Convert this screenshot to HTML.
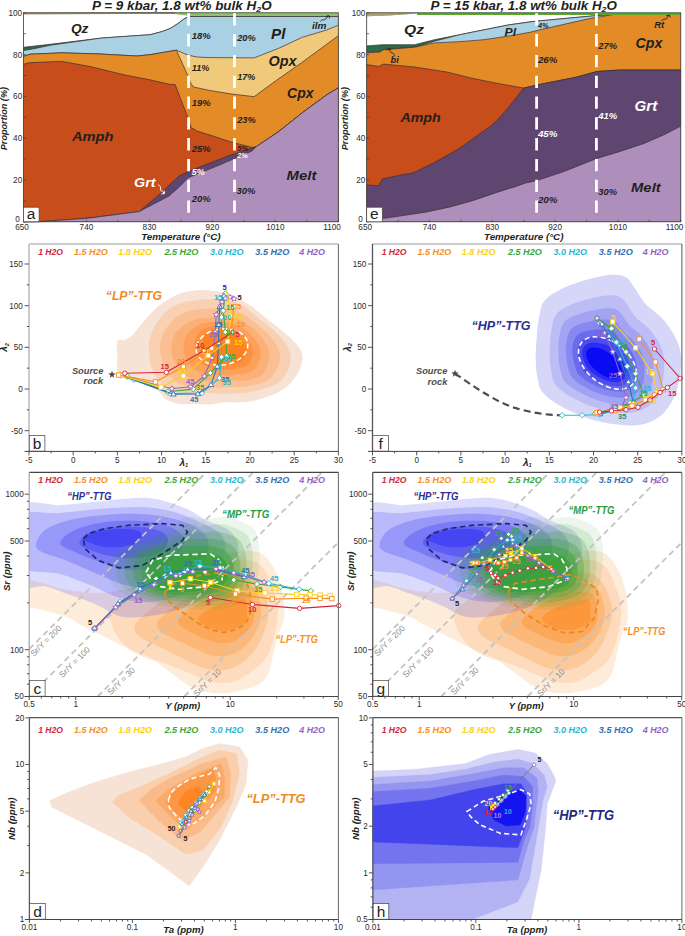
<!DOCTYPE html>
<html><head><meta charset="utf-8"><style>html,body{margin:0;padding:0;background:#fff;width:685px;height:936px;overflow:hidden}svg{display:block}</style></head><body>
<svg width="685" height="936" viewBox="0 0 685 936">
<rect x="23.5" y="12.8" width="314.8" height="209.0" fill="#8ec465"/>
<path d="M23.5,13.6 L170,13.4 L186,15.6 L192,16.5 L338.3,16.5 L338.3,221.8 L23.5,221.8Z" fill="#ffffff"/>
<path d="M23.5,47.3 L50,44.3 L101.8,38 L136.8,35.6 L150,34.7 L162,31.6 L170,28.6 L178,23.5 L184,19 L188.6,16.5 L338.3,16.5 L338.3,221.8 L23.5,221.8Z" fill="#2e6a47"/><path d="M23.5,47.3 L50,44.3 L101.8,38 L136.8,35.6 L150,34.7 L162,31.6 L170,28.6 L178,23.5 L184,19 L188.6,16.5 L338.3,16.5" fill="none" stroke="#3a2f2f" stroke-width="0.7"/>
<path d="M23.5,50.6 L35,48.5 L50,45.3 L101.8,38 L136.8,35.6 L150,34.7 L162,31.6 L170,28.6 L178,23.5 L184,19 L188.6,16.5 L338.3,16.5 L338.3,221.8 L23.5,221.8Z" fill="#a9d0e3"/><path d="M23.5,50.6 L35,48.5 L50,45.3 L101.8,38 L136.8,35.6 L150,34.7 L162,31.6 L170,28.6 L178,23.5 L184,19 L188.6,16.5 L338.3,16.5" fill="none" stroke="#3a2f2f" stroke-width="0.7"/>
<path d="M23.5,56.4 L30,54.2 L62,52.8 L100,54 L136.8,56 L150,54.7 L176.4,50.2 L188.2,55.2 L197,57 L210,57.6 L230,57.7 L254.1,57.9 L278.2,48.5 L302.3,37.3 L326.4,30.1 L338.3,25.3 L338.3,221.8 L23.5,221.8Z" fill="#f0c97b"/><path d="M23.5,56.4 L30,54.2 L62,52.8 L100,54 L136.8,56 L150,54.7 L176.4,50.2 L188.2,55.2 L197,57 L210,57.6 L230,57.7 L254.1,57.9 L278.2,48.5 L302.3,37.3 L326.4,30.1 L338.3,25.3" fill="none" stroke="#3a2f2f" stroke-width="0.7"/>
<path d="M23.5,56.4 L30,54.2 L62,52.8 L100,54 L136.8,56 L150,54.7 L176.4,50.2 L187.6,75.2 L190.5,82.8 L193.4,87 L210,90.5 L230,93.8 L254.1,96.7 L278.2,79.1 L302.3,62.2 L326.4,44.5 L338.3,35.7 L338.3,221.8 L23.5,221.8Z" fill="#e38b27"/><path d="M23.5,56.4 L30,54.2 L62,52.8 L100,54 L136.8,56 L150,54.7 L176.4,50.2 L187.6,75.2 L190.5,82.8 L193.4,87 L210,90.5 L230,93.8 L254.1,96.7 L278.2,79.1 L302.3,62.2 L326.4,44.5 L338.3,35.7" fill="none" stroke="#3a2f2f" stroke-width="0.7"/>
<path d="M23.5,64.3 L30,62.6 L62,61.4 L90,66.5 L125,75 L148.5,79.5 L169.5,84.3 L175.2,84.6 L187.6,116.9 L191.1,127.5 L197,131 L210,135.1 L230,141.7 L251.9,147.4 L256,146.8 L278.2,132 L302.3,112.8 L326.4,95.1 L338.3,87.9 L338.3,221.8 L23.5,221.8Z" fill="#c74d1b"/><path d="M23.5,64.3 L30,62.6 L62,61.4 L90,66.5 L125,75 L148.5,79.5 L169.5,84.3 L175.2,84.6 L187.6,116.9 L191.1,127.5 L197,131 L210,135.1 L230,141.7 L251.9,147.4 L256,146.8 L278.2,132 L302.3,112.8 L326.4,95.1 L338.3,87.9" fill="none" stroke="#3a2f2f" stroke-width="0.7"/>
<path d="M23.5,221.8 L39.9,221.6 L87.1,218.3 L139.2,211.6 L159.1,194.7 L170,184.5 L178.9,176.3 L188.6,171.3 L230,155.3 L251.9,148.2 L256,146.8 L278.2,132 L302.3,112.8 L326.4,95.1 L338.3,87.9 L338.3,221.8 L23.5,221.8Z" fill="#5f4670"/><path d="M23.5,221.8 L39.9,221.6 L87.1,218.3 L139.2,211.6 L159.1,194.7 L170,184.5 L178.9,176.3 L188.6,171.3 L230,155.3 L251.9,148.2 L256,146.8 L278.2,132 L302.3,112.8 L326.4,95.1 L338.3,87.9" fill="none" stroke="#3a2f2f" stroke-width="0.7"/>
<path d="M23.5,221.8 L39.9,221.6 L87.1,218.3 L139.2,211.6 L169,196 L178.9,187.3 L188.6,177.6 L220,164.8 L252,151 L256,146.8 L278.2,132 L302.3,112.8 L326.4,95.1 L338.3,87.9 L338.3,221.8 L23.5,221.8Z" fill="#ae8fbb"/><path d="M23.5,221.8 L39.9,221.6 L87.1,218.3 L139.2,211.6 L169,196 L178.9,187.3 L188.6,177.6 L220,164.8 L252,151 L256,146.8 L278.2,132 L302.3,112.8 L326.4,95.1 L338.3,87.9" fill="none" stroke="#3a2f2f" stroke-width="0.7"/>
<path d="M23.5,13.6 L120,13.3 L175,13.1" stroke="#a38c63" stroke-width="1.6" fill="none"/>
<rect x="23.5" y="12.8" width="314.8" height="209" fill="none" stroke="#3c3c3c" stroke-width="0.8"/>
<line x1="23.5" y1="221.8" x2="26" y2="221.8" stroke="#3c3c3c" stroke-width="0.7"/>
<text x="19.7" y="222.1" font-family="Liberation Sans" font-size="8.2" fill="#2b2b2b" font-weight="normal" font-style="normal" text-anchor="end" >0</text>
<line x1="23.5" y1="200.9" x2="26" y2="200.9" stroke="#3c3c3c" stroke-width="0.7"/>
<line x1="23.5" y1="180" x2="26" y2="180" stroke="#3c3c3c" stroke-width="0.7"/>
<text x="22.2" y="182.9" font-family="Liberation Sans" font-size="8.2" fill="#2b2b2b" font-weight="normal" font-style="normal" text-anchor="end" >20</text>
<line x1="23.5" y1="159.1" x2="26" y2="159.1" stroke="#3c3c3c" stroke-width="0.7"/>
<line x1="23.5" y1="138.2" x2="26" y2="138.2" stroke="#3c3c3c" stroke-width="0.7"/>
<text x="22.2" y="141.1" font-family="Liberation Sans" font-size="8.2" fill="#2b2b2b" font-weight="normal" font-style="normal" text-anchor="end" >40</text>
<line x1="23.5" y1="117.3" x2="26" y2="117.3" stroke="#3c3c3c" stroke-width="0.7"/>
<line x1="23.5" y1="96.4" x2="26" y2="96.4" stroke="#3c3c3c" stroke-width="0.7"/>
<text x="22.2" y="99.3" font-family="Liberation Sans" font-size="8.2" fill="#2b2b2b" font-weight="normal" font-style="normal" text-anchor="end" >60</text>
<line x1="23.5" y1="75.5" x2="26" y2="75.5" stroke="#3c3c3c" stroke-width="0.7"/>
<line x1="23.5" y1="54.6" x2="26" y2="54.6" stroke="#3c3c3c" stroke-width="0.7"/>
<text x="22.2" y="57.5" font-family="Liberation Sans" font-size="8.2" fill="#2b2b2b" font-weight="normal" font-style="normal" text-anchor="end" >80</text>
<line x1="23.5" y1="33.7" x2="26" y2="33.7" stroke="#3c3c3c" stroke-width="0.7"/>
<line x1="23.5" y1="12.8" x2="26" y2="12.8" stroke="#3c3c3c" stroke-width="0.7"/>
<text x="22.2" y="15.7" font-family="Liberation Sans" font-size="8.2" fill="#2b2b2b" font-weight="normal" font-style="normal" text-anchor="end" >100</text>
<line x1="23.5" y1="221.8" x2="23.5" y2="219.8" stroke="#3c3c3c" stroke-width="0.7"/>
<line x1="54.98" y1="221.8" x2="54.98" y2="219.8" stroke="#3c3c3c" stroke-width="0.7"/>
<line x1="86.46" y1="221.8" x2="86.46" y2="219.8" stroke="#3c3c3c" stroke-width="0.7"/>
<line x1="117.94" y1="221.8" x2="117.94" y2="219.8" stroke="#3c3c3c" stroke-width="0.7"/>
<line x1="149.42" y1="221.8" x2="149.42" y2="219.8" stroke="#3c3c3c" stroke-width="0.7"/>
<line x1="180.9" y1="221.8" x2="180.9" y2="219.8" stroke="#3c3c3c" stroke-width="0.7"/>
<line x1="212.38" y1="221.8" x2="212.38" y2="219.8" stroke="#3c3c3c" stroke-width="0.7"/>
<line x1="243.86" y1="221.8" x2="243.86" y2="219.8" stroke="#3c3c3c" stroke-width="0.7"/>
<line x1="275.34" y1="221.8" x2="275.34" y2="219.8" stroke="#3c3c3c" stroke-width="0.7"/>
<line x1="306.82" y1="221.8" x2="306.82" y2="219.8" stroke="#3c3c3c" stroke-width="0.7"/>
<line x1="338.3" y1="221.8" x2="338.3" y2="219.8" stroke="#3c3c3c" stroke-width="0.7"/>
<text x="22" y="229.7" font-family="Liberation Sans" font-size="8.2" fill="#2b2b2b" font-weight="normal" font-style="normal" text-anchor="middle" >650</text>
<text x="86.46" y="229.7" font-family="Liberation Sans" font-size="8.2" fill="#2b2b2b" font-weight="normal" font-style="normal" text-anchor="middle" >740</text>
<text x="149.42" y="229.7" font-family="Liberation Sans" font-size="8.2" fill="#2b2b2b" font-weight="normal" font-style="normal" text-anchor="middle" >830</text>
<text x="212.38" y="229.7" font-family="Liberation Sans" font-size="8.2" fill="#2b2b2b" font-weight="normal" font-style="normal" text-anchor="middle" >920</text>
<text x="275.34" y="229.7" font-family="Liberation Sans" font-size="8.2" fill="#2b2b2b" font-weight="normal" font-style="normal" text-anchor="middle" >1010</text>
<text x="340.8" y="229.7" font-family="Liberation Sans" font-size="8.2" fill="#2b2b2b" font-weight="normal" font-style="normal" text-anchor="end" >1100</text>
<text x="180.9" y="239.5" font-family="Liberation Sans" font-size="9.5" fill="#231f20" font-weight="bold" font-style="italic" text-anchor="middle" textLength="79.5" lengthAdjust="spacingAndGlyphs" >Temperature (°C)</text>
<g transform="translate(7.2,118.6) rotate(-90)"><text x="0" y="0" font-family="Liberation Sans" font-size="8.8" fill="#231f20" font-weight="bold" font-style="italic" text-anchor="middle" textLength="63.3" lengthAdjust="spacingAndGlyphs" >Proportion (%)</text></g>
<text x="92" y="9.8" font-family="Liberation Sans" font-size="12" font-weight="bold" font-style="italic" fill="#231f20" textLength="179.7" lengthAdjust="spacingAndGlyphs">P = 9 kbar, 1.8 wt% bulk H<tspan font-size="8" dy="2">2</tspan><tspan dy="-2">O</tspan></text>
<line x1="188.6" y1="13.3" x2="188.6" y2="221" stroke="#ffffff" stroke-width="2.8" stroke-dasharray="12.3 8.5" stroke-dashoffset="0"/>
<line x1="234.5" y1="13.3" x2="234.5" y2="221" stroke="#ffffff" stroke-width="2.8" stroke-dasharray="12.3 8.5" stroke-dashoffset="0"/>
<rect x="23.5" y="207.2" width="15.6" height="14.6" fill="#fff" stroke="#4a3f3f" stroke-width="0.7"/>
<text x="31.1" y="218.9" font-family="Liberation Sans" font-size="15.5" fill="#231f20" font-weight="normal" font-style="normal" text-anchor="middle" >a</text>
<text x="70.9" y="33.4" font-family="Liberation Sans" font-size="13.5" fill="#231f20" font-weight="bold" font-style="italic" text-anchor="start" textLength="17.5" lengthAdjust="spacingAndGlyphs" >Qz</text>
<text x="271" y="38.6" font-family="Liberation Sans" font-size="14" fill="#231f20" font-weight="bold" font-style="italic" text-anchor="start" textLength="14.4" lengthAdjust="spacingAndGlyphs" >Pl</text>
<text x="268.5" y="66.2" font-family="Liberation Sans" font-size="14" fill="#231f20" font-weight="bold" font-style="italic" text-anchor="start" textLength="28.1" lengthAdjust="spacingAndGlyphs" >Opx</text>
<text x="287" y="97.5" font-family="Liberation Sans" font-size="14" fill="#231f20" font-weight="bold" font-style="italic" text-anchor="start" textLength="26.5" lengthAdjust="spacingAndGlyphs" >Cpx</text>
<text x="71.9" y="140.8" font-family="Liberation Sans" font-size="13.5" fill="#231f20" font-weight="bold" font-style="italic" text-anchor="start" textLength="41.6" lengthAdjust="spacingAndGlyphs" >Amph</text>
<text x="286.6" y="179.5" font-family="Liberation Sans" font-size="13.5" fill="#231f20" font-weight="bold" font-style="italic" text-anchor="start" textLength="29.8" lengthAdjust="spacingAndGlyphs" >Melt</text>
<text x="134" y="187" font-family="Liberation Sans" font-size="12.5" fill="#ffffff" font-weight="bold" font-style="italic" text-anchor="start" textLength="21.5" lengthAdjust="spacingAndGlyphs" >Grt</text>
<text x="311.9" y="28.5" font-family="Liberation Sans" font-size="9" fill="#231f20" font-weight="bold" font-style="italic" text-anchor="start" textLength="14.5" lengthAdjust="spacingAndGlyphs" >ilm</text>
<path d="M320.3,21.6 C321.5,20 322.5,19.6 323.5,19.8 C325,20 325.6,19.2 326.5,18.1 L328.4,15.8" fill="none" stroke="#231f20" stroke-width="0.9"/>
<path d="M325.6,16.7 L328.6,15.4 L329.6,18.4" fill="none" stroke="#231f20" stroke-width="0.9"/>
<path d="M158.2,184.8 C160,185.8 161.2,187.2 160.4,189 C160,190.3 162,191.2 164.2,193.1" fill="none" stroke="#ffffff" stroke-width="1"/>
<path d="M161.4,193.9 L164.6,193.5 L164,190.5" fill="none" stroke="#ffffff" stroke-width="1"/>
<text x="191.8" y="39.3" font-family="Liberation Sans" font-size="9" fill="#231f20" font-weight="bold" font-style="italic" text-anchor="start" textLength="19" lengthAdjust="spacingAndGlyphs" >18%</text>
<text x="191.8" y="70.8" font-family="Liberation Sans" font-size="9" fill="#231f20" font-weight="bold" font-style="italic" text-anchor="start" textLength="17.5" lengthAdjust="spacingAndGlyphs" >11%</text>
<text x="191.8" y="105.5" font-family="Liberation Sans" font-size="9" fill="#231f20" font-weight="bold" font-style="italic" text-anchor="start" textLength="19" lengthAdjust="spacingAndGlyphs" >19%</text>
<text x="191.8" y="152.2" font-family="Liberation Sans" font-size="9" fill="#231f20" font-weight="bold" font-style="italic" text-anchor="start" textLength="19" lengthAdjust="spacingAndGlyphs" >25%</text>
<text x="191.8" y="175" font-family="Liberation Sans" font-size="9" fill="#ffffff" font-weight="bold" font-style="italic" text-anchor="start" textLength="13" lengthAdjust="spacingAndGlyphs" >5%</text>
<text x="191.8" y="201.8" font-family="Liberation Sans" font-size="9" fill="#231f20" font-weight="bold" font-style="italic" text-anchor="start" textLength="19" lengthAdjust="spacingAndGlyphs" >20%</text>
<text x="237.2" y="41.3" font-family="Liberation Sans" font-size="9" fill="#231f20" font-weight="bold" font-style="italic" text-anchor="start" textLength="18.5" lengthAdjust="spacingAndGlyphs" >20%</text>
<text x="237.2" y="79.9" font-family="Liberation Sans" font-size="9" fill="#231f20" font-weight="bold" font-style="italic" text-anchor="start" textLength="18" lengthAdjust="spacingAndGlyphs" >17%</text>
<text x="237.2" y="123.2" font-family="Liberation Sans" font-size="9" fill="#231f20" font-weight="bold" font-style="italic" text-anchor="start" textLength="18.5" lengthAdjust="spacingAndGlyphs" >23%</text>
<text x="237.2" y="150.5" font-family="Liberation Sans" font-size="8" fill="#231f20" font-weight="bold" font-style="italic" text-anchor="start" textLength="11" lengthAdjust="spacingAndGlyphs" >5%</text>
<text x="237.2" y="157.7" font-family="Liberation Sans" font-size="8" fill="#ffffff" font-weight="bold" font-style="italic" text-anchor="start" textLength="10.5" lengthAdjust="spacingAndGlyphs" >2%</text>
<text x="236.5" y="193.9" font-family="Liberation Sans" font-size="9" fill="#231f20" font-weight="bold" font-style="italic" text-anchor="start" textLength="19" lengthAdjust="spacingAndGlyphs" >30%</text>
<rect x="366.7" y="12.8" width="314.09999999999997" height="209.0" fill="#6fae3e"/>
<path d="M366.7,16.2 L390,15.2 L417,13.6 L680.8,13.6 L680.8,221.8 L366.7,221.8Z" fill="#ffffff"/>
<path d="M366.7,45.9 L382.3,44.7 L414.6,44.7 L434.4,39.7 L459.3,34.8 L484,29.8 L508.9,24.9 L530,21.9 L537.3,21.1 L589.4,16.2 L614.3,14.4 L680.8,13.8 L680.8,221.8 L366.7,221.8Z" fill="#2e6a47"/><path d="M366.7,45.9 L382.3,44.7 L414.6,44.7 L434.4,39.7 L459.3,34.8 L484,29.8 L508.9,24.9 L530,21.9 L537.3,21.1 L589.4,16.2 L614.3,14.4 L680.8,13.8" fill="none" stroke="#3a2f2f" stroke-width="0.7"/>
<path d="M366.7,52.6 L379.9,52.1 L383.6,49.7 L414.6,47.2 L428,43.2 L434.4,41.2 L459.3,34.8 L484,29.8 L508.9,24.9 L530,21.9 L537.3,21.1 L589.4,16.2 L614.3,14.4 L680.8,13.8 L680.8,221.8 L366.7,221.8Z" fill="#a9d0e3"/><path d="M366.7,52.6 L379.9,52.1 L383.6,49.7 L414.6,47.2 L428,43.2 L434.4,41.2 L459.3,34.8 L484,29.8 L508.9,24.9 L530,21.9 L537.3,21.1 L589.4,16.2 L614.3,14.4 L680.8,13.8" fill="none" stroke="#3a2f2f" stroke-width="0.7"/>
<path d="M366.7,52.6 L379.9,52.1 L383.6,49.7 L414.6,47.2 L434.4,42.9 L459.3,41.7 L484,39.7 L508.9,36 L530,32.3 L539.8,29.8 L589.4,18.6 L614.3,14.4 L680.8,13.8 L680.8,221.8 L366.7,221.8Z" fill="#e38b27"/><path d="M366.7,52.6 L379.9,52.1 L383.6,49.7 L414.6,47.2 L434.4,42.9 L459.3,41.7 L484,39.7 L508.9,36 L530,32.3 L539.8,29.8 L589.4,18.6 L614.3,14.4 L680.8,13.8" fill="none" stroke="#3a2f2f" stroke-width="0.7"/>
<path d="M366.7,64.6 L378.6,66.5 L383.6,64.1 L414.6,67 L446.8,72 L471.7,78.2 L496.5,83.2 L523.8,88.1 L539.8,84.4 L577,77 L596.9,71.5 L619.2,70 L680.8,70 L680.8,221.8 L366.7,221.8Z" fill="#c74d1b"/><path d="M366.7,64.6 L378.6,66.5 L383.6,64.1 L414.6,67 L446.8,72 L471.7,78.2 L496.5,83.2 L523.8,88.1 L539.8,84.4 L577,77 L596.9,71.5 L619.2,70 L680.8,70" fill="none" stroke="#3a2f2f" stroke-width="0.7"/>
<path d="M366.7,184.9 L378.6,185.7 L382.3,179 L397.2,175.8 L413.3,172.8 L434.4,162.6 L459.3,148.5 L479.1,134.2 L491.4,125.5 L500,117.5 L512.4,102.5 L523.8,88.1 L539.8,84.4 L577,77 L596.9,71.5 L619.2,70 L680.8,70 L680.8,221.8 L366.7,221.8Z" fill="#5f4670"/><path d="M366.7,184.9 L378.6,185.7 L382.3,179 L397.2,175.8 L413.3,172.8 L434.4,162.6 L459.3,148.5 L479.1,134.2 L491.4,125.5 L500,117.5 L512.4,102.5 L523.8,88.1 L539.8,84.4 L577,77 L596.9,71.5 L619.2,70 L680.8,70" fill="none" stroke="#3a2f2f" stroke-width="0.7"/>
<path d="M366.7,221.6 L382.3,218.6 L403.4,215.5 L426.7,212 L450.1,206.9 L473.4,200.4 L496.8,192.4 L516,186.4 L524.9,183.2 L537.3,180.4 L564.6,171.3 L596.9,158.4 L619.2,151.7 L644,143.5 L663.9,134.8 L680.8,126.1 L680.8,221.8 L366.7,221.8Z" fill="#ae8fbb"/><path d="M366.7,221.6 L382.3,218.6 L403.4,215.5 L426.7,212 L450.1,206.9 L473.4,200.4 L496.8,192.4 L516,186.4 L524.9,183.2 L537.3,180.4 L564.6,171.3 L596.9,158.4 L619.2,151.7 L644,143.5 L663.9,134.8 L680.8,126.1" fill="none" stroke="#3a2f2f" stroke-width="0.7"/>
<path d="M366.7,12.8 L366.7,16.2 L390,15.4 L417,13.4 L366.7,12.8 Z" fill="#b09d78"/>
<path d="M417,13.9 L680.8,13.9" stroke="#55b025" stroke-width="2" fill="none"/>
<rect x="366.7" y="12.8" width="314.1" height="209" fill="none" stroke="#3c3c3c" stroke-width="0.8"/>
<line x1="366.7" y1="221.8" x2="369.2" y2="221.8" stroke="#3c3c3c" stroke-width="0.7"/>
<text x="362.9" y="222.1" font-family="Liberation Sans" font-size="8.2" fill="#2b2b2b" font-weight="normal" font-style="normal" text-anchor="end" >0</text>
<line x1="366.7" y1="200.9" x2="369.2" y2="200.9" stroke="#3c3c3c" stroke-width="0.7"/>
<line x1="366.7" y1="180" x2="369.2" y2="180" stroke="#3c3c3c" stroke-width="0.7"/>
<text x="365.4" y="182.9" font-family="Liberation Sans" font-size="8.2" fill="#2b2b2b" font-weight="normal" font-style="normal" text-anchor="end" >20</text>
<line x1="366.7" y1="159.1" x2="369.2" y2="159.1" stroke="#3c3c3c" stroke-width="0.7"/>
<line x1="366.7" y1="138.2" x2="369.2" y2="138.2" stroke="#3c3c3c" stroke-width="0.7"/>
<text x="365.4" y="141.1" font-family="Liberation Sans" font-size="8.2" fill="#2b2b2b" font-weight="normal" font-style="normal" text-anchor="end" >40</text>
<line x1="366.7" y1="117.3" x2="369.2" y2="117.3" stroke="#3c3c3c" stroke-width="0.7"/>
<line x1="366.7" y1="96.4" x2="369.2" y2="96.4" stroke="#3c3c3c" stroke-width="0.7"/>
<text x="365.4" y="99.3" font-family="Liberation Sans" font-size="8.2" fill="#2b2b2b" font-weight="normal" font-style="normal" text-anchor="end" >60</text>
<line x1="366.7" y1="75.5" x2="369.2" y2="75.5" stroke="#3c3c3c" stroke-width="0.7"/>
<line x1="366.7" y1="54.6" x2="369.2" y2="54.6" stroke="#3c3c3c" stroke-width="0.7"/>
<text x="365.4" y="57.5" font-family="Liberation Sans" font-size="8.2" fill="#2b2b2b" font-weight="normal" font-style="normal" text-anchor="end" >80</text>
<line x1="366.7" y1="33.7" x2="369.2" y2="33.7" stroke="#3c3c3c" stroke-width="0.7"/>
<line x1="366.7" y1="12.8" x2="369.2" y2="12.8" stroke="#3c3c3c" stroke-width="0.7"/>
<text x="365.4" y="15.7" font-family="Liberation Sans" font-size="8.2" fill="#2b2b2b" font-weight="normal" font-style="normal" text-anchor="end" >100</text>
<line x1="366.7" y1="221.8" x2="366.7" y2="219.8" stroke="#3c3c3c" stroke-width="0.7"/>
<line x1="398.11" y1="221.8" x2="398.11" y2="219.8" stroke="#3c3c3c" stroke-width="0.7"/>
<line x1="429.52" y1="221.8" x2="429.52" y2="219.8" stroke="#3c3c3c" stroke-width="0.7"/>
<line x1="460.93" y1="221.8" x2="460.93" y2="219.8" stroke="#3c3c3c" stroke-width="0.7"/>
<line x1="492.34" y1="221.8" x2="492.34" y2="219.8" stroke="#3c3c3c" stroke-width="0.7"/>
<line x1="523.75" y1="221.8" x2="523.75" y2="219.8" stroke="#3c3c3c" stroke-width="0.7"/>
<line x1="555.16" y1="221.8" x2="555.16" y2="219.8" stroke="#3c3c3c" stroke-width="0.7"/>
<line x1="586.57" y1="221.8" x2="586.57" y2="219.8" stroke="#3c3c3c" stroke-width="0.7"/>
<line x1="617.98" y1="221.8" x2="617.98" y2="219.8" stroke="#3c3c3c" stroke-width="0.7"/>
<line x1="649.39" y1="221.8" x2="649.39" y2="219.8" stroke="#3c3c3c" stroke-width="0.7"/>
<line x1="680.8" y1="221.8" x2="680.8" y2="219.8" stroke="#3c3c3c" stroke-width="0.7"/>
<text x="365.2" y="229.7" font-family="Liberation Sans" font-size="8.2" fill="#2b2b2b" font-weight="normal" font-style="normal" text-anchor="middle" >650</text>
<text x="429.52" y="229.7" font-family="Liberation Sans" font-size="8.2" fill="#2b2b2b" font-weight="normal" font-style="normal" text-anchor="middle" >740</text>
<text x="492.34" y="229.7" font-family="Liberation Sans" font-size="8.2" fill="#2b2b2b" font-weight="normal" font-style="normal" text-anchor="middle" >830</text>
<text x="555.16" y="229.7" font-family="Liberation Sans" font-size="8.2" fill="#2b2b2b" font-weight="normal" font-style="normal" text-anchor="middle" >920</text>
<text x="617.98" y="229.7" font-family="Liberation Sans" font-size="8.2" fill="#2b2b2b" font-weight="normal" font-style="normal" text-anchor="middle" >1010</text>
<text x="683.3" y="229.7" font-family="Liberation Sans" font-size="8.2" fill="#2b2b2b" font-weight="normal" font-style="normal" text-anchor="end" >1100</text>
<text x="523.75" y="239.5" font-family="Liberation Sans" font-size="9.5" fill="#231f20" font-weight="bold" font-style="italic" text-anchor="middle" textLength="79.5" lengthAdjust="spacingAndGlyphs" >Temperature (°C)</text>
<g transform="translate(348.2,118.6) rotate(-90)"><text x="0" y="0" font-family="Liberation Sans" font-size="8.8" fill="#231f20" font-weight="bold" font-style="italic" text-anchor="middle" textLength="63.3" lengthAdjust="spacingAndGlyphs" >Proportion (%)</text></g>
<text x="430.6" y="9.8" font-family="Liberation Sans" font-size="12" font-weight="bold" font-style="italic" fill="#231f20" textLength="186.4" lengthAdjust="spacingAndGlyphs">P = 15 kbar, 1.8 wt% bulk H<tspan font-size="8" dy="2">2</tspan><tspan dy="-2">O</tspan></text>
<line x1="536.6" y1="13.3" x2="536.6" y2="221" stroke="#ffffff" stroke-width="2.8" stroke-dasharray="12.3 8.5" stroke-dashoffset="0"/>
<line x1="596.4" y1="13.3" x2="596.4" y2="221" stroke="#ffffff" stroke-width="2.8" stroke-dasharray="12.3 8.5" stroke-dashoffset="0"/>
<rect x="366.7" y="207.2" width="15.6" height="14.6" fill="#fff" stroke="#4a3f3f" stroke-width="0.7"/>
<text x="374.3" y="218.9" font-family="Liberation Sans" font-size="15.5" fill="#231f20" font-weight="normal" font-style="normal" text-anchor="middle" >e</text>
<text x="404" y="34.2" font-family="Liberation Sans" font-size="13.5" fill="#231f20" font-weight="bold" font-style="italic" text-anchor="start" textLength="20" lengthAdjust="spacingAndGlyphs" >Qz</text>
<text x="504.6" y="36.3" font-family="Liberation Sans" font-size="10" fill="#231f20" font-weight="bold" font-style="italic" text-anchor="start" textLength="11.6" lengthAdjust="spacingAndGlyphs" >Pl</text>
<text x="538" y="28.2" font-family="Liberation Sans" font-size="7" fill="#231f20" font-weight="bold" font-style="italic" text-anchor="start" textLength="10.5" lengthAdjust="spacingAndGlyphs" >4%</text>
<text x="390.6" y="63.2" font-family="Liberation Sans" font-size="9" fill="#231f20" font-weight="bold" font-style="italic" text-anchor="start" textLength="8.2" lengthAdjust="spacingAndGlyphs" >bi</text>
<text x="654.2" y="27.6" font-family="Liberation Sans" font-size="8.8" fill="#231f20" font-weight="bold" font-style="italic" text-anchor="start" textLength="10" lengthAdjust="spacingAndGlyphs" >Rt</text>
<path d="M394.4,56.4 C394.6,54.6 393.8,53.4 392.4,53 C390.6,52.6 389.6,51.4 388.6,48.4" fill="none" stroke="#231f20" stroke-width="0.9"/>
<path d="M387.2,50.4 L388.5,48 L391.2,50" fill="none" stroke="#231f20" stroke-width="0.9"/>
<path d="M661.4,21 C662.6,19.6 663.8,19 665.2,19.2 C666.6,19.2 667.6,17.4 669,15.2" fill="none" stroke="#231f20" stroke-width="0.9"/>
<path d="M666.2,16 L669.2,15 L670.4,17.4" fill="none" stroke="#231f20" stroke-width="0.9"/>
<text x="635.6" y="47.8" font-family="Liberation Sans" font-size="14" fill="#231f20" font-weight="bold" font-style="italic" text-anchor="start" textLength="26.7" lengthAdjust="spacingAndGlyphs" >Cpx</text>
<text x="400.4" y="121.9" font-family="Liberation Sans" font-size="13.5" fill="#231f20" font-weight="bold" font-style="italic" text-anchor="start" textLength="40.3" lengthAdjust="spacingAndGlyphs" >Amph</text>
<text x="634.6" y="110.8" font-family="Liberation Sans" font-size="14" fill="#ffffff" font-weight="bold" font-style="italic" text-anchor="start" textLength="22.6" lengthAdjust="spacingAndGlyphs" >Grt</text>
<text x="631" y="192.3" font-family="Liberation Sans" font-size="13.5" fill="#231f20" font-weight="bold" font-style="italic" text-anchor="start" textLength="29.7" lengthAdjust="spacingAndGlyphs" >Melt</text>
<text x="598.3" y="48.8" font-family="Liberation Sans" font-size="9" fill="#231f20" font-weight="bold" font-style="italic" text-anchor="start" textLength="18.7" lengthAdjust="spacingAndGlyphs" >27%</text>
<text x="537.9" y="62.9" font-family="Liberation Sans" font-size="9" fill="#231f20" font-weight="bold" font-style="italic" text-anchor="start" textLength="19.6" lengthAdjust="spacingAndGlyphs" >26%</text>
<text x="598.3" y="118.8" font-family="Liberation Sans" font-size="9" fill="#ffffff" font-weight="bold" font-style="italic" text-anchor="start" textLength="19" lengthAdjust="spacingAndGlyphs" >41%</text>
<text x="537.9" y="137" font-family="Liberation Sans" font-size="9" fill="#ffffff" font-weight="bold" font-style="italic" text-anchor="start" textLength="19.6" lengthAdjust="spacingAndGlyphs" >45%</text>
<text x="598.3" y="195.4" font-family="Liberation Sans" font-size="9" fill="#231f20" font-weight="bold" font-style="italic" text-anchor="start" textLength="18.7" lengthAdjust="spacingAndGlyphs" >30%</text>
<text x="537.9" y="203.4" font-family="Liberation Sans" font-size="9" fill="#231f20" font-weight="bold" font-style="italic" text-anchor="start" textLength="19.6" lengthAdjust="spacingAndGlyphs" >20%</text>
<path d="M117.3,341.3 C118.52,338.62 122.17,340.87 124.6,339.9 C127.03,338.93 129.47,337.7 131.9,335.5 C134.33,333.3 136.52,329.87 139.2,326.7 C141.88,323.53 144.83,319.9 148,316.5 C151.17,313.1 154.32,309.47 158.2,306.3 C162.08,303.13 167.17,299.82 171.3,297.5 C175.43,295.18 178.62,293.62 183,292.4 C187.38,291.18 193.1,290.5 197.6,290.2 C202.1,289.9 206.22,290.28 210,290.6 C213.78,290.92 216.02,291.05 220.3,292.1 C224.58,293.15 230.58,294.57 235.7,296.9 C240.82,299.23 245.9,302.53 251,306.1 C256.1,309.67 261.2,314.22 266.3,318.3 C271.4,322.38 277,326.77 281.6,330.6 C286.2,334.43 290.57,337.73 293.9,341.3 C297.23,344.87 300.2,348.68 301.6,352 C303,355.32 302.82,357.87 302.3,361.2 C301.78,364.53 300.42,368.42 298.5,372 C296.58,375.58 293.88,379.47 290.8,382.7 C287.72,385.93 283.87,389.1 280,391.4 C276.13,393.7 272.1,394.92 267.6,396.5 C263.1,398.08 257.87,399.93 253,400.9 C248.13,401.87 243.27,402.03 238.4,402.3 C233.53,402.57 228.67,402.13 223.8,402.5 C218.93,402.87 214.07,404.25 209.2,404.5 C204.33,404.75 199.57,404.08 194.6,404 C189.63,403.92 184.12,404.73 179.4,404 C174.68,403.27 170.02,401.87 166.3,399.6 C162.58,397.33 161.48,393.17 157.1,390.4 C152.72,387.63 145.85,385.23 140,383 C134.15,380.77 125.78,378.83 122,377 C118.22,375.17 118.08,375.5 117.3,372 C116.52,368.5 117.3,361.12 117.3,356 C117.3,350.88 116.08,343.98 117.3,341.3Z" fill="#f7e3d5" />
<path d="M148.7,348.6 C148.42,344.13 148.65,343.4 149.5,340 C150.35,336.6 151.13,332.85 153.8,328.2 C156.47,323.55 161.12,316.23 165.5,312.1 C169.88,307.97 175.23,305.35 180.1,303.4 C184.97,301.45 189.72,301.1 194.7,300.4 C199.68,299.7 204.45,299.28 210,299.2 C215.55,299.12 222.45,298.75 228,299.9 C233.55,301.05 238.2,303.03 243.3,306.1 C248.4,309.17 253.48,314.22 258.6,318.3 C263.72,322.38 269.4,326.25 274,330.6 C278.6,334.95 283.4,340.07 286.2,344.4 C289,348.73 290.42,352.52 290.8,356.6 C291.18,360.68 290.03,365.07 288.5,368.9 C286.97,372.73 283.87,376.95 281.6,379.6 C279.33,382.25 278.45,383.08 274.9,384.8 C271.35,386.52 265.17,388.57 260.3,389.9 C255.43,391.23 251.78,392.12 245.7,392.8 C239.62,393.48 231.1,394.05 223.8,394 C216.5,393.95 208.37,392.67 201.9,392.5 C195.43,392.33 190.28,393.52 185,393 C179.72,392.48 173.98,390.87 170.2,389.4 C166.42,387.93 164.7,386.43 162.3,384.2 C159.9,381.97 157.65,378.9 155.8,376 C153.95,373.1 152.38,371.37 151.2,366.8 C150.02,362.23 148.98,353.07 148.7,348.6Z" fill="#f9d0b2" />
<path d="M278.12,348 C278.96,349.94 279.62,352.04 279.91,354.09 C280.2,356.14 280.16,358.27 279.88,360.3 C279.59,362.33 278.95,364.35 278.2,366.26 C277.44,368.17 276.4,369.99 275.35,371.75 C274.31,373.52 273.34,375.35 271.94,376.83 C270.55,378.32 268.8,379.63 266.97,380.67 C265.14,381.72 262.95,382.41 260.97,383.09 C258.99,383.77 257,384.29 255.11,384.77 C253.21,385.25 251.4,385.67 249.6,385.99 C247.8,386.3 246.03,386.5 244.32,386.66 C242.61,386.81 240.93,386.85 239.33,386.92 C237.72,386.99 236.19,387.02 234.7,387.08 C233.2,387.14 231.77,387.2 230.35,387.26 C228.92,387.32 227.53,387.38 226.14,387.42 C224.75,387.45 223.38,387.49 222,387.49 C220.62,387.5 219.25,387.47 217.86,387.43 C216.46,387.39 215.08,387.33 213.66,387.26 C212.24,387.18 210.82,387.08 209.33,386.99 C207.85,386.91 206.36,386.8 204.75,386.75 C203.14,386.7 201.48,386.69 199.67,386.68 C197.87,386.66 195.88,386.78 193.92,386.65 C191.95,386.52 189.89,386.31 187.88,385.89 C185.87,385.48 183.82,384.9 181.85,384.15 C179.88,383.4 177.82,382.52 176.06,381.38 C174.3,380.23 172.73,378.79 171.29,377.28 C169.85,375.76 168.63,374.04 167.42,372.3 C166.2,370.56 164.93,368.77 163.99,366.85 C163.04,364.93 162.35,362.87 161.77,360.8 C161.19,358.74 160.8,356.6 160.49,354.46 C160.18,352.33 159.89,350.15 159.91,348 C159.93,345.85 160.19,343.66 160.6,341.55 C161.02,339.44 161.64,337.33 162.42,335.33 C163.19,333.34 164.13,331.37 165.25,329.56 C166.37,327.75 167.79,326.07 169.16,324.48 C170.54,322.88 171.98,321.37 173.49,319.99 C175,318.61 176.58,317.32 178.24,316.2 C179.89,315.08 181.66,314.11 183.43,313.27 C185.2,312.44 187.03,311.74 188.86,311.2 C190.69,310.65 192.59,310.32 194.39,310 C196.19,309.68 197.97,309.52 199.66,309.31 C201.35,309.1 202.94,308.89 204.52,308.74 C206.1,308.6 207.64,308.5 209.14,308.43 C210.65,308.36 212.12,308.35 213.57,308.33 C215.01,308.3 216.42,308.28 217.83,308.28 C219.23,308.28 220.61,308.29 222,308.32 C223.39,308.36 224.77,308.38 226.15,308.51 C227.53,308.63 228.91,308.8 230.28,309.06 C231.64,309.31 233.01,309.63 234.33,310.05 C235.66,310.46 236.97,310.96 238.24,311.52 C239.51,312.09 240.75,312.74 241.96,313.43 C243.17,314.12 244.33,314.89 245.49,315.67 C246.65,316.44 247.78,317.26 248.93,318.1 C250.07,318.93 251.2,319.78 252.36,320.66 C253.53,321.54 254.71,322.42 255.93,323.35 C257.15,324.28 258.41,325.22 259.67,326.25 C260.93,327.28 262.22,328.35 263.5,329.52 C264.78,330.69 266.06,331.93 267.34,333.27 C268.61,334.61 269.89,336.02 271.15,337.55 C272.41,339.08 273.76,340.7 274.92,342.44 C276.08,344.18 277.29,346.06 278.12,348Z" fill="#fac093" />
<path d="M171.3,345.7 C171.63,342.53 172.78,338.68 174,336 C175.22,333.32 175.63,332.12 178.6,329.6 C181.57,327.08 187.17,322.83 191.8,320.9 C196.43,318.97 201.7,318.57 206.4,318 C211.1,317.43 215.12,317.45 220,317.5 C224.88,317.55 230.03,316.38 235.7,318.3 C241.37,320.22 248.9,324.65 254,329 C259.1,333.35 263.73,339.8 266.3,344.4 C268.87,349 269.4,352.77 269.4,356.6 C269.4,360.43 267.82,364.17 266.3,367.4 C264.78,370.63 263.73,373.83 260.3,376 C256.87,378.17 250.57,379.63 245.7,380.4 C240.83,381.17 236.6,380.47 231.1,380.6 C225.6,380.73 218.72,381.38 212.7,381.2 C206.68,381.02 199.78,380.7 195,379.5 C190.22,378.3 187.17,376.58 184,374 C180.83,371.42 178,367.17 176,364 C174,360.83 172.78,358.05 172,355 C171.22,351.95 170.97,348.87 171.3,345.7Z" fill="#fbb076" />
<path d="M259.71,348 C260.13,349.31 260.43,350.69 260.57,352.05 C260.71,353.42 260.73,354.84 260.56,356.2 C260.4,357.56 260.02,358.91 259.59,360.21 C259.15,361.51 258.55,362.77 257.94,364 C257.34,365.24 256.79,366.53 255.96,367.61 C255.13,368.69 254.13,369.72 252.96,370.5 C251.8,371.28 250.32,371.8 248.97,372.28 C247.63,372.77 246.22,373.11 244.9,373.43 C243.57,373.75 242.3,374.01 241.04,374.21 C239.78,374.4 238.55,374.51 237.35,374.59 C236.16,374.67 234.99,374.66 233.88,374.68 C232.77,374.71 231.72,374.72 230.69,374.76 C229.67,374.8 228.7,374.86 227.72,374.91 C226.75,374.97 225.8,375.04 224.85,375.09 C223.89,375.14 222.95,375.2 222,375.24 C221.05,375.27 220.1,375.31 219.13,375.31 C218.16,375.32 217.19,375.31 216.2,375.26 C215.22,375.22 214.23,375.13 213.22,375.03 C212.21,374.92 211.19,374.8 210.14,374.64 C209.09,374.49 208.02,374.32 206.92,374.11 C205.83,373.9 204.69,373.68 203.56,373.38 C202.43,373.08 201.25,372.74 200.12,372.3 C198.99,371.85 197.84,371.34 196.78,370.71 C195.71,370.08 194.68,369.35 193.73,368.54 C192.78,367.73 191.88,366.82 191.06,365.86 C190.24,364.9 189.52,363.85 188.81,362.78 C188.09,361.71 187.4,360.6 186.78,359.44 C186.16,358.29 185.55,357.09 185.08,355.85 C184.62,354.61 184.23,353.31 183.97,352 C183.71,350.69 183.55,349.34 183.52,348 C183.48,346.66 183.59,345.31 183.77,343.98 C183.96,342.66 184.25,341.34 184.62,340.05 C184.99,338.77 185.34,337.46 185.97,336.29 C186.6,335.12 187.52,334.05 188.39,333.04 C189.27,332.03 190.25,331.1 191.2,330.22 C192.15,329.33 193.11,328.49 194.11,327.74 C195.12,326.98 196.14,326.27 197.22,325.69 C198.31,325.11 199.47,324.64 200.62,324.25 C201.76,323.86 202.94,323.58 204.07,323.32 C205.2,323.07 206.32,322.88 207.4,322.71 C208.48,322.54 209.52,322.38 210.55,322.28 C211.58,322.17 212.59,322.11 213.58,322.08 C214.57,322.05 215.54,322.07 216.49,322.09 C217.44,322.11 218.37,322.17 219.29,322.21 C220.21,322.26 221.1,322.32 222,322.35 C222.9,322.39 223.79,322.39 224.69,322.42 C225.59,322.46 226.5,322.48 227.41,322.56 C228.32,322.64 229.24,322.73 230.15,322.9 C231.06,323.08 231.98,323.3 232.87,323.58 C233.77,323.86 234.64,324.21 235.52,324.58 C236.41,324.94 237.28,325.34 238.16,325.76 C239.04,326.18 239.92,326.63 240.8,327.12 C241.69,327.6 242.58,328.11 243.47,328.67 C244.37,329.22 245.27,329.8 246.16,330.45 C247.05,331.09 247.96,331.77 248.82,332.52 C249.68,333.27 250.51,334.08 251.33,334.94 C252.14,335.81 252.92,336.73 253.69,337.7 C254.46,338.68 255.21,339.7 255.93,340.79 C256.65,341.87 257.38,343.01 258.01,344.22 C258.64,345.42 259.28,346.69 259.71,348Z" fill="#fca05a" />
<path d="M252.31,348 C252.6,349.05 252.79,350.15 252.86,351.24 C252.93,352.33 252.88,353.45 252.73,354.53 C252.57,355.61 252.27,356.69 251.92,357.72 C251.56,358.75 251.09,359.76 250.58,360.72 C250.06,361.68 249.53,362.66 248.81,363.48 C248.1,364.3 247.23,365.05 246.28,365.64 C245.34,366.24 244.2,366.66 243.16,367.05 C242.11,367.44 241.02,367.72 239.99,367.98 C238.97,368.25 237.97,368.46 237,368.64 C236.03,368.83 235.08,368.96 234.17,369.07 C233.25,369.19 232.36,369.25 231.5,369.33 C230.64,369.41 229.81,369.47 229,369.54 C228.19,369.62 227.41,369.69 226.63,369.76 C225.84,369.83 225.08,369.89 224.31,369.94 C223.54,369.99 222.77,370.04 222,370.06 C221.23,370.08 220.46,370.09 219.68,370.07 C218.9,370.05 218.12,370.01 217.34,369.93 C216.56,369.84 215.78,369.71 215,369.55 C214.22,369.39 213.44,369.19 212.67,368.97 C211.89,368.74 211.11,368.49 210.33,368.21 C209.55,367.93 208.77,367.63 207.99,367.28 C207.22,366.93 206.44,366.55 205.69,366.12 C204.94,365.68 204.19,365.2 203.49,364.67 C202.79,364.13 202.11,363.54 201.48,362.91 C200.86,362.27 200.26,361.59 199.72,360.87 C199.17,360.15 198.69,359.37 198.22,358.59 C197.76,357.8 197.31,356.99 196.91,356.15 C196.51,355.32 196.12,354.45 195.81,353.57 C195.49,352.68 195.22,351.76 195.02,350.84 C194.81,349.91 194.66,348.95 194.57,348 C194.48,347.05 194.46,346.07 194.49,345.11 C194.52,344.14 194.6,343.17 194.73,342.2 C194.87,341.24 195.01,340.25 195.3,339.33 C195.6,338.4 196.05,337.51 196.51,336.65 C196.98,335.8 197.51,334.97 198.08,334.19 C198.64,333.4 199.24,332.64 199.89,331.94 C200.55,331.24 201.25,330.57 202.01,330 C202.77,329.43 203.61,328.94 204.46,328.52 C205.31,328.1 206.21,327.77 207.08,327.47 C207.96,327.18 208.86,326.95 209.73,326.76 C210.61,326.56 211.48,326.41 212.34,326.3 C213.2,326.2 214.06,326.15 214.9,326.14 C215.73,326.12 216.56,326.17 217.37,326.22 C218.18,326.27 218.96,326.36 219.73,326.44 C220.51,326.53 221.25,326.63 222,326.73 C222.75,326.82 223.47,326.91 224.21,327.01 C224.94,327.12 225.66,327.22 226.39,327.35 C227.11,327.48 227.84,327.63 228.56,327.81 C229.28,327.99 230,328.2 230.71,328.43 C231.43,328.67 232.13,328.93 232.85,329.21 C233.56,329.49 234.27,329.79 234.99,330.12 C235.72,330.44 236.44,330.78 237.18,331.14 C237.91,331.51 238.66,331.9 239.4,332.33 C240.15,332.76 240.91,333.22 241.65,333.72 C242.39,334.23 243.15,334.78 243.86,335.38 C244.57,335.99 245.25,336.65 245.9,337.36 C246.56,338.06 247.19,338.82 247.8,339.62 C248.4,340.42 248.99,341.26 249.54,342.15 C250.09,343.03 250.64,343.97 251.1,344.94 C251.56,345.92 252.01,346.95 252.31,348Z" fill="#fd913d" />
<path d="M203,343 C202.83,339.08 204,335.75 206,333.5 C208,331.25 211.33,329.73 215,329.5 C218.67,329.27 223.78,330.65 228,332.1 C232.22,333.55 237.23,335.38 240.3,338.2 C243.37,341.02 245.9,345.42 246.4,349 C246.9,352.58 245.6,357.15 243.3,359.7 C241,362.25 236.93,363.37 232.6,364.3 C228.27,365.23 221.57,366.52 217.3,365.3 C213.03,364.08 209.38,360.72 207,357 C204.62,353.28 203.17,346.92 203,343Z" fill="#fe8320" />
<ellipse cx="222" cy="347" rx="26" ry="18" transform="rotate(-8 222 347)" fill="none" stroke="#fff" stroke-width="1.6" stroke-dasharray="5 3.2"/>
<text x="105.8" y="300.1" font-family="Liberation Sans" font-size="13.5" fill="#f08a1c" font-weight="bold" font-style="italic" text-anchor="start" textLength="56.2" lengthAdjust="spacingAndGlyphs" >“LP”-TTG</text>
<text x="103.3" y="374" font-family="Liberation Sans" font-size="8.8" fill="#4d4d4d" font-weight="bold" font-style="italic" text-anchor="end" textLength="31.4" lengthAdjust="spacingAndGlyphs" >Source</text>
<text x="103.3" y="383.8" font-family="Liberation Sans" font-size="8.8" fill="#4d4d4d" font-weight="bold" font-style="italic" text-anchor="end" textLength="19.8" lengthAdjust="spacingAndGlyphs" >rock</text>
<path d="M112,370.8 L113.01,373.22 L115.61,373.43 L113.63,375.13 L114.23,377.67 L112,376.31 L109.77,377.67 L110.37,375.13 L108.39,373.43 L110.99,373.22Z" fill="#4d4d4d"/>
<path d="M544.1,301.3 C547.75,296.52 553.68,292.92 560.9,289.3 C568.12,285.68 578.97,282.02 587.4,279.6 C595.83,277.18 605.07,275.2 611.5,274.8 C617.93,274.4 621.98,274.78 626,277.2 C630.02,279.62 632.4,284.88 635.6,289.3 C638.8,293.72 640.78,298.88 645.2,303.7 C649.62,308.52 657.28,312.98 662.1,318.2 C666.92,323.42 671.03,329.37 674.1,335 C677.17,340.63 679.43,345.83 680.5,352 C681.57,358.17 681.17,365.45 680.5,372 C679.83,378.55 678.37,385.67 676.5,391.3 C674.63,396.93 672.1,401.58 669.3,405.8 C666.5,410.02 663.72,413.6 659.7,416.6 C655.68,419.6 650.42,422.32 645.2,423.8 C639.98,425.28 635.22,425.7 628.4,425.5 C621.58,425.3 612.33,424.28 604.3,422.6 C596.27,420.92 588.23,418.6 580.2,415.4 C572.17,412.2 562.52,407.42 556.1,403.4 C549.68,399.38 544.9,396.12 541.7,391.3 C538.5,386.48 537.9,380.38 536.9,374.5 C535.9,368.62 535.7,362.58 535.7,356 C535.7,349.42 536.35,341.33 536.9,335 C537.45,328.67 537.8,323.62 539,318 C540.2,312.38 540.45,306.08 544.1,301.3Z" fill="#d6d6f8" />
<path d="M664.14,362 C664.22,364.1 664.17,366.2 664.09,368.32 C664,370.43 663.87,372.55 663.63,374.67 C663.39,376.8 663.08,378.94 662.65,381.06 C662.22,383.18 661.73,385.32 661.04,387.39 C660.34,389.46 659.49,391.51 658.51,393.47 C657.52,395.43 656.4,397.36 655.13,399.15 C653.85,400.93 652.48,402.71 650.87,404.2 C649.27,405.69 647.39,406.98 645.5,408.08 C643.6,409.19 641.55,410.11 639.48,410.83 C637.41,411.55 635.23,412.06 633.09,412.39 C630.95,412.71 628.73,412.78 626.62,412.8 C624.5,412.82 622.41,412.66 620.41,412.51 C618.41,412.35 616.48,412.12 614.6,411.87 C612.72,411.62 610.92,411.33 609.15,411.01 C607.38,410.69 605.68,410.33 604,409.95 C602.32,409.57 600.7,409.14 599.09,408.7 C597.49,408.26 595.92,407.79 594.37,407.3 C592.82,406.8 591.3,406.28 589.79,405.72 C588.28,405.17 586.8,404.58 585.32,403.97 C583.83,403.35 582.37,402.7 580.9,402.02 C579.42,401.34 577.96,400.63 576.48,399.88 C575,399.13 573.52,398.35 572.02,397.52 C570.52,396.69 569,395.82 567.48,394.88 C565.96,393.94 564.4,392.96 562.89,391.87 C561.38,390.77 559.77,389.64 558.42,388.31 C557.08,386.98 555.78,385.5 554.84,383.89 C553.9,382.28 553.32,380.44 552.77,378.65 C552.23,376.85 551.93,374.98 551.57,373.14 C551.21,371.31 550.85,369.47 550.59,367.61 C550.33,365.76 550.17,363.89 550.03,362 C549.88,360.11 549.78,358.22 549.73,356.3 C549.68,354.37 549.68,352.44 549.71,350.46 C549.74,348.48 549.82,346.49 549.93,344.43 C550.04,342.38 550.17,340.28 550.36,338.12 C550.56,335.96 550.73,333.71 551.09,331.45 C551.44,329.19 551.92,326.91 552.49,324.57 C553.05,322.23 553.43,319.55 554.47,317.4 C555.51,315.26 557.05,313.33 558.73,311.73 C560.42,310.12 562.57,308.94 564.6,307.77 C566.63,306.6 568.79,305.62 570.92,304.71 C573.06,303.79 575.24,303.01 577.41,302.27 C579.57,301.52 581.75,300.88 583.94,300.25 C586.12,299.62 588.3,299.03 590.5,298.49 C592.71,297.95 594.92,297.43 597.17,296.98 C599.42,296.54 601.69,296.1 604,295.81 C606.31,295.51 608.68,295.19 611.02,295.23 C613.36,295.26 615.86,295.16 618.03,296.01 C620.2,296.86 622.28,298.54 624.03,300.35 C625.79,302.15 627.17,304.76 628.55,306.85 C629.94,308.94 631.09,311.07 632.36,312.89 C633.63,314.7 634.81,316.29 636.17,317.72 C637.54,319.14 639.04,320.22 640.52,321.44 C642.01,322.65 643.61,323.74 645.08,325.01 C646.55,326.28 648.01,327.61 649.35,329.05 C650.69,330.49 651.93,332.04 653.13,333.64 C654.32,335.23 655.47,336.89 656.54,338.61 C657.61,340.33 658.65,342.1 659.56,343.95 C660.48,345.79 661.38,347.7 662.05,349.66 C662.72,351.63 663.25,353.68 663.6,355.74 C663.95,357.79 664.06,359.9 664.14,362Z" fill="#bdbdf6" />
<path d="M653.43,362 C653.58,363.72 653.62,365.46 653.63,367.22 C653.65,368.97 653.63,370.74 653.52,372.53 C653.41,374.31 653.25,376.12 652.98,377.91 C652.7,379.71 652.38,381.55 651.88,383.32 C651.38,385.09 650.74,386.86 649.97,388.54 C649.2,390.23 648.3,391.89 647.26,393.43 C646.21,394.96 645.05,396.48 643.7,397.74 C642.34,399.01 640.75,400.1 639.13,401.02 C637.52,401.94 635.76,402.7 633.99,403.28 C632.23,403.86 630.37,404.26 628.54,404.51 C626.72,404.75 624.83,404.78 623.04,404.77 C621.25,404.76 619.48,404.6 617.79,404.44 C616.1,404.28 614.47,404.05 612.89,403.81 C611.31,403.57 609.79,403.3 608.31,403 C606.83,402.7 605.4,402.38 604,402.03 C602.6,401.67 601.25,401.3 599.91,400.9 C598.58,400.51 597.28,400.09 596,399.65 C594.71,399.22 593.46,398.76 592.21,398.28 C590.97,397.8 589.74,397.29 588.52,396.76 C587.3,396.23 586.1,395.68 584.89,395.1 C583.68,394.51 582.49,393.91 581.27,393.28 C580.06,392.64 578.85,391.99 577.63,391.29 C576.4,390.59 575.17,389.86 573.93,389.07 C572.69,388.28 571.43,387.47 570.2,386.56 C568.96,385.65 567.65,384.72 566.55,383.62 C565.45,382.53 564.38,381.31 563.58,380 C562.79,378.68 562.27,377.18 561.77,375.72 C561.28,374.26 560.98,372.73 560.63,371.22 C560.28,369.71 559.93,368.2 559.66,366.66 C559.38,365.12 559.18,363.57 559,362 C558.82,360.43 558.67,358.84 558.56,357.22 C558.45,355.61 558.39,353.97 558.36,352.3 C558.34,350.63 558.35,348.93 558.4,347.19 C558.46,345.44 558.54,343.66 558.69,341.83 C558.85,340 559.01,338.1 559.33,336.21 C559.66,334.32 560.11,332.42 560.64,330.5 C561.18,328.57 561.6,326.4 562.54,324.67 C563.49,322.94 564.83,321.4 566.29,320.12 C567.75,318.84 569.58,317.92 571.31,317.01 C573.04,316.1 574.87,315.37 576.68,314.68 C578.48,313.99 580.32,313.42 582.13,312.88 C583.95,312.34 585.76,311.89 587.57,311.45 C589.38,311 591.18,310.6 593,310.23 C594.81,309.86 596.62,309.51 598.45,309.21 C600.29,308.91 602.13,308.62 604,308.44 C605.87,308.27 607.78,308.07 609.66,308.14 C611.54,308.22 613.55,308.18 615.29,308.88 C617.04,309.59 618.71,310.92 620.13,312.35 C621.55,313.79 622.68,315.83 623.82,317.48 C624.96,319.13 625.9,320.82 626.95,322.25 C627.99,323.69 628.97,324.96 630.08,326.11 C631.19,327.25 632.41,328.13 633.61,329.11 C634.82,330.1 636.11,330.99 637.3,332.01 C638.5,333.04 639.68,334.12 640.78,335.28 C641.87,336.44 642.89,337.69 643.87,338.98 C644.86,340.26 645.8,341.6 646.7,342.99 C647.59,344.38 648.45,345.81 649.23,347.3 C650.01,348.79 650.77,350.34 651.36,351.93 C651.95,353.53 652.43,355.2 652.78,356.87 C653.12,358.55 653.29,360.28 653.43,362Z" fill="#a3a3f3" />
<path d="M643.99,362 C644.18,363.4 644.31,364.81 644.41,366.25 C644.51,367.69 644.6,369.15 644.6,370.63 C644.6,372.11 644.57,373.62 644.44,375.14 C644.31,376.65 644.13,378.21 643.8,379.72 C643.47,381.23 643.02,382.75 642.44,384.19 C641.86,385.64 641.15,387.07 640.31,388.38 C639.46,389.69 638.5,390.98 637.37,392.04 C636.24,393.11 634.89,394.02 633.52,394.79 C632.15,395.55 630.65,396.16 629.15,396.62 C627.65,397.08 626.07,397.38 624.53,397.55 C622.98,397.73 621.4,397.73 619.89,397.69 C618.38,397.65 616.9,397.49 615.48,397.32 C614.06,397.16 612.7,396.94 611.38,396.7 C610.06,396.47 608.8,396.21 607.57,395.93 C606.34,395.65 605.16,395.35 604,395.03 C602.84,394.71 601.73,394.37 600.63,394.02 C599.54,393.66 598.48,393.3 597.43,392.91 C596.38,392.53 595.36,392.13 594.35,391.71 C593.33,391.29 592.34,390.86 591.35,390.41 C590.36,389.95 589.39,389.48 588.42,388.99 C587.44,388.5 586.48,387.99 585.5,387.46 C584.53,386.92 583.56,386.38 582.58,385.79 C581.6,385.21 580.61,384.6 579.62,383.95 C578.63,383.3 577.62,382.62 576.64,381.88 C575.65,381.13 574.61,380.37 573.72,379.48 C572.83,378.6 571.96,377.62 571.3,376.56 C570.63,375.5 570.16,374.31 569.72,373.14 C569.27,371.97 568.97,370.74 568.62,369.52 C568.28,368.3 567.94,367.07 567.65,365.82 C567.37,364.57 567.13,363.3 566.92,362 C566.7,360.7 566.5,359.39 566.35,358.04 C566.2,356.7 566.08,355.33 566,353.92 C565.92,352.52 565.87,351.08 565.88,349.61 C565.89,348.14 565.92,346.63 566.04,345.1 C566.16,343.57 566.31,341.98 566.61,340.41 C566.91,338.85 567.33,337.28 567.83,335.72 C568.34,334.17 568.81,332.45 569.67,331.09 C570.52,329.72 571.7,328.51 572.96,327.53 C574.22,326.54 575.77,325.84 577.24,325.16 C578.7,324.49 580.25,323.96 581.76,323.48 C583.27,322.99 584.8,322.61 586.3,322.25 C587.81,321.89 589.3,321.6 590.78,321.33 C592.27,321.05 593.73,320.81 595.2,320.58 C596.66,320.36 598.12,320.16 599.59,320 C601.05,319.83 602.52,319.67 604,319.6 C605.48,319.52 606.98,319.43 608.46,319.54 C609.94,319.65 611.5,319.68 612.88,320.24 C614.25,320.81 615.56,321.84 616.69,322.95 C617.82,324.05 618.73,325.6 619.64,326.87 C620.56,328.13 621.33,329.41 622.17,330.52 C623.02,331.63 623.81,332.61 624.7,333.51 C625.59,334.4 626.56,335.1 627.52,335.88 C628.47,336.66 629.49,337.38 630.44,338.19 C631.39,339.01 632.34,339.86 633.21,340.78 C634.09,341.69 634.91,342.68 635.71,343.69 C636.51,344.71 637.28,345.76 638.01,346.86 C638.75,347.95 639.46,349.09 640.11,350.27 C640.77,351.45 641.41,352.67 641.93,353.94 C642.45,355.21 642.89,356.53 643.23,357.88 C643.58,359.22 643.79,360.6 643.99,362Z" fill="#8888f1" />
<path d="M635.8,362 C636.04,363.11 636.24,364.24 636.42,365.41 C636.6,366.57 636.77,367.77 636.87,368.99 C636.97,370.21 637.05,371.47 637.04,372.74 C637.03,374 636.98,375.32 636.8,376.6 C636.61,377.88 636.33,379.19 635.91,380.43 C635.5,381.66 634.96,382.89 634.29,384.01 C633.62,385.12 632.82,386.21 631.88,387.1 C630.94,388 629.81,388.76 628.66,389.38 C627.5,390.01 626.23,390.49 624.96,390.85 C623.69,391.21 622.35,391.41 621.05,391.53 C619.75,391.65 618.42,391.61 617.16,391.55 C615.89,391.49 614.65,391.32 613.47,391.16 C612.29,390.99 611.16,390.77 610.07,390.54 C608.98,390.32 607.93,390.07 606.92,389.81 C605.91,389.55 604.94,389.26 604,388.97 C603.06,388.68 602.15,388.37 601.26,388.05 C600.37,387.73 599.52,387.41 598.67,387.07 C597.83,386.73 597.01,386.38 596.2,386.02 C595.38,385.66 594.59,385.28 593.81,384.9 C593.02,384.51 592.25,384.11 591.47,383.7 C590.7,383.28 589.94,382.86 589.17,382.41 C588.4,381.97 587.64,381.51 586.87,381.03 C586.1,380.54 585.33,380.04 584.55,379.51 C583.78,378.98 582.99,378.43 582.22,377.82 C581.45,377.22 580.64,376.6 579.93,375.89 C579.23,375.19 578.54,374.42 577.98,373.58 C577.43,372.75 577.01,371.83 576.6,370.9 C576.2,369.98 575.89,369.02 575.55,368.05 C575.21,367.08 574.88,366.1 574.58,365.09 C574.29,364.08 574.02,363.06 573.78,362 C573.53,360.94 573.3,359.86 573.1,358.75 C572.91,357.64 572.74,356.5 572.61,355.33 C572.49,354.16 572.39,352.95 572.36,351.72 C572.32,350.49 572.32,349.21 572.41,347.93 C572.5,346.66 572.64,345.33 572.92,344.05 C573.19,342.77 573.58,341.49 574.07,340.25 C574.56,339.02 575.06,337.7 575.84,336.64 C576.62,335.59 577.65,334.68 578.74,333.94 C579.83,333.21 581.14,332.71 582.37,332.23 C583.61,331.76 584.9,331.41 586.16,331.1 C587.42,330.79 588.68,330.57 589.92,330.37 C591.15,330.17 592.37,330.03 593.57,329.89 C594.77,329.76 595.94,329.65 597.1,329.56 C598.27,329.47 599.42,329.39 600.57,329.34 C601.72,329.29 602.86,329.25 604,329.26 C605.14,329.27 606.29,329.28 607.42,329.42 C608.56,329.55 609.74,329.64 610.78,330.09 C611.83,330.54 612.83,331.31 613.71,332.13 C614.58,332.94 615.3,334.07 616.02,335 C616.75,335.92 617.37,336.86 618.04,337.69 C618.71,338.51 619.34,339.25 620.04,339.92 C620.74,340.6 621.49,341.15 622.23,341.75 C622.97,342.36 623.76,342.91 624.5,343.54 C625.23,344.18 625.97,344.83 626.66,345.54 C627.35,346.24 628,347 628.63,347.78 C629.27,348.56 629.89,349.36 630.49,350.21 C631.08,351.05 631.67,351.92 632.21,352.83 C632.76,353.75 633.3,354.69 633.75,355.68 C634.21,356.66 634.62,357.69 634.96,358.75 C635.3,359.8 635.55,360.89 635.8,362Z" fill="#6b6bef" />
<path d="M628.87,362 C629.15,362.87 629.41,363.76 629.66,364.7 C629.9,365.63 630.14,366.6 630.33,367.6 C630.52,368.6 630.69,369.64 630.78,370.7 C630.87,371.76 630.94,372.87 630.87,373.96 C630.81,375.05 630.67,376.18 630.39,377.24 C630.11,378.29 629.72,379.36 629.2,380.31 C628.67,381.25 628.02,382.17 627.24,382.93 C626.46,383.68 625.51,384.31 624.54,384.81 C623.57,385.32 622.48,385.69 621.41,385.96 C620.34,386.23 619.2,386.36 618.11,386.43 C617.01,386.5 615.9,386.44 614.85,386.36 C613.79,386.28 612.76,386.11 611.78,385.94 C610.8,385.76 609.86,385.55 608.96,385.33 C608.06,385.11 607.2,384.87 606.38,384.62 C605.55,384.38 604.76,384.11 604,383.84 C603.24,383.57 602.51,383.29 601.79,383 C601.08,382.72 600.39,382.42 599.72,382.12 C599.05,381.82 598.4,381.52 597.76,381.2 C597.12,380.89 596.5,380.57 595.88,380.24 C595.26,379.91 594.66,379.57 594.06,379.22 C593.46,378.87 592.87,378.51 592.27,378.14 C591.68,377.77 591.09,377.39 590.5,376.99 C589.91,376.59 589.32,376.19 588.73,375.75 C588.13,375.32 587.54,374.87 586.95,374.39 C586.36,373.91 585.74,373.41 585.19,372.86 C584.64,372.3 584.1,371.71 583.64,371.07 C583.18,370.42 582.8,369.72 582.43,369.01 C582.06,368.3 581.74,367.56 581.41,366.8 C581.08,366.05 580.75,365.28 580.45,364.48 C580.14,363.68 579.86,362.85 579.58,362 C579.31,361.15 579.04,360.27 578.82,359.35 C578.59,358.44 578.38,357.49 578.21,356.52 C578.05,355.54 577.91,354.53 577.84,353.5 C577.77,352.47 577.73,351.39 577.8,350.33 C577.87,349.27 577.99,348.17 578.25,347.13 C578.51,346.09 578.88,345.05 579.35,344.09 C579.81,343.12 580.35,342.13 581.06,341.35 C581.78,340.56 582.69,339.9 583.63,339.37 C584.57,338.85 585.67,338.52 586.72,338.21 C587.76,337.91 588.84,337.72 589.89,337.55 C590.93,337.39 591.97,337.3 592.97,337.24 C593.98,337.17 594.96,337.15 595.92,337.14 C596.88,337.12 597.81,337.14 598.72,337.15 C599.63,337.17 600.52,337.21 601.4,337.25 C602.28,337.3 603.14,337.35 604,337.44 C604.86,337.53 605.71,337.61 606.55,337.77 C607.38,337.94 608.24,338.07 609.01,338.42 C609.78,338.77 610.52,339.32 611.18,339.9 C611.84,340.47 612.4,341.23 612.96,341.87 C613.52,342.52 614.02,343.17 614.54,343.75 C615.06,344.33 615.56,344.86 616.09,345.35 C616.63,345.85 617.2,346.26 617.76,346.72 C618.32,347.17 618.91,347.6 619.47,348.07 C620.02,348.55 620.58,349.04 621.11,349.57 C621.64,350.1 622.15,350.66 622.65,351.23 C623.15,351.81 623.64,352.41 624.12,353.04 C624.6,353.67 625.07,354.32 625.52,355.01 C625.98,355.69 626.43,356.4 626.84,357.15 C627.24,357.89 627.62,358.67 627.96,359.48 C628.3,360.29 628.59,361.13 628.87,362Z" fill="#4d4def" />
<path d="M623.2,362 C623.52,362.67 623.83,363.37 624.12,364.12 C624.42,364.86 624.72,365.64 624.98,366.46 C625.24,367.28 625.48,368.15 625.66,369.04 C625.83,369.93 625.99,370.87 626.02,371.81 C626.06,372.74 626.04,373.72 625.87,374.63 C625.71,375.54 625.43,376.46 625.03,377.28 C624.62,378.09 624.08,378.87 623.44,379.51 C622.8,380.14 621.99,380.66 621.17,381.07 C620.35,381.48 619.42,381.77 618.51,381.97 C617.59,382.16 616.62,382.24 615.7,382.26 C614.77,382.28 613.84,382.21 612.95,382.11 C612.07,382.01 611.21,381.84 610.39,381.67 C609.57,381.49 608.8,381.28 608.05,381.07 C607.31,380.85 606.61,380.62 605.93,380.38 C605.26,380.15 604.62,379.9 604,379.65 C603.38,379.4 602.8,379.14 602.23,378.87 C601.66,378.61 601.11,378.35 600.58,378.08 C600.05,377.81 599.54,377.54 599.04,377.26 C598.54,376.99 598.06,376.71 597.58,376.42 C597.1,376.14 596.64,375.85 596.18,375.55 C595.71,375.26 595.26,374.96 594.81,374.65 C594.36,374.34 593.92,374.02 593.47,373.69 C593.03,373.37 592.58,373.03 592.14,372.68 C591.7,372.33 591.25,371.97 590.81,371.58 C590.37,371.2 589.92,370.8 589.49,370.37 C589.07,369.95 588.65,369.49 588.27,369.01 C587.88,368.52 587.54,368 587.19,367.46 C586.85,366.92 586.53,366.36 586.21,365.78 C585.88,365.2 585.56,364.6 585.25,363.97 C584.93,363.34 584.63,362.69 584.33,362 C584.04,361.31 583.75,360.6 583.49,359.84 C583.23,359.09 582.99,358.31 582.79,357.49 C582.6,356.68 582.42,355.82 582.32,354.96 C582.23,354.09 582.16,353.18 582.21,352.3 C582.25,351.41 582.37,350.5 582.62,349.65 C582.86,348.81 583.21,347.97 583.66,347.22 C584.12,346.48 584.67,345.76 585.34,345.19 C586,344.63 586.81,344.17 587.63,343.82 C588.45,343.47 589.39,343.27 590.27,343.11 C591.16,342.94 592.07,342.87 592.93,342.83 C593.8,342.79 594.66,342.82 595.48,342.86 C596.3,342.89 597.09,342.98 597.85,343.07 C598.61,343.15 599.33,343.26 600.04,343.37 C600.75,343.48 601.42,343.6 602.08,343.73 C602.74,343.85 603.38,343.99 604,344.13 C604.62,344.28 605.23,344.43 605.83,344.61 C606.42,344.8 607.01,344.96 607.56,345.24 C608.11,345.51 608.64,345.87 609.12,346.25 C609.6,346.63 610.03,347.09 610.45,347.5 C610.88,347.91 611.27,348.33 611.67,348.71 C612.08,349.09 612.46,349.45 612.87,349.8 C613.27,350.14 613.69,350.45 614.1,350.78 C614.52,351.11 614.94,351.43 615.35,351.78 C615.76,352.13 616.17,352.49 616.57,352.87 C616.97,353.25 617.36,353.65 617.75,354.06 C618.14,354.48 618.52,354.91 618.91,355.36 C619.29,355.82 619.68,356.29 620.05,356.78 C620.43,357.28 620.81,357.8 621.18,358.35 C621.54,358.9 621.89,359.48 622.23,360.08 C622.57,360.69 622.89,361.33 623.2,362Z" fill="#2d2df1" />
<path d="M620.55,375.93 C619.68,377.03 618.3,377.87 616.7,378.26 C615.09,378.65 613.02,378.66 610.91,378.27 C608.81,377.89 606.36,377.06 604.08,375.96 C601.8,374.86 599.34,373.32 597.23,371.67 C595.12,370.02 593.03,368.01 591.41,366.06 C589.79,364.11 588.39,361.94 587.51,359.99 C586.63,358.04 586.13,356.03 586.12,354.37 C586.11,352.72 586.59,351.18 587.45,350.07 C588.32,348.97 589.7,348.13 591.3,347.74 C592.91,347.35 594.98,347.34 597.09,347.73 C599.19,348.11 601.64,348.94 603.92,350.04 C606.2,351.14 608.66,352.68 610.77,354.33 C612.88,355.98 614.97,357.99 616.59,359.94 C618.21,361.89 619.61,364.06 620.49,366.01 C621.37,367.96 621.87,369.97 621.88,371.63 C621.89,373.28 621.41,374.82 620.55,375.93Z" fill="#0a0af5" />
<ellipse cx="607.5" cy="363" rx="33" ry="21" transform="rotate(38 607.5 363)" fill="none" stroke="#fff" stroke-width="1.6" stroke-dasharray="5 3.2"/>
<text x="471.5" y="329.9" font-family="Liberation Sans" font-size="13.5" fill="#2b2f8f" font-weight="bold" font-style="italic" text-anchor="start" textLength="59.1" lengthAdjust="spacingAndGlyphs" >“HP”-TTG</text>
<text x="447.4" y="374.3" font-family="Liberation Sans" font-size="8.8" fill="#4d4d4d" font-weight="bold" font-style="italic" text-anchor="end" textLength="31.4" lengthAdjust="spacingAndGlyphs" >Source</text>
<text x="447.4" y="384.6" font-family="Liberation Sans" font-size="8.8" fill="#4d4d4d" font-weight="bold" font-style="italic" text-anchor="end" textLength="19.8" lengthAdjust="spacingAndGlyphs" >rock</text>
<path d="M455,373.6 C472,385 492,400 514,407.6 C528,412 545,415 562,415.4" fill="none" stroke="#4d4d4d" stroke-width="2.2" stroke-dasharray="7 4.2"/>
<path d="M455,369.8 L456.01,372.22 L458.61,372.43 L456.63,374.13 L457.23,376.67 L455,375.31 L452.77,376.67 L453.37,374.13 L451.39,372.43 L453.99,372.22Z" fill="#4d4d4d"/>
<clipPath id="clipc0"><rect x="29.2" y="472.4" width="309.2" height="224.1"/></clipPath><g clip-path="url(#clipc0)">
<path d="M20,578 C21.5,573.5 24.75,579 29,580 C33.25,581 39.83,582.5 45.5,584 C51.17,585.5 54.25,587.5 63,589 C71.75,590.5 86.83,593.17 98,593 C109.17,592.83 118,591 130,588 C142,585 156.67,579.67 170,575 C183.33,570.33 199.17,563.83 210,560 C220.83,556.17 228.32,553.55 235,552 C241.68,550.45 245.25,550.13 250.1,550.7 C254.95,551.27 259.82,551.88 264.1,555.4 C268.38,558.92 272.68,565.18 275.8,571.8 C278.92,578.42 281.43,587.32 282.8,595.1 C284.17,602.88 284.78,611.88 284,618.5 C283.22,625.12 279.87,628.97 278.1,634.8 C276.33,640.63 274.95,647.27 273.4,653.5 C271.85,659.73 271.13,667.13 268.8,672.2 C266.47,677.27 264.47,680.78 259.4,683.9 C254.33,687.02 245.8,689.35 238.4,690.9 C231,692.45 222.82,693.85 215,693.2 C207.18,692.55 199,690.53 191.5,687 C184,683.47 176.82,676.83 170,672 C163.18,667.17 156.75,661.48 150.6,658 C144.45,654.52 138.93,653.72 133.1,651.1 C127.27,648.48 121.43,645.22 115.6,642.3 C109.77,639.38 103.93,636.52 98.1,633.6 C92.27,630.68 85.57,627.43 80.6,624.8 C75.63,622.17 74.15,620.13 68.3,617.8 C62.45,615.47 52.05,612.55 45.5,610.8 C38.95,609.05 33.25,607.93 29,607.3 C24.75,606.67 21.5,611.88 20,607 C18.5,602.12 18.5,582.5 20,578Z" fill="#fb8a22" fill-opacity="0.160"/>
<path d="M110,615 C110.83,608.33 118.33,604.17 125,600 C131.67,595.83 140.83,594.17 150,590 C159.17,585.83 170,579.17 180,575 C190,570.83 200,567.5 210,565 C220,562.5 231.67,560 240,560 C248.33,560 254.87,561.1 260,565 C265.13,568.9 267.83,576.45 270.8,583.4 C273.77,590.35 277.02,598.92 277.8,606.7 C278.58,614.48 277.05,622.32 275.5,630.1 C273.95,637.88 271.62,647.17 268.5,653.4 C265.38,659.63 262.65,662.82 256.8,667.5 C250.95,672.18 241.18,679.17 233.4,681.5 C225.62,683.83 217.88,683.07 210.1,681.5 C202.32,679.93 194.48,675.22 186.7,672.1 C178.92,668.98 171.18,665.52 163.4,662.8 C155.62,660.08 147.23,659.6 140,655.8 C132.77,652 125,646.8 120,640 C115,633.2 109.17,621.67 110,615Z" fill="#fb8a22" fill-opacity="0.167"/>
<path d="M135,625 C136.67,620.48 144.17,615 150,610 C155.83,605 161.67,600 170,595 C178.33,590 190,583.67 200,580 C210,576.33 220.83,573.33 230,573 C239.17,572.67 248.58,572.38 255,578 C261.42,583.62 267.03,597.63 268.5,606.7 C269.97,615.77 266.53,624.62 263.8,632.4 C261.07,640.18 257.17,647.55 252.1,653.4 C247.03,659.25 240.4,664.77 233.4,667.5 C226.4,670.23 217.88,670.98 210.1,669.8 C202.32,668.62 194.48,663.9 186.7,660.4 C178.92,656.9 171.18,652.68 163.4,648.8 C155.62,644.92 144.73,641.07 140,637.1 C135.27,633.13 133.33,629.52 135,625Z" fill="#fb8a22" fill-opacity="0.214"/>
<path d="M261.1,615 C261.01,616.15 260.86,617.3 260.67,618.43 C260.47,619.56 260.23,620.69 259.94,621.79 C259.65,622.89 259.31,623.98 258.93,625.05 C258.55,626.12 258.12,627.17 257.66,628.2 C257.2,629.24 256.7,630.26 256.17,631.27 C255.65,632.27 255.08,633.26 254.49,634.25 C253.9,635.23 253.28,636.2 252.62,637.17 C251.96,638.13 251.27,639.09 250.54,640.03 C249.8,640.97 249.03,641.91 248.21,642.82 C247.39,643.73 246.52,644.62 245.6,645.49 C244.68,646.36 243.72,647.21 242.71,648.04 C241.7,648.87 240.64,649.68 239.52,650.44 C238.4,651.2 237.22,651.95 235.99,652.6 C234.76,653.25 233.47,653.85 232.13,654.34 C230.8,654.83 229.41,655.21 228,655.52 C226.59,655.82 225.14,656.04 223.67,656.17 C222.21,656.31 220.71,656.36 219.22,656.33 C217.72,656.3 216.19,656.21 214.69,655.98 C213.18,655.75 211.68,655.4 210.21,654.97 C208.73,654.54 207.29,653.97 205.83,653.4 C204.37,652.83 202.94,652.18 201.45,651.55 C199.96,650.91 198.45,650.25 196.87,649.57 C195.29,648.89 193.66,648.21 191.97,647.44 C190.28,646.68 188.57,645.86 186.75,644.97 C184.92,644.09 183.09,643.14 181.03,642.12 C178.96,641.1 176.82,640.06 174.37,638.88 C171.92,637.7 168.89,636.57 166.33,635.04 C163.77,633.5 160.51,631.77 159,629.67 C157.48,627.57 156.46,624.88 157.26,622.44 C158.06,619.99 161.5,617.24 163.8,615 C166.11,612.76 168.83,610.81 171.1,609.02 C173.36,607.23 175.38,605.67 177.4,604.24 C179.42,602.81 181.35,601.58 183.2,600.44 C185.04,599.3 186.82,598.33 188.48,597.4 C190.14,596.48 191.69,595.67 193.18,594.9 C194.67,594.13 196.06,593.44 197.42,592.78 C198.78,592.13 200.07,591.54 201.33,590.98 C202.59,590.43 203.8,589.92 204.99,589.45 C206.19,588.97 207.35,588.55 208.49,588.15 C209.63,587.74 210.74,587.36 211.84,587.01 C212.94,586.65 214.01,586.32 215.09,586 C216.17,585.69 217.23,585.39 218.29,585.12 C219.36,584.85 220.42,584.59 221.49,584.36 C222.56,584.14 223.63,583.92 224.72,583.75 C225.8,583.57 226.89,583.42 228,583.3 C229.11,583.18 230.22,583.12 231.36,583.04 C232.5,582.97 233.65,582.89 234.83,582.85 C236.02,582.82 237.23,582.78 238.45,582.83 C239.68,582.87 240.95,582.93 242.19,583.12 C243.44,583.3 244.72,583.55 245.94,583.93 C247.15,584.32 248.36,584.83 249.47,585.45 C250.58,586.07 251.64,586.84 252.61,587.67 C253.57,588.5 254.5,589.43 255.27,590.45 C256.03,591.47 256.66,592.63 257.21,593.78 C257.77,594.92 258.18,596.15 258.58,597.34 C258.98,598.54 259.3,599.74 259.6,600.93 C259.9,602.12 260.16,603.3 260.39,604.48 C260.61,605.66 260.81,606.82 260.95,608 C261.09,609.17 261.18,610.34 261.21,611.51 C261.23,612.68 261.19,613.85 261.1,615Z" fill="#fb8a22" fill-opacity="0.273"/>
<path d="M254.01,615 C253.98,615.91 253.93,616.82 253.83,617.72 C253.73,618.62 253.61,619.52 253.41,620.4 C253.21,621.28 252.96,622.16 252.63,623 C252.31,623.84 251.9,624.66 251.45,625.44 C250.99,626.21 250.46,626.95 249.93,627.66 C249.39,628.37 248.82,629.05 248.24,629.71 C247.67,630.37 247.07,631 246.47,631.63 C245.86,632.25 245.24,632.86 244.61,633.45 C243.97,634.04 243.32,634.61 242.65,635.17 C241.98,635.73 241.29,636.26 240.58,636.79 C239.87,637.31 239.13,637.82 238.38,638.31 C237.62,638.79 236.84,639.27 236.03,639.71 C235.22,640.16 234.39,640.59 233.52,640.97 C232.65,641.34 231.76,641.69 230.84,641.98 C229.92,642.26 228.96,642.48 228,642.66 C227.04,642.84 226.05,642.96 225.05,643.04 C224.06,643.12 223.04,643.15 222.02,643.13 C221,643.11 219.96,643.06 218.92,642.93 C217.89,642.81 216.85,642.61 215.81,642.37 C214.78,642.13 213.75,641.82 212.7,641.49 C211.66,641.17 210.62,640.8 209.53,640.42 C208.44,640.05 207.34,639.66 206.18,639.23 C205.02,638.81 203.82,638.38 202.58,637.89 C201.34,637.39 200.07,636.86 198.74,636.26 C197.41,635.66 196.07,635 194.6,634.28 C193.13,633.57 191.61,632.81 189.93,631.95 C188.26,631.09 186.27,630.23 184.55,629.12 C182.83,628.01 180.69,626.76 179.63,625.28 C178.56,623.8 177.68,621.95 178.15,620.24 C178.63,618.53 180.85,616.58 182.46,615 C184.07,613.42 186.15,612.03 187.84,610.78 C189.53,609.52 191.1,608.46 192.59,607.47 C194.09,606.49 195.48,605.65 196.81,604.86 C198.13,604.08 199.38,603.41 200.56,602.78 C201.74,602.15 202.84,601.6 203.89,601.08 C204.95,600.56 205.93,600.1 206.89,599.66 C207.84,599.22 208.74,598.82 209.62,598.45 C210.5,598.07 211.34,597.73 212.16,597.41 C212.99,597.09 213.79,596.8 214.57,596.52 C215.36,596.24 216.12,595.98 216.87,595.73 C217.63,595.48 218.37,595.24 219.1,595.02 C219.84,594.79 220.57,594.58 221.3,594.38 C222.03,594.18 222.76,593.99 223.5,593.81 C224.23,593.63 224.97,593.47 225.72,593.32 C226.47,593.16 227.23,593.03 228,592.91 C228.77,592.78 229.55,592.69 230.36,592.59 C231.16,592.48 231.98,592.38 232.83,592.28 C233.68,592.19 234.55,592.1 235.46,592.04 C236.37,591.98 237.31,591.92 238.28,591.92 C239.24,591.92 240.24,591.94 241.25,592.05 C242.26,592.15 243.31,592.29 244.32,592.53 C245.34,592.77 246.41,593.06 247.37,593.49 C248.32,593.92 249.33,594.43 250.07,595.13 C250.81,595.83 251.36,596.77 251.81,597.7 C252.26,598.63 252.51,599.7 252.76,600.7 C253.01,601.71 253.16,602.74 253.31,603.73 C253.46,604.73 253.56,605.7 253.65,606.66 C253.75,607.63 253.82,608.57 253.88,609.5 C253.94,610.43 253.98,611.35 254.01,612.27 C254.03,613.18 254.04,614.09 254.01,615Z" fill="#fb8a22" fill-opacity="0.350"/>
<path d="M198.4,618.4 C198.4,615.3 205.03,611.83 210.1,609.1 C215.17,606.37 222.97,603.57 228.8,602 C234.63,600.43 242.07,598.03 245.1,599.7 C248.13,601.37 247,608.1 247,612 C247,615.9 248.13,620.08 245.1,623.1 C242.07,626.12 234.63,629.33 228.8,630.1 C222.97,630.87 215.17,629.65 210.1,627.7 C205.03,625.75 198.4,621.5 198.4,618.4Z" fill="#fb8a22" fill-opacity="0.538"/>
<path d="M20,508.5 C26.93,495.85 49.07,506.22 61.6,505.1 C74.13,503.98 84.02,502.92 95.2,501.8 C106.38,500.68 119.2,498.97 128.7,498.4 C138.2,497.83 144.92,497.57 152.2,498.4 C159.48,499.23 166.23,501.45 172.4,503.4 C178.57,505.35 183.6,507.3 189.2,510.1 C194.8,512.9 200.4,517.4 206,520.2 C211.6,523 218.33,524.65 222.8,526.9 C227.27,529.15 230.27,530.68 232.8,533.7 C235.33,536.72 237.47,540.62 238,545 C238.53,549.38 238.17,554.17 236,560 C233.83,565.83 231,573.33 225,580 C219,586.67 209.17,594.67 200,600 C190.83,605.33 180,609.17 170,612 C160,614.83 148.5,616.33 140,617 C131.5,617.67 126,617.92 119,616 C112,614.08 104.4,608.42 98,605.5 C91.6,602.58 86.43,600.68 80.6,598.5 C74.77,596.32 68.85,594.43 63,592.4 C57.15,590.37 52.67,588.2 45.5,586.3 C38.33,584.4 24.25,593.97 20,581 C15.75,568.03 13.07,521.15 20,508.5Z" fill="#2a2af2" fill-opacity="0.170"/>
<path d="M20,516.5 C26.67,507.83 46.67,514.25 60,513 C73.33,511.75 86.67,510 100,509 C113.33,508 128.33,506.67 140,507 C151.67,507.33 160.83,508.83 170,511 C179.17,513.17 187.5,516.83 195,520 C202.5,523.17 210,526.33 215,530 C220,533.67 223.83,537 225,542 C226.17,547 225.33,553.67 222,560 C218.67,566.33 212,574.17 205,580 C198,585.83 189.17,591.33 180,595 C170.83,598.67 160,601.5 150,602 C140,602.5 130,600.83 120,598 C110,595.17 100,589 90,585 C80,581 71.67,577.33 60,574 C48.33,570.67 26.67,574.58 20,565 C13.33,555.42 13.33,525.17 20,516.5Z" fill="#2a2af2" fill-opacity="0.193"/>
<path d="M36,544.6 C36.5,540.93 39.33,534.1 45,530 C50.67,525.9 60,522.5 70,520 C80,517.5 93.33,516 105,515 C116.67,514 129.17,513.5 140,514 C150.83,514.5 160.83,515.83 170,518 C179.17,520.17 188.67,523.33 195,527 C201.33,530.67 206.33,534.83 208,540 C209.67,545.17 208.83,552 205,558 C201.17,564 193.33,571.17 185,576 C176.67,580.83 165,585.5 155,587 C145,588.5 135,587.33 125,585 C115,582.67 105,577.17 95,573 C85,568.83 73.83,563.5 65,560 C56.17,556.5 46.83,554.57 42,552 C37.17,549.43 35.5,548.27 36,544.6Z" fill="#2a2af2" fill-opacity="0.224"/>
<path d="M60.1,543 C60.1,539.33 67.52,533.5 75,530 C82.48,526.5 94.17,523.5 105,522 C115.83,520.5 129.5,520.33 140,521 C150.5,521.67 160.83,523.33 168,526 C175.17,528.67 181,532.5 183,537 C185,541.5 183.83,548.17 180,553 C176.17,557.83 168.33,563.17 160,566 C151.67,568.83 140,570.67 130,570 C120,569.33 109.17,565 100,562 C90.83,559 81.65,555.17 75,552 C68.35,548.83 60.1,546.67 60.1,543Z" fill="#2a2af2" fill-opacity="0.269"/>
<path d="M79.4,543 C79.4,540 84.07,534.67 90,532 C95.93,529.33 106.67,527.83 115,527 C123.33,526.17 132.5,526.33 140,527 C147.5,527.67 155.33,528.83 160,531 C164.67,533.17 168,536.5 168,540 C168,543.5 165.5,549 160,552 C154.5,555 143.33,557.33 135,558 C126.67,558.67 117.5,557.33 110,556 C102.5,554.67 95.1,552.17 90,550 C84.9,547.83 79.4,546 79.4,543Z" fill="#2a2af2" fill-opacity="0.342"/>
<path d="M83,538.2 C83,535.7 93,532.53 100,531 C107,529.47 118.33,528.83 125,529 C131.67,529.17 137.83,529.83 140,532 C142.17,534.17 141.33,539.5 138,542 C134.67,544.5 126.33,546.33 120,547 C113.67,547.67 106.17,547.47 100,546 C93.83,544.53 83,540.7 83,538.2Z" fill="#2a2af2" fill-opacity="0.480"/>
<path d="M108,572 C107.5,566.83 109,561.5 112,557 C115,552.5 120,548.5 126,545 C132,541.5 140.67,539 148,536 C155.33,533 163.55,530.17 170,527 C176.45,523.83 180.85,518.33 186.7,517 C192.55,515.67 198.53,519 205.1,519 C211.67,519 219.97,516.5 226.1,517 C232.23,517.5 237.13,519.83 241.9,522 C246.67,524.17 251.85,526.17 254.7,530 C257.55,533.83 258.22,539.98 259,545 C259.78,550.02 259.73,554.27 259.4,560.1 C259.07,565.93 258.9,573.68 257,580 C255.1,586.32 252.5,593.5 248,598 C243.5,602.5 237.17,605 230,607 C222.83,609 213.53,609.83 205,610 C196.47,610.17 187.13,609 178.8,608 C170.47,607 162.3,605.67 155,604 C147.7,602.33 141.67,600.67 135,598 C128.33,595.33 119.5,592.33 115,588 C110.5,583.67 108.5,577.17 108,572Z" fill="#32a02e" fill-opacity="0.090"/>
<path d="M252.47,572 C252.22,574.18 251.88,576.35 251.38,578.45 C250.87,580.56 250.2,582.63 249.42,584.63 C248.64,586.63 247.83,588.62 246.71,590.43 C245.59,592.23 244.3,594 242.72,595.47 C241.14,596.95 239.17,598.21 237.24,599.27 C235.3,600.34 233.12,601.14 231.11,601.87 C229.09,602.59 227.07,603.15 225.13,603.63 C223.2,604.12 221.32,604.47 219.52,604.78 C217.72,605.09 215.99,605.3 214.33,605.49 C212.67,605.68 211.1,605.8 209.58,605.91 C208.06,606.02 206.61,606.1 205.21,606.15 C203.8,606.21 202.45,606.24 201.13,606.24 C199.8,606.25 198.52,606.22 197.26,606.18 C196.01,606.14 194.78,606.07 193.57,606 C192.36,605.93 191.18,605.84 190,605.75 C188.82,605.66 187.66,605.55 186.48,605.45 C185.31,605.34 184.15,605.23 182.96,605.11 C181.78,604.99 180.59,604.87 179.36,604.74 C178.13,604.62 176.9,604.48 175.61,604.33 C174.32,604.18 173,604.02 171.62,603.83 C170.24,603.65 168.82,603.46 167.31,603.23 C165.8,603 164.24,602.76 162.57,602.46 C160.9,602.17 159.16,601.85 157.28,601.46 C155.41,601.06 153.42,600.65 151.33,600.09 C149.24,599.54 147.02,598.93 144.75,598.13 C142.48,597.32 140.21,596.37 137.7,595.28 C135.2,594.19 132.3,593.07 129.71,591.59 C127.13,590.11 124.13,588.42 122.18,586.41 C120.23,584.41 119,581.97 118.02,579.57 C117.04,577.16 116.46,574.54 116.3,572 C116.15,569.46 116.37,566.8 117.07,564.33 C117.77,561.87 118.98,559.4 120.51,557.23 C122.04,555.05 124.13,553.04 126.25,551.29 C128.37,549.54 130.81,548.01 133.23,546.72 C135.65,545.44 138.38,544.5 140.79,543.59 C143.2,542.68 145.57,542 147.7,541.27 C149.84,540.54 151.74,539.87 153.6,539.22 C155.45,538.58 157.16,537.97 158.84,537.39 C160.51,536.8 162.09,536.26 163.63,535.71 C165.17,535.15 166.64,534.62 168.09,534.05 C169.54,533.49 170.95,532.97 172.33,532.31 C173.71,531.65 175.02,530.93 176.39,530.1 C177.75,529.28 179.07,528.24 180.51,527.36 C181.96,526.49 183.46,525.42 185.04,524.86 C186.63,524.29 188.34,524 190,523.95 C191.66,523.91 193.34,524.34 194.98,524.6 C196.63,524.86 198.2,525.33 199.88,525.52 C201.56,525.7 203.21,525.78 205.04,525.7 C206.88,525.62 208.82,525.27 210.92,525.02 C213.01,524.77 215.34,524.28 217.6,524.2 C219.85,524.13 222.22,524.2 224.45,524.58 C226.68,524.96 228.79,525.73 230.97,526.5 C233.15,527.27 235.32,528.18 237.53,529.2 C239.74,530.22 242.35,531.12 244.24,532.59 C246.13,534.06 247.73,535.97 248.88,538 C250.03,540.04 250.52,542.5 251.13,544.78 C251.74,547.06 252.23,549.37 252.54,551.68 C252.85,553.99 252.91,556.33 252.97,558.62 C253.02,560.9 252.96,563.16 252.87,565.39 C252.79,567.62 252.72,569.82 252.47,572Z" fill="#32a02e" fill-opacity="0.143"/>
<path d="M246.37,572 C246.19,573.96 245.92,575.93 245.49,577.83 C245.05,579.74 244.48,581.63 243.77,583.43 C243.06,585.23 242.29,587.03 241.22,588.64 C240.14,590.25 238.83,591.79 237.32,593.07 C235.8,594.35 233.93,595.41 232.13,596.32 C230.33,597.23 228.34,597.91 226.51,598.53 C224.68,599.14 222.86,599.62 221.14,600.04 C219.41,600.45 217.74,600.76 216.15,601.04 C214.55,601.32 213.03,601.51 211.57,601.69 C210.11,601.86 208.72,601.99 207.38,602.1 C206.03,602.21 204.76,602.29 203.51,602.35 C202.27,602.41 201.08,602.46 199.9,602.48 C198.73,602.5 197.6,602.49 196.48,602.48 C195.36,602.46 194.27,602.43 193.19,602.38 C192.11,602.34 191.06,602.29 190,602.23 C188.94,602.17 187.9,602.1 186.84,602.03 C185.79,601.96 184.74,601.88 183.67,601.8 C182.59,601.72 181.51,601.64 180.4,601.55 C179.28,601.45 178.16,601.36 176.98,601.25 C175.8,601.14 174.6,601.01 173.33,600.88 C172.06,600.74 170.75,600.59 169.35,600.42 C167.96,600.24 166.5,600.06 164.95,599.83 C163.39,599.59 161.75,599.34 160,599.01 C158.25,598.68 156.37,598.34 154.43,597.84 C152.5,597.34 150.43,596.78 148.4,596.02 C146.36,595.26 144.35,594.33 142.21,593.28 C140.07,592.22 137.68,591.09 135.55,589.69 C133.41,588.29 131.01,586.71 129.42,584.88 C127.82,583.05 126.8,580.87 126,578.73 C125.2,576.58 124.74,574.26 124.61,572 C124.48,569.74 124.66,567.39 125.23,565.19 C125.8,563 126.77,560.79 128.03,558.83 C129.29,556.86 130.98,555.01 132.8,553.41 C134.62,551.82 136.77,550.42 138.96,549.28 C141.15,548.13 143.68,547.32 145.91,546.55 C148.14,545.77 150.36,545.23 152.34,544.64 C154.32,544.05 156.09,543.52 157.8,543.01 C159.51,542.5 161.07,542.02 162.6,541.56 C164.12,541.1 165.54,540.68 166.93,540.24 C168.31,539.81 169.63,539.39 170.92,538.96 C172.21,538.52 173.46,538.11 174.69,537.6 C175.91,537.1 177.07,536.54 178.27,535.91 C179.47,535.28 180.63,534.49 181.89,533.83 C183.14,533.16 184.43,532.35 185.79,531.92 C187.14,531.48 188.59,531.26 190,531.22 C191.41,531.18 192.83,531.49 194.24,531.68 C195.64,531.87 196.99,532.22 198.43,532.35 C199.86,532.48 201.28,532.54 202.84,532.47 C204.41,532.41 206.06,532.15 207.83,531.96 C209.6,531.78 211.55,531.4 213.47,531.35 C215.38,531.3 217.39,531.36 219.31,531.66 C221.22,531.97 223.06,532.56 224.96,533.17 C226.87,533.78 228.78,534.5 230.74,535.31 C232.7,536.13 234.98,536.87 236.72,538.06 C238.46,539.25 240,540.78 241.18,542.45 C242.36,544.11 243.06,546.13 243.8,548.05 C244.53,549.96 245.15,551.95 245.58,553.94 C246.01,555.93 246.22,558 246.39,560.01 C246.55,562.03 246.59,564.05 246.59,566.05 C246.59,568.05 246.56,570.04 246.37,572Z" fill="#32a02e" fill-opacity="0.231"/>
<path d="M240.28,572 C240.16,573.75 239.96,575.51 239.6,577.21 C239.24,578.92 238.77,580.62 238.12,582.23 C237.47,583.84 236.76,585.45 235.72,586.86 C234.69,588.26 233.36,589.57 231.91,590.66 C230.46,591.75 228.68,592.62 227.02,593.37 C225.35,594.13 223.56,594.68 221.91,595.19 C220.27,595.7 218.66,596.08 217.14,596.44 C215.62,596.79 214.17,597.05 212.78,597.3 C211.39,597.54 210.08,597.72 208.81,597.89 C207.54,598.05 206.34,598.17 205.18,598.28 C204.01,598.39 202.9,598.48 201.82,598.55 C200.74,598.62 199.7,598.68 198.68,598.71 C197.66,598.75 196.67,598.77 195.69,598.78 C194.71,598.79 193.76,598.78 192.81,598.77 C191.86,598.76 190.94,598.74 190,598.71 C189.06,598.69 188.14,598.65 187.2,598.62 C186.26,598.58 185.33,598.54 184.37,598.5 C183.41,598.45 182.44,598.41 181.44,598.35 C180.44,598.29 179.42,598.24 178.35,598.16 C177.28,598.09 176.2,598.01 175.04,597.92 C173.88,597.82 172.68,597.73 171.4,597.61 C170.11,597.48 168.77,597.36 167.32,597.19 C165.87,597.01 164.34,596.84 162.71,596.57 C161.08,596.3 159.31,596.03 157.53,595.59 C155.76,595.15 153.84,594.63 152.04,593.92 C150.24,593.2 148.49,592.29 146.72,591.27 C144.94,590.25 143.06,589.12 141.38,587.8 C139.7,586.48 137.88,584.99 136.65,583.34 C135.41,581.69 134.6,579.78 133.98,577.89 C133.36,576 133.01,573.97 132.91,572 C132.82,570.03 132.95,567.98 133.39,566.05 C133.83,564.12 134.56,562.18 135.55,560.43 C136.54,558.67 137.82,556.97 139.34,555.54 C140.86,554.11 142.74,552.83 144.69,551.83 C146.64,550.82 148.99,550.14 151.04,549.5 C153.08,548.87 155.15,548.46 156.97,548.01 C158.8,547.55 160.44,547.17 162.01,546.79 C163.57,546.42 164.99,546.08 166.35,545.74 C167.72,545.4 168.99,545.09 170.22,544.78 C171.46,544.47 172.61,544.17 173.75,543.86 C174.89,543.54 175.97,543.25 177.04,542.9 C178.11,542.54 179.13,542.16 180.16,541.72 C181.2,541.29 182.2,540.75 183.26,540.29 C184.32,539.83 185.41,539.28 186.53,538.98 C187.65,538.68 188.84,538.52 190,538.48 C191.16,538.44 192.33,538.64 193.49,538.76 C194.66,538.88 195.78,539.1 196.98,539.18 C198.17,539.26 199.35,539.3 200.64,539.25 C201.93,539.2 203.29,539.03 204.74,538.9 C206.19,538.78 207.77,538.53 209.34,538.5 C210.91,538.48 212.56,538.53 214.16,538.75 C215.76,538.97 217.32,539.4 218.96,539.84 C220.59,540.29 222.25,540.81 223.95,541.43 C225.66,542.04 227.61,542.61 229.2,543.52 C230.78,544.43 232.27,545.6 233.49,546.89 C234.7,548.19 235.6,549.76 236.46,551.31 C237.32,552.87 238.07,554.52 238.62,556.2 C239.18,557.88 239.53,559.66 239.81,561.41 C240.09,563.16 240.23,564.95 240.31,566.71 C240.39,568.48 240.39,570.25 240.28,572Z" fill="#32a02e" fill-opacity="0.300"/>
<path d="M234.18,572 C234.13,573.54 233.99,575.09 233.71,576.59 C233.42,578.1 233.05,579.62 232.47,581.03 C231.89,582.44 231.22,583.87 230.23,585.07 C229.23,586.27 227.9,587.36 226.51,588.26 C225.12,589.15 223.44,589.82 221.91,590.42 C220.37,591.02 218.78,591.44 217.32,591.85 C215.86,592.25 214.46,592.55 213.14,592.84 C211.82,593.12 210.59,593.35 209.41,593.55 C208.23,593.76 207.12,593.94 206.05,594.09 C204.98,594.24 203.96,594.36 202.97,594.47 C201.99,594.58 201.05,594.67 200.13,594.75 C199.21,594.83 198.33,594.89 197.46,594.95 C196.59,595 195.74,595.04 194.9,595.08 C194.07,595.11 193.25,595.13 192.43,595.15 C191.62,595.17 190.81,595.19 190,595.19 C189.19,595.2 188.38,595.21 187.56,595.21 C186.74,595.2 185.92,595.2 185.07,595.19 C184.22,595.18 183.37,595.17 182.48,595.15 C181.59,595.13 180.68,595.11 179.72,595.08 C178.77,595.05 177.79,595.01 176.75,594.96 C175.7,594.91 174.61,594.86 173.44,594.79 C172.26,594.73 171.03,594.66 169.7,594.55 C168.36,594.44 166.94,594.33 165.43,594.13 C163.92,593.92 162.26,593.72 160.63,593.34 C159.01,592.95 157.26,592.49 155.69,591.81 C154.12,591.13 152.63,590.25 151.22,589.27 C149.81,588.28 148.44,587.15 147.22,585.9 C145.99,584.66 144.76,583.28 143.88,581.8 C143,580.33 142.4,578.68 141.96,577.05 C141.51,575.42 141.29,573.69 141.22,572 C141.15,570.31 141.24,568.57 141.55,566.91 C141.86,565.24 142.35,563.56 143.07,562.02 C143.79,560.48 144.66,558.94 145.89,557.67 C147.11,556.39 148.71,555.25 150.42,554.38 C152.13,553.51 154.29,552.96 156.16,552.46 C158.02,551.96 159.93,551.69 161.61,551.37 C163.28,551.06 164.79,550.82 166.21,550.58 C167.63,550.34 168.9,550.13 170.11,549.92 C171.33,549.7 172.44,549.51 173.52,549.32 C174.6,549.12 175.6,548.94 176.58,548.76 C177.56,548.57 178.49,548.4 179.4,548.19 C180.31,547.99 181.18,547.77 182.05,547.53 C182.92,547.29 183.76,547 184.63,546.75 C185.5,546.5 186.38,546.21 187.27,546.04 C188.17,545.87 189.09,545.78 190,545.74 C190.91,545.71 191.83,545.8 192.75,545.84 C193.67,545.89 194.57,545.99 195.52,546.02 C196.47,546.05 197.42,546.06 198.44,546.03 C199.46,546 200.52,545.9 201.65,545.84 C202.78,545.78 203.98,545.66 205.21,545.65 C206.44,545.65 207.72,545.69 209.01,545.83 C210.3,545.98 211.59,546.23 212.95,546.51 C214.31,546.8 215.71,547.13 217.16,547.54 C218.62,547.95 220.24,548.35 221.67,548.99 C223.11,549.62 224.54,550.41 225.79,551.34 C227.03,552.27 228.15,553.39 229.12,554.58 C230.1,555.77 230.98,557.09 231.67,558.46 C232.35,559.83 232.83,561.33 233.23,562.81 C233.62,564.3 233.87,565.84 234.03,567.37 C234.19,568.9 234.23,570.46 234.18,572Z" fill="#32a02e" fill-opacity="0.405"/>
<path d="M150,566 C150.83,562.17 151.83,559 156,557 C160.17,555 166.83,554.67 175,554 C183.17,553.33 197.17,552.33 205,553 C212.83,553.67 218.17,555.17 222,558 C225.83,560.83 227.67,565.67 228,570 C228.33,574.33 227.83,580.67 224,584 C220.17,587.33 212.33,588.67 205,590 C197.67,591.33 187.5,592 180,592 C172.5,592 164.83,592 160,590 C155.17,588 152.67,584 151,580 C149.33,576 149.17,569.83 150,566Z" fill="#32a02e" fill-opacity="0.600"/>
</g>
<path d="M83.4,538.7 L88.4,533.7 L105.2,528.6 L128.7,525.3 L162.3,523.6 L182.5,525.3 L187.5,532 L182.5,540.4 L162.3,553.8 L142.2,565.6 L118.7,567.9 L98.5,560.5 L85.1,548.8Z" fill="none" stroke="#1f2a6e" stroke-width="1.7" stroke-dasharray="5.5 3.5" stroke-linejoin="round"/>
<path d="M146,572.3 L152.5,560.4 L170.9,555.2 L210.4,553.9 L218.2,559.1 L223.5,568.3 L222,580 L205.1,586.7 L178.8,589.3 L160.4,586.7 L152.5,581.5Z" fill="none" stroke="#ffffff" stroke-width="1.7" stroke-dasharray="5.5 3.5" stroke-linejoin="round"/>
<path d="M164.9,592.2 L165.8,598.3 L172.8,605.3 L185,614.1 L197.3,622.8 L211.3,629.8 L223.6,632.4 L235.8,629.8 L244.6,624.6 L249.9,615.8 L250.7,605.3 L249.9,593 L247.2,584.3 L241.1,577.3 L230.6,574.6 L216.6,573 L199,575.5 L185,579 L172,585Z" fill="none" stroke="#e8891a" stroke-width="1.8" stroke-dasharray="5.5 3.5" stroke-linejoin="round"/>
<line x1="29.2" y1="649.2" x2="206" y2="472.4" stroke="#c4c4c4" stroke-width="1.8" stroke-dasharray="6 4"/>
<line x1="29.2" y1="696.3" x2="253.1" y2="472.4" stroke="#c4c4c4" stroke-width="1.8" stroke-dasharray="6 4"/>
<line x1="97.7" y1="696.5" x2="321.8" y2="472.4" stroke="#c4c4c4" stroke-width="1.8" stroke-dasharray="6 4"/>
<line x1="184.2" y1="696.5" x2="338.4" y2="542.3" stroke="#c4c4c4" stroke-width="1.8" stroke-dasharray="6 4"/>
<g transform="translate(46.1,641) rotate(-45)"><text x="0" y="2.6" font-family="Liberation Sans" font-size="8.4" fill="#8a8a8a" font-weight="normal" font-style="normal" text-anchor="middle" >Sr/Y = 200</text></g>
<g transform="translate(74.7,662.3) rotate(-45)"><text x="0" y="2.6" font-family="Liberation Sans" font-size="8.4" fill="#8a8a8a" font-weight="normal" font-style="normal" text-anchor="middle" >Sr/Y = 100</text></g>
<g transform="translate(121.4,681.3) rotate(-45)"><text x="0" y="2.6" font-family="Liberation Sans" font-size="8.4" fill="#8a8a8a" font-weight="normal" font-style="normal" text-anchor="middle" >Sr/Y = 30</text></g>
<g transform="translate(207.6,682.8) rotate(-45)"><text x="0" y="2.6" font-family="Liberation Sans" font-size="8.4" fill="#8a8a8a" font-weight="normal" font-style="normal" text-anchor="middle" >Sr/Y = 10</text></g>
<text x="67.3" y="500" font-family="Liberation Sans" font-size="11.5" fill="#2b2f8f" font-weight="bold" font-style="italic" text-anchor="start" textLength="44.2" lengthAdjust="spacingAndGlyphs" >“HP”-TTG</text>
<text x="222.1" y="517.6" font-family="Liberation Sans" font-size="11.5" fill="#24a047" font-weight="bold" font-style="italic" text-anchor="start" textLength="47.2" lengthAdjust="spacingAndGlyphs" >“MP”-TTG</text>
<text x="275.8" y="643" font-family="Liberation Sans" font-size="11.5" fill="#f7901e" font-weight="bold" font-style="italic" text-anchor="start" textLength="42" lengthAdjust="spacingAndGlyphs" >“LP”-TTG</text>
<clipPath id="clipc343"><rect x="372.7" y="472.4" width="309.2" height="224.1"/></clipPath><g clip-path="url(#clipc343)">
<path d="M363.5,578 C365,573.5 368.25,579 372.5,580 C376.75,581 383.33,582.5 389,584 C394.67,585.5 397.75,587.5 406.5,589 C415.25,590.5 430.33,593.17 441.5,593 C452.67,592.83 461.5,591 473.5,588 C485.5,585 500.17,579.67 513.5,575 C526.83,570.33 542.67,563.83 553.5,560 C564.33,556.17 571.82,553.55 578.5,552 C585.18,550.45 588.75,550.13 593.6,550.7 C598.45,551.27 603.32,551.88 607.6,555.4 C611.88,558.92 616.18,565.18 619.3,571.8 C622.42,578.42 624.93,587.32 626.3,595.1 C627.67,602.88 628.28,611.88 627.5,618.5 C626.72,625.12 623.37,628.97 621.6,634.8 C619.83,640.63 618.45,647.27 616.9,653.5 C615.35,659.73 614.63,667.13 612.3,672.2 C609.97,677.27 607.97,680.78 602.9,683.9 C597.83,687.02 589.3,689.35 581.9,690.9 C574.5,692.45 566.32,693.85 558.5,693.2 C550.68,692.55 542.5,690.53 535,687 C527.5,683.47 520.32,676.83 513.5,672 C506.68,667.17 500.25,661.48 494.1,658 C487.95,654.52 482.43,653.72 476.6,651.1 C470.77,648.48 464.93,645.22 459.1,642.3 C453.27,639.38 447.43,636.52 441.6,633.6 C435.77,630.68 429.07,627.43 424.1,624.8 C419.13,622.17 417.65,620.13 411.8,617.8 C405.95,615.47 395.55,612.55 389,610.8 C382.45,609.05 376.75,607.93 372.5,607.3 C368.25,606.67 365,611.88 363.5,607 C362,602.12 362,582.5 363.5,578Z" fill="#fb8a22" fill-opacity="0.160"/>
<path d="M453.5,615 C454.33,608.33 461.83,604.17 468.5,600 C475.17,595.83 484.33,594.17 493.5,590 C502.67,585.83 513.5,579.17 523.5,575 C533.5,570.83 543.5,567.5 553.5,565 C563.5,562.5 575.17,560 583.5,560 C591.83,560 598.37,561.1 603.5,565 C608.63,568.9 611.33,576.45 614.3,583.4 C617.27,590.35 620.52,598.92 621.3,606.7 C622.08,614.48 620.55,622.32 619,630.1 C617.45,637.88 615.12,647.17 612,653.4 C608.88,659.63 606.15,662.82 600.3,667.5 C594.45,672.18 584.68,679.17 576.9,681.5 C569.12,683.83 561.38,683.07 553.6,681.5 C545.82,679.93 537.98,675.22 530.2,672.1 C522.42,668.98 514.68,665.52 506.9,662.8 C499.12,660.08 490.73,659.6 483.5,655.8 C476.27,652 468.5,646.8 463.5,640 C458.5,633.2 452.67,621.67 453.5,615Z" fill="#fb8a22" fill-opacity="0.167"/>
<path d="M478.5,625 C480.17,620.48 487.67,615 493.5,610 C499.33,605 505.17,600 513.5,595 C521.83,590 533.5,583.67 543.5,580 C553.5,576.33 564.33,573.33 573.5,573 C582.67,572.67 592.08,572.38 598.5,578 C604.92,583.62 610.53,597.63 612,606.7 C613.47,615.77 610.03,624.62 607.3,632.4 C604.57,640.18 600.67,647.55 595.6,653.4 C590.53,659.25 583.9,664.77 576.9,667.5 C569.9,670.23 561.38,670.98 553.6,669.8 C545.82,668.62 537.98,663.9 530.2,660.4 C522.42,656.9 514.68,652.68 506.9,648.8 C499.12,644.92 488.23,641.07 483.5,637.1 C478.77,633.13 476.83,629.52 478.5,625Z" fill="#fb8a22" fill-opacity="0.214"/>
<path d="M604.6,615 C604.51,616.15 604.36,617.3 604.17,618.43 C603.97,619.56 603.73,620.69 603.44,621.79 C603.15,622.89 602.81,623.98 602.43,625.05 C602.05,626.12 601.62,627.17 601.16,628.2 C600.7,629.24 600.2,630.26 599.67,631.27 C599.15,632.27 598.58,633.26 597.99,634.25 C597.4,635.23 596.78,636.2 596.12,637.17 C595.46,638.13 594.77,639.09 594.04,640.03 C593.3,640.97 592.53,641.91 591.71,642.82 C590.89,643.73 590.02,644.62 589.1,645.49 C588.18,646.36 587.22,647.21 586.21,648.04 C585.2,648.87 584.14,649.68 583.02,650.44 C581.9,651.2 580.72,651.95 579.49,652.6 C578.26,653.25 576.97,653.85 575.63,654.34 C574.3,654.83 572.91,655.21 571.5,655.52 C570.09,655.82 568.64,656.04 567.17,656.17 C565.71,656.31 564.21,656.36 562.72,656.33 C561.22,656.3 559.69,656.21 558.19,655.98 C556.68,655.75 555.18,655.4 553.71,654.97 C552.23,654.54 550.79,653.97 549.33,653.4 C547.87,652.83 546.44,652.18 544.95,651.55 C543.46,650.91 541.95,650.25 540.37,649.57 C538.79,648.89 537.16,648.21 535.47,647.44 C533.78,646.68 532.07,645.86 530.25,644.97 C528.42,644.09 526.59,643.14 524.53,642.12 C522.46,641.1 520.32,640.06 517.87,638.88 C515.42,637.7 512.39,636.57 509.83,635.04 C507.27,633.5 504.01,631.77 502.5,629.67 C500.98,627.57 499.96,624.88 500.76,622.44 C501.56,619.99 505,617.24 507.3,615 C509.61,612.76 512.33,610.81 514.6,609.02 C516.86,607.23 518.88,605.67 520.9,604.24 C522.92,602.81 524.85,601.58 526.7,600.44 C528.54,599.3 530.32,598.33 531.98,597.4 C533.64,596.48 535.19,595.67 536.68,594.9 C538.17,594.13 539.56,593.44 540.92,592.78 C542.28,592.13 543.57,591.54 544.83,590.98 C546.09,590.43 547.3,589.92 548.49,589.45 C549.69,588.97 550.85,588.55 551.99,588.15 C553.13,587.74 554.24,587.36 555.34,587.01 C556.44,586.65 557.51,586.32 558.59,586 C559.67,585.69 560.73,585.39 561.79,585.12 C562.86,584.85 563.92,584.59 564.99,584.36 C566.06,584.14 567.13,583.92 568.22,583.75 C569.3,583.57 570.39,583.42 571.5,583.3 C572.61,583.18 573.72,583.12 574.86,583.04 C576,582.97 577.15,582.89 578.33,582.85 C579.52,582.82 580.73,582.78 581.95,582.83 C583.18,582.87 584.45,582.93 585.69,583.12 C586.94,583.3 588.22,583.55 589.44,583.93 C590.65,584.32 591.86,584.83 592.97,585.45 C594.08,586.07 595.14,586.84 596.11,587.67 C597.07,588.5 598,589.43 598.77,590.45 C599.53,591.47 600.16,592.63 600.71,593.78 C601.27,594.92 601.68,596.15 602.08,597.34 C602.48,598.54 602.8,599.74 603.1,600.93 C603.4,602.12 603.66,603.3 603.89,604.48 C604.11,605.66 604.31,606.82 604.45,608 C604.59,609.17 604.68,610.34 604.71,611.51 C604.73,612.68 604.69,613.85 604.6,615Z" fill="#fb8a22" fill-opacity="0.273"/>
<path d="M597.51,615 C597.48,615.91 597.43,616.82 597.33,617.72 C597.23,618.62 597.11,619.52 596.91,620.4 C596.71,621.28 596.46,622.16 596.13,623 C595.81,623.84 595.4,624.66 594.95,625.44 C594.49,626.21 593.96,626.95 593.43,627.66 C592.89,628.37 592.32,629.05 591.74,629.71 C591.17,630.37 590.57,631 589.97,631.63 C589.36,632.25 588.74,632.86 588.11,633.45 C587.47,634.04 586.82,634.61 586.15,635.17 C585.48,635.73 584.79,636.26 584.08,636.79 C583.37,637.31 582.63,637.82 581.88,638.31 C581.12,638.79 580.34,639.27 579.53,639.71 C578.72,640.16 577.89,640.59 577.02,640.97 C576.15,641.34 575.26,641.69 574.34,641.98 C573.42,642.26 572.46,642.48 571.5,642.66 C570.54,642.84 569.55,642.96 568.55,643.04 C567.56,643.12 566.54,643.15 565.52,643.13 C564.5,643.11 563.46,643.06 562.42,642.93 C561.39,642.81 560.35,642.61 559.31,642.37 C558.28,642.13 557.25,641.82 556.2,641.49 C555.16,641.17 554.12,640.8 553.03,640.42 C551.94,640.05 550.84,639.66 549.68,639.23 C548.52,638.81 547.32,638.38 546.08,637.89 C544.84,637.39 543.57,636.86 542.24,636.26 C540.91,635.66 539.57,635 538.1,634.28 C536.63,633.57 535.11,632.81 533.43,631.95 C531.76,631.09 529.77,630.23 528.05,629.12 C526.33,628.01 524.19,626.76 523.13,625.28 C522.06,623.8 521.18,621.95 521.65,620.24 C522.13,618.53 524.35,616.58 525.96,615 C527.57,613.42 529.65,612.03 531.34,610.78 C533.03,609.52 534.6,608.46 536.09,607.47 C537.59,606.49 538.98,605.65 540.31,604.86 C541.63,604.08 542.88,603.41 544.06,602.78 C545.24,602.15 546.34,601.6 547.39,601.08 C548.45,600.56 549.43,600.1 550.39,599.66 C551.34,599.22 552.24,598.82 553.12,598.45 C554,598.07 554.84,597.73 555.66,597.41 C556.49,597.09 557.29,596.8 558.07,596.52 C558.86,596.24 559.62,595.98 560.37,595.73 C561.13,595.48 561.87,595.24 562.6,595.02 C563.34,594.79 564.07,594.58 564.8,594.38 C565.53,594.18 566.26,593.99 567,593.81 C567.73,593.63 568.47,593.47 569.22,593.32 C569.97,593.16 570.73,593.03 571.5,592.91 C572.27,592.78 573.05,592.69 573.86,592.59 C574.66,592.48 575.48,592.38 576.33,592.28 C577.18,592.19 578.05,592.1 578.96,592.04 C579.87,591.98 580.81,591.92 581.78,591.92 C582.74,591.92 583.74,591.94 584.75,592.05 C585.76,592.15 586.81,592.29 587.82,592.53 C588.84,592.77 589.91,593.06 590.87,593.49 C591.82,593.92 592.83,594.43 593.57,595.13 C594.31,595.83 594.86,596.77 595.31,597.7 C595.76,598.63 596.01,599.7 596.26,600.7 C596.51,601.71 596.66,602.74 596.81,603.73 C596.96,604.73 597.06,605.7 597.15,606.66 C597.25,607.63 597.32,608.57 597.38,609.5 C597.44,610.43 597.48,611.35 597.51,612.27 C597.53,613.18 597.54,614.09 597.51,615Z" fill="#fb8a22" fill-opacity="0.350"/>
<path d="M541.9,618.4 C541.9,615.3 548.53,611.83 553.6,609.1 C558.67,606.37 566.47,603.57 572.3,602 C578.13,600.43 585.57,598.03 588.6,599.7 C591.63,601.37 590.5,608.1 590.5,612 C590.5,615.9 591.63,620.08 588.6,623.1 C585.57,626.12 578.13,629.33 572.3,630.1 C566.47,630.87 558.67,629.65 553.6,627.7 C548.53,625.75 541.9,621.5 541.9,618.4Z" fill="#fb8a22" fill-opacity="0.538"/>
<path d="M363.5,508.5 C370.43,495.85 392.57,506.22 405.1,505.1 C417.63,503.98 427.52,502.92 438.7,501.8 C449.88,500.68 462.7,498.97 472.2,498.4 C481.7,497.83 488.42,497.57 495.7,498.4 C502.98,499.23 509.73,501.45 515.9,503.4 C522.07,505.35 527.1,507.3 532.7,510.1 C538.3,512.9 543.9,517.4 549.5,520.2 C555.1,523 561.83,524.65 566.3,526.9 C570.77,529.15 573.77,530.68 576.3,533.7 C578.83,536.72 580.97,540.62 581.5,545 C582.03,549.38 581.67,554.17 579.5,560 C577.33,565.83 574.5,573.33 568.5,580 C562.5,586.67 552.67,594.67 543.5,600 C534.33,605.33 523.5,609.17 513.5,612 C503.5,614.83 492,616.33 483.5,617 C475,617.67 469.5,617.92 462.5,616 C455.5,614.08 447.9,608.42 441.5,605.5 C435.1,602.58 429.93,600.68 424.1,598.5 C418.27,596.32 412.35,594.43 406.5,592.4 C400.65,590.37 396.17,588.2 389,586.3 C381.83,584.4 367.75,593.97 363.5,581 C359.25,568.03 356.57,521.15 363.5,508.5Z" fill="#2a2af2" fill-opacity="0.170"/>
<path d="M363.5,516.5 C370.17,507.83 390.17,514.25 403.5,513 C416.83,511.75 430.17,510 443.5,509 C456.83,508 471.83,506.67 483.5,507 C495.17,507.33 504.33,508.83 513.5,511 C522.67,513.17 531,516.83 538.5,520 C546,523.17 553.5,526.33 558.5,530 C563.5,533.67 567.33,537 568.5,542 C569.67,547 568.83,553.67 565.5,560 C562.17,566.33 555.5,574.17 548.5,580 C541.5,585.83 532.67,591.33 523.5,595 C514.33,598.67 503.5,601.5 493.5,602 C483.5,602.5 473.5,600.83 463.5,598 C453.5,595.17 443.5,589 433.5,585 C423.5,581 415.17,577.33 403.5,574 C391.83,570.67 370.17,574.58 363.5,565 C356.83,555.42 356.83,525.17 363.5,516.5Z" fill="#2a2af2" fill-opacity="0.193"/>
<path d="M379.5,544.6 C380,540.93 382.83,534.1 388.5,530 C394.17,525.9 403.5,522.5 413.5,520 C423.5,517.5 436.83,516 448.5,515 C460.17,514 472.67,513.5 483.5,514 C494.33,514.5 504.33,515.83 513.5,518 C522.67,520.17 532.17,523.33 538.5,527 C544.83,530.67 549.83,534.83 551.5,540 C553.17,545.17 552.33,552 548.5,558 C544.67,564 536.83,571.17 528.5,576 C520.17,580.83 508.5,585.5 498.5,587 C488.5,588.5 478.5,587.33 468.5,585 C458.5,582.67 448.5,577.17 438.5,573 C428.5,568.83 417.33,563.5 408.5,560 C399.67,556.5 390.33,554.57 385.5,552 C380.67,549.43 379,548.27 379.5,544.6Z" fill="#2a2af2" fill-opacity="0.224"/>
<path d="M403.6,543 C403.6,539.33 411.02,533.5 418.5,530 C425.98,526.5 437.67,523.5 448.5,522 C459.33,520.5 473,520.33 483.5,521 C494,521.67 504.33,523.33 511.5,526 C518.67,528.67 524.5,532.5 526.5,537 C528.5,541.5 527.33,548.17 523.5,553 C519.67,557.83 511.83,563.17 503.5,566 C495.17,568.83 483.5,570.67 473.5,570 C463.5,569.33 452.67,565 443.5,562 C434.33,559 425.15,555.17 418.5,552 C411.85,548.83 403.6,546.67 403.6,543Z" fill="#2a2af2" fill-opacity="0.269"/>
<path d="M422.9,543 C422.9,540 427.57,534.67 433.5,532 C439.43,529.33 450.17,527.83 458.5,527 C466.83,526.17 476,526.33 483.5,527 C491,527.67 498.83,528.83 503.5,531 C508.17,533.17 511.5,536.5 511.5,540 C511.5,543.5 509,549 503.5,552 C498,555 486.83,557.33 478.5,558 C470.17,558.67 461,557.33 453.5,556 C446,554.67 438.6,552.17 433.5,550 C428.4,547.83 422.9,546 422.9,543Z" fill="#2a2af2" fill-opacity="0.342"/>
<path d="M426.5,538.2 C426.5,535.7 436.5,532.53 443.5,531 C450.5,529.47 461.83,528.83 468.5,529 C475.17,529.17 481.33,529.83 483.5,532 C485.67,534.17 484.83,539.5 481.5,542 C478.17,544.5 469.83,546.33 463.5,547 C457.17,547.67 449.67,547.47 443.5,546 C437.33,544.53 426.5,540.7 426.5,538.2Z" fill="#2a2af2" fill-opacity="0.480"/>
<path d="M451.5,572 C451,566.83 452.5,561.5 455.5,557 C458.5,552.5 463.5,548.5 469.5,545 C475.5,541.5 484.17,539 491.5,536 C498.83,533 507.05,530.17 513.5,527 C519.95,523.83 524.35,518.33 530.2,517 C536.05,515.67 542.03,519 548.6,519 C555.17,519 563.47,516.5 569.6,517 C575.73,517.5 580.63,519.83 585.4,522 C590.17,524.17 595.35,526.17 598.2,530 C601.05,533.83 601.72,539.98 602.5,545 C603.28,550.02 603.23,554.27 602.9,560.1 C602.57,565.93 602.4,573.68 600.5,580 C598.6,586.32 596,593.5 591.5,598 C587,602.5 580.67,605 573.5,607 C566.33,609 557.03,609.83 548.5,610 C539.97,610.17 530.63,609 522.3,608 C513.97,607 505.8,605.67 498.5,604 C491.2,602.33 485.17,600.67 478.5,598 C471.83,595.33 463,592.33 458.5,588 C454,583.67 452,577.17 451.5,572Z" fill="#32a02e" fill-opacity="0.090"/>
<path d="M595.97,572 C595.72,574.18 595.38,576.35 594.88,578.45 C594.37,580.56 593.7,582.63 592.92,584.63 C592.14,586.63 591.33,588.62 590.21,590.43 C589.09,592.23 587.8,594 586.22,595.47 C584.64,596.95 582.67,598.21 580.74,599.27 C578.8,600.34 576.62,601.14 574.61,601.87 C572.59,602.59 570.57,603.15 568.63,603.63 C566.7,604.12 564.82,604.47 563.02,604.78 C561.22,605.09 559.49,605.3 557.83,605.49 C556.17,605.68 554.6,605.8 553.08,605.91 C551.56,606.02 550.11,606.1 548.71,606.15 C547.3,606.21 545.95,606.24 544.63,606.24 C543.3,606.25 542.02,606.22 540.76,606.18 C539.51,606.14 538.28,606.07 537.07,606 C535.86,605.93 534.68,605.84 533.5,605.75 C532.32,605.66 531.16,605.55 529.98,605.45 C528.81,605.34 527.65,605.23 526.46,605.11 C525.28,604.99 524.09,604.87 522.86,604.74 C521.63,604.62 520.4,604.48 519.11,604.33 C517.82,604.18 516.5,604.02 515.12,603.83 C513.74,603.65 512.32,603.46 510.81,603.23 C509.3,603 507.74,602.76 506.07,602.46 C504.4,602.17 502.66,601.85 500.78,601.46 C498.91,601.06 496.92,600.65 494.83,600.09 C492.74,599.54 490.52,598.93 488.25,598.13 C485.98,597.32 483.71,596.37 481.2,595.28 C478.7,594.19 475.8,593.07 473.21,591.59 C470.63,590.11 467.63,588.42 465.68,586.41 C463.73,584.41 462.5,581.97 461.52,579.57 C460.54,577.16 459.96,574.54 459.8,572 C459.65,569.46 459.87,566.8 460.57,564.33 C461.27,561.87 462.48,559.4 464.01,557.23 C465.54,555.05 467.63,553.04 469.75,551.29 C471.87,549.54 474.31,548.01 476.73,546.72 C479.15,545.44 481.88,544.5 484.29,543.59 C486.7,542.68 489.07,542 491.2,541.27 C493.34,540.54 495.24,539.87 497.1,539.22 C498.95,538.58 500.66,537.97 502.34,537.39 C504.01,536.8 505.59,536.26 507.13,535.71 C508.67,535.15 510.14,534.62 511.59,534.05 C513.04,533.49 514.45,532.97 515.83,532.31 C517.21,531.65 518.52,530.93 519.89,530.1 C521.25,529.28 522.57,528.24 524.01,527.36 C525.46,526.49 526.96,525.42 528.54,524.86 C530.13,524.29 531.84,524 533.5,523.95 C535.16,523.91 536.84,524.34 538.48,524.6 C540.13,524.86 541.7,525.33 543.38,525.52 C545.06,525.7 546.71,525.78 548.54,525.7 C550.38,525.62 552.32,525.27 554.42,525.02 C556.51,524.77 558.84,524.28 561.1,524.2 C563.35,524.13 565.72,524.2 567.95,524.58 C570.18,524.96 572.29,525.73 574.47,526.5 C576.65,527.27 578.82,528.18 581.03,529.2 C583.24,530.22 585.85,531.12 587.74,532.59 C589.63,534.06 591.23,535.97 592.38,538 C593.53,540.04 594.02,542.5 594.63,544.78 C595.24,547.06 595.73,549.37 596.04,551.68 C596.35,553.99 596.41,556.33 596.47,558.62 C596.52,560.9 596.46,563.16 596.37,565.39 C596.29,567.62 596.22,569.82 595.97,572Z" fill="#32a02e" fill-opacity="0.143"/>
<path d="M589.87,572 C589.69,573.96 589.42,575.93 588.99,577.83 C588.55,579.74 587.98,581.63 587.27,583.43 C586.56,585.23 585.79,587.03 584.72,588.64 C583.64,590.25 582.33,591.79 580.82,593.07 C579.3,594.35 577.43,595.41 575.63,596.32 C573.83,597.23 571.84,597.91 570.01,598.53 C568.18,599.14 566.36,599.62 564.64,600.04 C562.91,600.45 561.24,600.76 559.65,601.04 C558.05,601.32 556.53,601.51 555.07,601.69 C553.61,601.86 552.22,601.99 550.88,602.1 C549.53,602.21 548.26,602.29 547.01,602.35 C545.77,602.41 544.58,602.46 543.4,602.48 C542.23,602.5 541.1,602.49 539.98,602.48 C538.86,602.46 537.77,602.43 536.69,602.38 C535.61,602.34 534.56,602.29 533.5,602.23 C532.44,602.17 531.4,602.1 530.34,602.03 C529.29,601.96 528.24,601.88 527.17,601.8 C526.09,601.72 525.01,601.64 523.9,601.55 C522.78,601.45 521.66,601.36 520.48,601.25 C519.3,601.14 518.1,601.01 516.83,600.88 C515.56,600.74 514.25,600.59 512.85,600.42 C511.46,600.24 510,600.06 508.45,599.83 C506.89,599.59 505.25,599.34 503.5,599.01 C501.75,598.68 499.87,598.34 497.93,597.84 C496,597.34 493.93,596.78 491.9,596.02 C489.86,595.26 487.85,594.33 485.71,593.28 C483.57,592.22 481.18,591.09 479.05,589.69 C476.91,588.29 474.51,586.71 472.92,584.88 C471.32,583.05 470.3,580.87 469.5,578.73 C468.7,576.58 468.24,574.26 468.11,572 C467.98,569.74 468.16,567.39 468.73,565.19 C469.3,563 470.27,560.79 471.53,558.83 C472.79,556.86 474.48,555.01 476.3,553.41 C478.12,551.82 480.27,550.42 482.46,549.28 C484.65,548.13 487.18,547.32 489.41,546.55 C491.64,545.77 493.86,545.23 495.84,544.64 C497.82,544.05 499.59,543.52 501.3,543.01 C503.01,542.5 504.57,542.02 506.1,541.56 C507.62,541.1 509.04,540.68 510.43,540.24 C511.81,539.81 513.13,539.39 514.42,538.96 C515.71,538.52 516.96,538.11 518.19,537.6 C519.41,537.1 520.57,536.54 521.77,535.91 C522.97,535.28 524.13,534.49 525.39,533.83 C526.64,533.16 527.93,532.35 529.29,531.92 C530.64,531.48 532.09,531.26 533.5,531.22 C534.91,531.18 536.33,531.49 537.74,531.68 C539.14,531.87 540.49,532.22 541.93,532.35 C543.36,532.48 544.78,532.54 546.34,532.47 C547.91,532.41 549.56,532.15 551.33,531.96 C553.1,531.78 555.05,531.4 556.97,531.35 C558.88,531.3 560.89,531.36 562.81,531.66 C564.72,531.97 566.56,532.56 568.46,533.17 C570.37,533.78 572.28,534.5 574.24,535.31 C576.2,536.13 578.48,536.87 580.22,538.06 C581.96,539.25 583.5,540.78 584.68,542.45 C585.86,544.11 586.56,546.13 587.3,548.05 C588.03,549.96 588.65,551.95 589.08,553.94 C589.51,555.93 589.72,558 589.89,560.01 C590.05,562.03 590.09,564.05 590.09,566.05 C590.09,568.05 590.06,570.04 589.87,572Z" fill="#32a02e" fill-opacity="0.231"/>
<path d="M583.78,572 C583.66,573.75 583.46,575.51 583.1,577.21 C582.74,578.92 582.27,580.62 581.62,582.23 C580.97,583.84 580.26,585.45 579.22,586.86 C578.19,588.26 576.86,589.57 575.41,590.66 C573.96,591.75 572.18,592.62 570.52,593.37 C568.85,594.13 567.06,594.68 565.41,595.19 C563.77,595.7 562.16,596.08 560.64,596.44 C559.12,596.79 557.67,597.05 556.28,597.3 C554.89,597.54 553.58,597.72 552.31,597.89 C551.04,598.05 549.84,598.17 548.68,598.28 C547.51,598.39 546.4,598.48 545.32,598.55 C544.24,598.62 543.2,598.68 542.18,598.71 C541.16,598.75 540.17,598.77 539.19,598.78 C538.21,598.79 537.26,598.78 536.31,598.77 C535.36,598.76 534.44,598.74 533.5,598.71 C532.56,598.69 531.64,598.65 530.7,598.62 C529.76,598.58 528.83,598.54 527.87,598.5 C526.91,598.45 525.94,598.41 524.94,598.35 C523.94,598.29 522.92,598.24 521.85,598.16 C520.78,598.09 519.7,598.01 518.54,597.92 C517.38,597.82 516.18,597.73 514.9,597.61 C513.61,597.48 512.27,597.36 510.82,597.19 C509.37,597.01 507.84,596.84 506.21,596.57 C504.58,596.3 502.81,596.03 501.03,595.59 C499.26,595.15 497.34,594.63 495.54,593.92 C493.74,593.2 491.99,592.29 490.22,591.27 C488.44,590.25 486.56,589.12 484.88,587.8 C483.2,586.48 481.38,584.99 480.15,583.34 C478.91,581.69 478.1,579.78 477.48,577.89 C476.86,576 476.51,573.97 476.41,572 C476.32,570.03 476.45,567.98 476.89,566.05 C477.33,564.12 478.06,562.18 479.05,560.43 C480.04,558.67 481.32,556.97 482.84,555.54 C484.36,554.11 486.24,552.83 488.19,551.83 C490.14,550.82 492.49,550.14 494.54,549.5 C496.58,548.87 498.65,548.46 500.47,548.01 C502.3,547.55 503.94,547.17 505.51,546.79 C507.07,546.42 508.49,546.08 509.85,545.74 C511.22,545.4 512.49,545.09 513.72,544.78 C514.96,544.47 516.11,544.17 517.25,543.86 C518.39,543.54 519.47,543.25 520.54,542.9 C521.61,542.54 522.63,542.16 523.66,541.72 C524.7,541.29 525.7,540.75 526.76,540.29 C527.82,539.83 528.91,539.28 530.03,538.98 C531.15,538.68 532.34,538.52 533.5,538.48 C534.66,538.44 535.83,538.64 536.99,538.76 C538.16,538.88 539.28,539.1 540.48,539.18 C541.67,539.26 542.85,539.3 544.14,539.25 C545.43,539.2 546.79,539.03 548.24,538.9 C549.69,538.78 551.27,538.53 552.84,538.5 C554.41,538.48 556.06,538.53 557.66,538.75 C559.26,538.97 560.82,539.4 562.46,539.84 C564.09,540.29 565.75,540.81 567.45,541.43 C569.16,542.04 571.11,542.61 572.7,543.52 C574.28,544.43 575.77,545.6 576.99,546.89 C578.2,548.19 579.1,549.76 579.96,551.31 C580.82,552.87 581.57,554.52 582.12,556.2 C582.68,557.88 583.03,559.66 583.31,561.41 C583.59,563.16 583.73,564.95 583.81,566.71 C583.89,568.48 583.89,570.25 583.78,572Z" fill="#32a02e" fill-opacity="0.300"/>
<path d="M577.68,572 C577.63,573.54 577.49,575.09 577.21,576.59 C576.92,578.1 576.55,579.62 575.97,581.03 C575.39,582.44 574.72,583.87 573.73,585.07 C572.73,586.27 571.4,587.36 570.01,588.26 C568.62,589.15 566.94,589.82 565.41,590.42 C563.87,591.02 562.28,591.44 560.82,591.85 C559.36,592.25 557.96,592.55 556.64,592.84 C555.32,593.12 554.09,593.35 552.91,593.55 C551.73,593.76 550.62,593.94 549.55,594.09 C548.48,594.24 547.46,594.36 546.47,594.47 C545.49,594.58 544.55,594.67 543.63,594.75 C542.71,594.83 541.83,594.89 540.96,594.95 C540.09,595 539.24,595.04 538.4,595.08 C537.57,595.11 536.75,595.13 535.93,595.15 C535.12,595.17 534.31,595.19 533.5,595.19 C532.69,595.2 531.88,595.21 531.06,595.21 C530.24,595.2 529.42,595.2 528.57,595.19 C527.72,595.18 526.87,595.17 525.98,595.15 C525.09,595.13 524.18,595.11 523.22,595.08 C522.27,595.05 521.29,595.01 520.25,594.96 C519.2,594.91 518.11,594.86 516.94,594.79 C515.76,594.73 514.53,594.66 513.2,594.55 C511.86,594.44 510.44,594.33 508.93,594.13 C507.42,593.92 505.76,593.72 504.13,593.34 C502.51,592.95 500.76,592.49 499.19,591.81 C497.62,591.13 496.13,590.25 494.72,589.27 C493.31,588.28 491.94,587.15 490.72,585.9 C489.49,584.66 488.26,583.28 487.38,581.8 C486.5,580.33 485.9,578.68 485.46,577.05 C485.01,575.42 484.79,573.69 484.72,572 C484.65,570.31 484.74,568.57 485.05,566.91 C485.36,565.24 485.85,563.56 486.57,562.02 C487.29,560.48 488.16,558.94 489.39,557.67 C490.61,556.39 492.21,555.25 493.92,554.38 C495.63,553.51 497.79,552.96 499.66,552.46 C501.52,551.96 503.43,551.69 505.11,551.37 C506.78,551.06 508.29,550.82 509.71,550.58 C511.13,550.34 512.4,550.13 513.61,549.92 C514.83,549.7 515.94,549.51 517.02,549.32 C518.1,549.12 519.1,548.94 520.08,548.76 C521.06,548.57 521.99,548.4 522.9,548.19 C523.81,547.99 524.68,547.77 525.55,547.53 C526.42,547.29 527.26,547 528.13,546.75 C529,546.5 529.88,546.21 530.77,546.04 C531.67,545.87 532.59,545.78 533.5,545.74 C534.41,545.71 535.33,545.8 536.25,545.84 C537.17,545.89 538.07,545.99 539.02,546.02 C539.97,546.05 540.92,546.06 541.94,546.03 C542.96,546 544.02,545.9 545.15,545.84 C546.28,545.78 547.48,545.66 548.71,545.65 C549.94,545.65 551.22,545.69 552.51,545.83 C553.8,545.98 555.09,546.23 556.45,546.51 C557.81,546.8 559.21,547.13 560.66,547.54 C562.12,547.95 563.74,548.35 565.17,548.99 C566.61,549.62 568.04,550.41 569.29,551.34 C570.53,552.27 571.65,553.39 572.62,554.58 C573.6,555.77 574.48,557.09 575.17,558.46 C575.85,559.83 576.33,561.33 576.73,562.81 C577.12,564.3 577.37,565.84 577.53,567.37 C577.69,568.9 577.73,570.46 577.68,572Z" fill="#32a02e" fill-opacity="0.405"/>
<path d="M493.5,566 C494.33,562.17 495.33,559 499.5,557 C503.67,555 510.33,554.67 518.5,554 C526.67,553.33 540.67,552.33 548.5,553 C556.33,553.67 561.67,555.17 565.5,558 C569.33,560.83 571.17,565.67 571.5,570 C571.83,574.33 571.33,580.67 567.5,584 C563.67,587.33 555.83,588.67 548.5,590 C541.17,591.33 531,592 523.5,592 C516,592 508.33,592 503.5,590 C498.67,588 496.17,584 494.5,580 C492.83,576 492.67,569.83 493.5,566Z" fill="#32a02e" fill-opacity="0.600"/>
</g>
<path d="M426.9,538.7 L431.9,533.7 L448.7,528.6 L472.2,525.3 L505.8,523.6 L526,525.3 L531,532 L526,540.4 L505.8,553.8 L485.7,565.6 L462.2,567.9 L442,560.5 L428.6,548.8Z" fill="none" stroke="#1f2a6e" stroke-width="1.7" stroke-dasharray="5.5 3.5" stroke-linejoin="round"/>
<path d="M489.5,572.3 L496,560.4 L514.4,555.2 L553.9,553.9 L561.7,559.1 L567,568.3 L565.5,580 L548.6,586.7 L522.3,589.3 L503.9,586.7 L496,581.5Z" fill="none" stroke="#ffffff" stroke-width="1.7" stroke-dasharray="5.5 3.5" stroke-linejoin="round"/>
<path d="M509.2,589.2 L507.7,598 L523.8,612.6 L544.2,625.7 L564.7,633 L582.2,631.5 L593.9,618.4 L598.2,600.9 L596.8,589.2 L585.1,580.4 L570.5,574.6 L553,577.5 L532.6,580.4 L515,583.4Z" fill="none" stroke="#e8891a" stroke-width="1.7" stroke-dasharray="5.5 3.5" stroke-linejoin="round"/>
<line x1="372.7" y1="649.2" x2="549.5" y2="472.4" stroke="#c4c4c4" stroke-width="1.8" stroke-dasharray="6 4"/>
<line x1="372.7" y1="696.3" x2="596.6" y2="472.4" stroke="#c4c4c4" stroke-width="1.8" stroke-dasharray="6 4"/>
<line x1="441.2" y1="696.5" x2="665.3" y2="472.4" stroke="#c4c4c4" stroke-width="1.8" stroke-dasharray="6 4"/>
<line x1="527.7" y1="696.5" x2="681.9" y2="542.3" stroke="#c4c4c4" stroke-width="1.8" stroke-dasharray="6 4"/>
<g transform="translate(389.6,641) rotate(-45)"><text x="0" y="2.6" font-family="Liberation Sans" font-size="8.4" fill="#8a8a8a" font-weight="normal" font-style="normal" text-anchor="middle" >Sr/Y = 200</text></g>
<g transform="translate(418.2,662.3) rotate(-45)"><text x="0" y="2.6" font-family="Liberation Sans" font-size="8.4" fill="#8a8a8a" font-weight="normal" font-style="normal" text-anchor="middle" >Sr/Y = 100</text></g>
<g transform="translate(464.9,681.3) rotate(-45)"><text x="0" y="2.6" font-family="Liberation Sans" font-size="8.4" fill="#8a8a8a" font-weight="normal" font-style="normal" text-anchor="middle" >Sr/Y = 30</text></g>
<g transform="translate(551.1,682.8) rotate(-45)"><text x="0" y="2.6" font-family="Liberation Sans" font-size="8.4" fill="#8a8a8a" font-weight="normal" font-style="normal" text-anchor="middle" >Sr/Y = 10</text></g>
<text x="413.5" y="500.2" font-family="Liberation Sans" font-size="11.5" fill="#2b2f8f" font-weight="bold" font-style="italic" text-anchor="start" textLength="44.9" lengthAdjust="spacingAndGlyphs" >“HP”-TTG</text>
<text x="568.6" y="513.7" font-family="Liberation Sans" font-size="11.5" fill="#24a047" font-weight="bold" font-style="italic" text-anchor="start" textLength="45.9" lengthAdjust="spacingAndGlyphs" >“MP”-TTG</text>
<text x="623" y="635.3" font-family="Liberation Sans" font-size="11.5" fill="#f7901e" font-weight="bold" font-style="italic" text-anchor="start" textLength="42.4" lengthAdjust="spacingAndGlyphs" >“LP”-TTG</text>
<path d="M49.8,800.4 L51.5,807.2 L78.4,820.6 L112,837.4 L145.5,854.2 L169,871 L189.2,886.1 L202.6,867.6 L219.4,840.7 L236.2,807.2 L246.3,783.7 L248,760.1 L239.6,746.7 L219.4,743.4 L202.6,748.4 L185.8,756.8 L162.3,763.5 L128.7,771.9 L95.2,782 L68.3,792Z" fill="#f7e3d5" stroke="#f7e3d5" stroke-width="0.3" stroke-linejoin="round"/>
<path d="M112,802.1 L128.7,817.2 L155.6,834 L185.8,854.2 L202.6,850.8 L221.1,827.3 L232.8,800.4 L239.6,773.6 L236.2,753.4 L219.4,750.1 L195.9,760.1 L169,773.6 L138.8,787 L118.7,795.4Z" fill="#f9cfae" stroke="#f9cfae" stroke-width="0.3" stroke-linejoin="round"/>
<path d="M138.8,800.4 L160,822 L182.5,840.7 L200,832 L215,815 L229.5,797.1 L231,775 L226.1,756.8 L202.6,763.5 L169,778.6 L150,790Z" fill="#fabb8a" stroke="#fabb8a" stroke-width="0.3" stroke-linejoin="round"/>
<path d="M155.6,800.4 L170,816 L185.8,830.7 L205,816 L224.4,797.1 L225,778 L221.1,763.5 L195.9,773.6 L172,787Z" fill="#fba966" stroke="#fba966" stroke-width="0.3" stroke-linejoin="round"/>
<path d="M165.7,802.1 L175,812 L185.8,820.6 L200,808 L216,790.4 L216,778 L212.7,768.5 L189.2,780.3 L175,790Z" fill="#fc9645" stroke="#fc9645" stroke-width="0.3" stroke-linejoin="round"/>
<path d="M178,803 L186,812 L196,805 L203,792 L198,786 L186,791Z" fill="#fe8522" stroke="#fe8522" stroke-width="0.3" stroke-linejoin="round"/>
<path d="M168.4,800 L171.3,792.3 L179,785.5 L188.3,779.9 L199,776.5 L209.2,774.2 L215.8,767.6 L219.6,775.2 L218.7,788.5 L214.9,801.7 L205.4,815 L197,821.5 L190.2,825.5 L183,821.5 L177,817 L169.3,807.4Z" fill="none" stroke="#fff" stroke-width="1.6" stroke-dasharray="5 3.2" stroke-linejoin="round"/>
<text x="246.4" y="803.1" font-family="Liberation Sans" font-size="13.5" fill="#f08a1c" font-weight="bold" font-style="italic" text-anchor="start" textLength="59.2" lengthAdjust="spacingAndGlyphs" >“LP”-TTG</text>
<clipPath id="cliph"><rect x="372.5" y="717.6" width="309" height="201.9"/></clipPath><g clip-path="url(#cliph)">
<path d="M360,771.5 L415.8,769.2 L465.4,763.4 L488.8,754.6 L518,749.3 L535.5,753.1 L547.2,763.4 L554.5,776.5 L555.9,780.9 L551.6,792.6 L547.2,804.2 L545.7,827.6 L541.3,869.6 L531.1,919.3 L529,930 L360,930Z" fill="#d4d4f8" stroke="#d4d4f8" stroke-width="0.3" stroke-linejoin="round"/>
<path d="M360,778 L430.4,774.5 L465.4,769.2 L494.6,761.9 L518,759 L532.6,763.4 L544.3,775 L547.2,786.7 L542.8,801.3 L538.4,827.6 L529.7,878.4 L518,901.8 L472.7,919.3 L460,930 L360,930Z" fill="#b3b3f4" stroke="#b3b3f4" stroke-width="0.3" stroke-linejoin="round"/>
<path d="M360,785.3 L430.4,780.9 L474.2,773.6 L503.4,767.7 L523.8,767.7 L537,778 L538.4,792.6 L535.5,813 L534,827.6 L526.7,849.2 L518,879.9 L372,890 L360,890Z" fill="#9494f1" stroke="#9494f1" stroke-width="0.3" stroke-linejoin="round"/>
<path d="M360,792.6 L430.4,788.2 L474.2,780.9 L503.4,775 L523.8,776.5 L532.6,786.7 L532.6,804.2 L529.7,827.6 L524,840 L518,862.3 L372,863.8 L360,863.8Z" fill="#7474ef" stroke="#7474ef" stroke-width="0.3" stroke-linejoin="round"/>
<path d="M360,807.2 L430.4,799.9 L474.2,789.6 L503.4,783.8 L520.9,783.8 L526.7,792.6 L526.7,813 L525.3,827.6 L518,847.7 L372,841.9 L360,841.9Z" fill="#4444ec" stroke="#4444ec" stroke-width="0.3" stroke-linejoin="round"/>
<path d="M488,808 L497,799 L508,793 L519,789.5 L526,796 L525.5,812 L520,825 L506,826 L494,820Z" fill="#1414f0" stroke="#1414f0" stroke-width="0.3" stroke-linejoin="round"/>
</g>
<path d="M466.9,811.5 L483,801.3 L503.4,795.5 L520.9,789.6 L529.7,794 L531.1,804.2 L526.7,818.8 L520.9,834.9 L500.5,833.4 L480,824.7 L471.3,817.4Z" fill="none" stroke="#fff" stroke-width="1.6" stroke-dasharray="5 3.2" stroke-linejoin="round"/>
<text x="552.7" y="819.6" font-family="Liberation Sans" font-size="13.8" fill="#25297f" font-weight="bold" font-style="italic" text-anchor="start" textLength="61.4" lengthAdjust="spacingAndGlyphs" >“HP”-TTG</text>
<path d="M121,375.5 L134.2,379.8 L170,393.5 L201.8,393.1 L219.5,378 L221.5,357 L221.5,317.2 L220.1,298" fill="none" stroke="#27b8d2" stroke-width="1.1" stroke-linejoin="round"/>
<path d="M121,372.75 L123.75,375.5 L121,378.25 L118.25,375.5 Z" fill="#fff" stroke="#27b8d2" stroke-width="0.9"/>
<path d="M134.2,377.05 L136.95,379.8 L134.2,382.55 L131.45,379.8 Z" fill="#fff" stroke="#27b8d2" stroke-width="0.9"/>
<path d="M170,390.75 L172.75,393.5 L170,396.25 L167.25,393.5 Z" fill="#fff" stroke="#27b8d2" stroke-width="0.9"/>
<path d="M201.8,390.35 L204.55,393.1 L201.8,395.85 L199.05,393.1 Z" fill="#fff" stroke="#27b8d2" stroke-width="0.9"/>
<path d="M219.5,375.25 L222.25,378 L219.5,380.75 L216.75,378 Z" fill="#fff" stroke="#27b8d2" stroke-width="0.9"/>
<path d="M221.5,354.25 L224.25,357 L221.5,359.75 L218.75,357 Z" fill="#fff" stroke="#27b8d2" stroke-width="0.9"/>
<path d="M221.5,314.45 L224.25,317.2 L221.5,319.95 L218.75,317.2 Z" fill="#fff" stroke="#27b8d2" stroke-width="0.9"/>
<path d="M220.1,295.25 L222.85,298 L220.1,300.75 L217.35,298 Z" fill="#fff" stroke="#27b8d2" stroke-width="0.9"/>
<path d="M121,375 L127.4,376.5 L167.7,391.8 L193.2,389.1 L210.3,373.1 L226.7,356 L225.4,332.1 L223.2,310.7 L225.4,293.6" fill="none" stroke="#3aa935" stroke-width="1.1" stroke-linejoin="round"/>
<path d="M121,372.25 L123.75,375 L121,377.75 L118.25,375 Z" fill="#fff" stroke="#3aa935" stroke-width="0.9"/>
<path d="M127.4,373.75 L130.15,376.5 L127.4,379.25 L124.65,376.5 Z" fill="#fff" stroke="#3aa935" stroke-width="0.9"/>
<path d="M167.7,389.05 L170.45,391.8 L167.7,394.55 L164.95,391.8 Z" fill="#fff" stroke="#3aa935" stroke-width="0.9"/>
<path d="M193.2,386.35 L195.95,389.1 L193.2,391.85 L190.45,389.1 Z" fill="#fff" stroke="#3aa935" stroke-width="0.9"/>
<path d="M210.3,370.35 L213.05,373.1 L210.3,375.85 L207.55,373.1 Z" fill="#fff" stroke="#3aa935" stroke-width="0.9"/>
<path d="M226.7,353.25 L229.45,356 L226.7,358.75 L223.95,356 Z" fill="#fff" stroke="#3aa935" stroke-width="0.9"/>
<path d="M225.4,329.35 L228.15,332.1 L225.4,334.85 L222.65,332.1 Z" fill="#fff" stroke="#3aa935" stroke-width="0.9"/>
<path d="M223.2,307.95 L225.95,310.7 L223.2,313.45 L220.45,310.7 Z" fill="#fff" stroke="#3aa935" stroke-width="0.9"/>
<path d="M225.4,290.85 L228.15,293.6 L225.4,296.35 L222.65,293.6 Z" fill="#fff" stroke="#3aa935" stroke-width="0.9"/>
<path d="M121,375.6 L173.4,394.3 L197.8,394 L211,384.9 L217.3,366.5 L218.6,343.1 L218.8,324.7 L219.7,306.7 L224,296" fill="none" stroke="#2e74b5" stroke-width="1.1" stroke-linejoin="round"/>
<path d="M173.4,391.44 L176.12,396.02 L170.68,396.02 Z" fill="#fff" stroke="#2e74b5" stroke-width="0.9"/>
<path d="M197.8,391.14 L200.52,395.72 L195.08,395.72 Z" fill="#fff" stroke="#2e74b5" stroke-width="0.9"/>
<path d="M211,382.04 L213.72,386.62 L208.28,386.62 Z" fill="#fff" stroke="#2e74b5" stroke-width="0.9"/>
<path d="M217.3,363.64 L220.02,368.22 L214.58,368.22 Z" fill="#fff" stroke="#2e74b5" stroke-width="0.9"/>
<path d="M218.6,340.24 L221.32,344.82 L215.88,344.82 Z" fill="#fff" stroke="#2e74b5" stroke-width="0.9"/>
<path d="M218.8,321.84 L221.52,326.42 L216.08,326.42 Z" fill="#fff" stroke="#2e74b5" stroke-width="0.9"/>
<path d="M219.7,303.84 L222.42,308.42 L216.98,308.42 Z" fill="#fff" stroke="#2e74b5" stroke-width="0.9"/>
<path d="M224,293.14 L226.72,297.72 L221.28,297.72 Z" fill="#fff" stroke="#2e74b5" stroke-width="0.9"/>
<path d="M121,375.6 L171.8,388.7 L190.6,386.8 L204.4,376.2 L212,357.9 L215.3,332.1 L216.2,314.6 L222,302 L225.4,298.4 L230.2,297.1 L234.2,298.8" fill="none" stroke="#9364c2" stroke-width="1.1" stroke-linejoin="round"/>
<path d="M171.8,385.73 L172.58,387.63 L174.62,387.78 L173.06,389.11 L173.55,391.1 L171.8,390.02 L170.05,391.1 L170.54,389.11 L168.98,387.78 L171.02,387.63Z" fill="#fff" stroke="#9364c2" stroke-width="0.81"/>
<path d="M190.6,383.83 L191.38,385.73 L193.42,385.88 L191.86,387.21 L192.35,389.2 L190.6,388.12 L188.85,389.2 L189.34,387.21 L187.78,385.88 L189.82,385.73Z" fill="#fff" stroke="#9364c2" stroke-width="0.81"/>
<path d="M204.4,373.23 L205.18,375.13 L207.22,375.28 L205.66,376.61 L206.15,378.6 L204.4,377.52 L202.65,378.6 L203.14,376.61 L201.58,375.28 L203.62,375.13Z" fill="#fff" stroke="#9364c2" stroke-width="0.81"/>
<path d="M212,354.93 L212.78,356.83 L214.82,356.98 L213.26,358.31 L213.75,360.3 L212,359.22 L210.25,360.3 L210.74,358.31 L209.18,356.98 L211.22,356.83Z" fill="#fff" stroke="#9364c2" stroke-width="0.81"/>
<path d="M215.3,329.13 L216.08,331.03 L218.12,331.18 L216.56,332.51 L217.05,334.5 L215.3,333.42 L213.55,334.5 L214.04,332.51 L212.48,331.18 L214.52,331.03Z" fill="#fff" stroke="#9364c2" stroke-width="0.81"/>
<path d="M216.2,311.63 L216.98,313.53 L219.02,313.68 L217.46,315.01 L217.95,317 L216.2,315.92 L214.45,317 L214.94,315.01 L213.38,313.68 L215.42,313.53Z" fill="#fff" stroke="#9364c2" stroke-width="0.81"/>
<path d="M222,299.03 L222.78,300.93 L224.82,301.08 L223.26,302.41 L223.75,304.4 L222,303.32 L220.25,304.4 L220.74,302.41 L219.18,301.08 L221.22,300.93Z" fill="#fff" stroke="#9364c2" stroke-width="0.81"/>
<path d="M225.4,295.43 L226.18,297.33 L228.22,297.48 L226.66,298.81 L227.15,300.8 L225.4,299.72 L223.65,300.8 L224.14,298.81 L222.58,297.48 L224.62,297.33Z" fill="#fff" stroke="#9364c2" stroke-width="0.81"/>
<path d="M230.2,294.13 L230.98,296.03 L233.02,296.18 L231.46,297.51 L231.95,299.5 L230.2,298.42 L228.45,299.5 L228.94,297.51 L227.38,296.18 L229.42,296.03Z" fill="#fff" stroke="#9364c2" stroke-width="0.81"/>
<path d="M234.2,295.83 L234.98,297.73 L237.02,297.88 L235.46,299.21 L235.95,301.2 L234.2,300.12 L232.45,301.2 L232.94,299.21 L231.38,297.88 L233.42,297.73Z" fill="#fff" stroke="#9364c2" stroke-width="0.81"/>
<path d="M119.5,375.3 L121.2,375.4 L161,387.2 L183.4,376 L208.1,355.6 L227.6,341.5 L231.1,316.3 L227,292 L225.4,289" fill="none" stroke="#fdd20e" stroke-width="1.1" stroke-linejoin="round"/>
<rect x="117.3" y="373.1" width="4.4" height="4.4" fill="#fff" stroke="#fdd20e" stroke-width="0.9"/>
<rect x="119" y="373.2" width="4.4" height="4.4" fill="#fff" stroke="#fdd20e" stroke-width="0.9"/>
<rect x="158.8" y="385" width="4.4" height="4.4" fill="#fff" stroke="#fdd20e" stroke-width="0.9"/>
<rect x="181.2" y="373.8" width="4.4" height="4.4" fill="#fff" stroke="#fdd20e" stroke-width="0.9"/>
<rect x="205.9" y="353.4" width="4.4" height="4.4" fill="#fff" stroke="#fdd20e" stroke-width="0.9"/>
<rect x="225.4" y="339.3" width="4.4" height="4.4" fill="#fff" stroke="#fdd20e" stroke-width="0.9"/>
<rect x="228.9" y="314.1" width="4.4" height="4.4" fill="#fff" stroke="#fdd20e" stroke-width="0.9"/>
<path d="M118.7,375.1 L155.5,381.9 L183.4,366.5 L211.6,348.1 L231.5,330.4 L233.7,306.7" fill="none" stroke="#f7901e" stroke-width="1.1" stroke-linejoin="round"/>
<rect x="116.5" y="372.9" width="4.4" height="4.4" fill="#fff" stroke="#f7901e" stroke-width="0.9"/>
<rect x="153.3" y="379.7" width="4.4" height="4.4" fill="#fff" stroke="#f7901e" stroke-width="0.9"/>
<rect x="181.2" y="364.3" width="4.4" height="4.4" fill="#fff" stroke="#f7901e" stroke-width="0.9"/>
<rect x="209.4" y="345.9" width="4.4" height="4.4" fill="#fff" stroke="#f7901e" stroke-width="0.9"/>
<rect x="229.3" y="328.2" width="4.4" height="4.4" fill="#fff" stroke="#f7901e" stroke-width="0.9"/>
<rect x="231.5" y="304.5" width="4.4" height="4.4" fill="#fff" stroke="#f7901e" stroke-width="0.9"/>
<path d="M124.8,373.2 L166.3,372.3 L204,350.6 L233,332" fill="none" stroke="#d6263b" stroke-width="1.1" stroke-linejoin="round"/>
<circle cx="124.8" cy="373.2" r="2.2" fill="#fff" stroke="#d6263b" stroke-width="0.9"/>
<circle cx="166.3" cy="372.3" r="2.2" fill="#fff" stroke="#d6263b" stroke-width="0.9"/>
<circle cx="204" cy="350.6" r="2.2" fill="#fff" stroke="#d6263b" stroke-width="0.9"/>
<circle cx="233" cy="332" r="2.2" fill="#fff" stroke="#d6263b" stroke-width="0.9"/>
<text x="160.5" y="369" font-family="Liberation Sans" font-size="7.5" fill="#d6263b" font-weight="bold" font-style="normal" text-anchor="start" >15</text>
<text x="196" y="347.5" font-family="Liberation Sans" font-size="7.5" fill="#d6263b" font-weight="bold" font-style="normal" text-anchor="start" >10</text>
<text x="235.5" y="336.5" font-family="Liberation Sans" font-size="7.5" fill="#d6263b" font-weight="bold" font-style="normal" text-anchor="start" >5</text>
<text x="177" y="363.5" font-family="Liberation Sans" font-size="7.5" fill="#f7901e" font-weight="bold" font-style="normal" text-anchor="start" >20</text>
<text x="236.5" y="327" font-family="Liberation Sans" font-size="7.5" fill="#f7901e" font-weight="bold" font-style="normal" text-anchor="start" >10</text>
<text x="237" y="309" font-family="Liberation Sans" font-size="7.5" fill="#f7901e" font-weight="bold" font-style="normal" text-anchor="start" >5</text>
<text x="177" y="373" font-family="Liberation Sans" font-size="7.5" fill="#fdd20e" font-weight="bold" font-style="normal" text-anchor="start" >25</text>
<text x="202" y="354" font-family="Liberation Sans" font-size="7.5" fill="#fdd20e" font-weight="bold" font-style="normal" text-anchor="start" >20</text>
<text x="234" y="345" font-family="Liberation Sans" font-size="7.5" fill="#fdd20e" font-weight="bold" font-style="normal" text-anchor="start" >15</text>
<text x="234" y="319" font-family="Liberation Sans" font-size="7.5" fill="#fdd20e" font-weight="bold" font-style="normal" text-anchor="start" >10</text>
<text x="186" y="384" font-family="Liberation Sans" font-size="7.5" fill="#9364c2" font-weight="bold" font-style="normal" text-anchor="start" >45</text>
<text x="209" y="337" font-family="Liberation Sans" font-size="7.5" fill="#9364c2" font-weight="bold" font-style="normal" text-anchor="start" >25</text>
<text x="196" y="389.5" font-family="Liberation Sans" font-size="7.5" fill="#3aa935" font-weight="bold" font-style="normal" text-anchor="start" >35</text>
<text x="227" y="359" font-family="Liberation Sans" font-size="7.5" fill="#3aa935" font-weight="bold" font-style="normal" text-anchor="start" >25</text>
<text x="226" y="335" font-family="Liberation Sans" font-size="7.5" fill="#3aa935" font-weight="bold" font-style="normal" text-anchor="start" >20</text>
<text x="226" y="309.5" font-family="Liberation Sans" font-size="7.5" fill="#3aa935" font-weight="bold" font-style="normal" text-anchor="start" >15</text>
<text x="221" y="382" font-family="Liberation Sans" font-size="7.5" fill="#2e74b5" font-weight="bold" font-style="normal" text-anchor="start" >35</text>
<text x="190" y="402" font-family="Liberation Sans" font-size="7.5" fill="#2e74b5" font-weight="bold" font-style="normal" text-anchor="start" >45</text>
<text x="214" y="327" font-family="Liberation Sans" font-size="7.5" fill="#2e74b5" font-weight="bold" font-style="normal" text-anchor="start" >25</text>
<text x="222.5" y="385" font-family="Liberation Sans" font-size="7.5" fill="#27b8d2" font-weight="bold" font-style="normal" text-anchor="start" >35</text>
<text x="223.5" y="360.5" font-family="Liberation Sans" font-size="7.5" fill="#27b8d2" font-weight="bold" font-style="normal" text-anchor="start" >30</text>
<text x="223" y="320" font-family="Liberation Sans" font-size="7.5" fill="#27b8d2" font-weight="bold" font-style="normal" text-anchor="start" >20</text>
<text x="214" y="299.5" font-family="Liberation Sans" font-size="7.5" fill="#27b8d2" font-weight="bold" font-style="normal" text-anchor="start" >15</text>
<text x="222.5" y="289.5" font-family="Liberation Sans" font-size="7.5" fill="#1a1aee" font-weight="bold" font-style="normal" text-anchor="start" >5</text>
<text x="237.5" y="300" font-family="Liberation Sans" font-size="7.5" fill="#231f20" font-weight="bold" font-style="normal" text-anchor="start" >5</text>
<path d="M562.1,415.2 L582.1,415.2 L599.5,414.5 L620,409 L633.2,402.5 L635.6,388 L627.2,366.3 L616.3,342.3 L599.5,323" fill="none" stroke="#27b8d2" stroke-width="1.1" stroke-linejoin="round"/>
<path d="M562.1,412.45 L564.85,415.2 L562.1,417.95 L559.35,415.2 Z" fill="#fff" stroke="#27b8d2" stroke-width="0.9"/>
<path d="M582.1,412.45 L584.85,415.2 L582.1,417.95 L579.35,415.2 Z" fill="#fff" stroke="#27b8d2" stroke-width="0.9"/>
<path d="M599.5,411.75 L602.25,414.5 L599.5,417.25 L596.75,414.5 Z" fill="#fff" stroke="#27b8d2" stroke-width="0.9"/>
<path d="M620,406.25 L622.75,409 L620,411.75 L617.25,409 Z" fill="#fff" stroke="#27b8d2" stroke-width="0.9"/>
<path d="M633.2,399.75 L635.95,402.5 L633.2,405.25 L630.45,402.5 Z" fill="#fff" stroke="#27b8d2" stroke-width="0.9"/>
<path d="M635.6,385.25 L638.35,388 L635.6,390.75 L632.85,388 Z" fill="#fff" stroke="#27b8d2" stroke-width="0.9"/>
<path d="M627.2,363.55 L629.95,366.3 L627.2,369.05 L624.45,366.3 Z" fill="#fff" stroke="#27b8d2" stroke-width="0.9"/>
<path d="M616.3,339.55 L619.05,342.3 L616.3,345.05 L613.55,342.3 Z" fill="#fff" stroke="#27b8d2" stroke-width="0.9"/>
<path d="M599.5,320.25 L602.25,323 L599.5,325.75 L596.75,323 Z" fill="#fff" stroke="#27b8d2" stroke-width="0.9"/>
<path d="M595,413.5 L615,408 L630,403 L644,395.2 L635.6,373.6 L626,351.9 L611.5,328.5 L597.1,318.2" fill="none" stroke="#3aa935" stroke-width="1.1" stroke-linejoin="round"/>
<path d="M595,410.75 L597.75,413.5 L595,416.25 L592.25,413.5 Z" fill="#fff" stroke="#3aa935" stroke-width="0.9"/>
<path d="M615,405.25 L617.75,408 L615,410.75 L612.25,408 Z" fill="#fff" stroke="#3aa935" stroke-width="0.9"/>
<path d="M630,400.25 L632.75,403 L630,405.75 L627.25,403 Z" fill="#fff" stroke="#3aa935" stroke-width="0.9"/>
<path d="M644,392.45 L646.75,395.2 L644,397.95 L641.25,395.2 Z" fill="#fff" stroke="#3aa935" stroke-width="0.9"/>
<path d="M635.6,370.85 L638.35,373.6 L635.6,376.35 L632.85,373.6 Z" fill="#fff" stroke="#3aa935" stroke-width="0.9"/>
<path d="M626,349.15 L628.75,351.9 L626,354.65 L623.25,351.9 Z" fill="#fff" stroke="#3aa935" stroke-width="0.9"/>
<path d="M611.5,325.75 L614.25,328.5 L611.5,331.25 L608.75,328.5 Z" fill="#fff" stroke="#3aa935" stroke-width="0.9"/>
<path d="M597.1,315.45 L599.85,318.2 L597.1,320.95 L594.35,318.2 Z" fill="#fff" stroke="#3aa935" stroke-width="0.9"/>
<path d="M600,414 L621.2,408 L633.2,402.5 L628.4,382 L620,359.1 L609.1,336.2 L601.9,324.2" fill="none" stroke="#2e74b5" stroke-width="1.1" stroke-linejoin="round"/>
<path d="M600,411.14 L602.72,415.72 L597.28,415.72 Z" fill="#fff" stroke="#2e74b5" stroke-width="0.9"/>
<path d="M621.2,405.14 L623.92,409.72 L618.48,409.72 Z" fill="#fff" stroke="#2e74b5" stroke-width="0.9"/>
<path d="M633.2,399.64 L635.92,404.22 L630.48,404.22 Z" fill="#fff" stroke="#2e74b5" stroke-width="0.9"/>
<path d="M628.4,379.14 L631.12,383.72 L625.68,383.72 Z" fill="#fff" stroke="#2e74b5" stroke-width="0.9"/>
<path d="M620,356.24 L622.72,360.82 L617.28,360.82 Z" fill="#fff" stroke="#2e74b5" stroke-width="0.9"/>
<path d="M609.1,333.34 L611.82,337.92 L606.38,337.92 Z" fill="#fff" stroke="#2e74b5" stroke-width="0.9"/>
<path d="M601.9,321.34 L604.62,325.92 L599.18,325.92 Z" fill="#fff" stroke="#2e74b5" stroke-width="0.9"/>
<path d="M598,413 L612,410 L621.2,407.3 L626,397.6 L620,373.6 L612.7,351.9 L604.3,333.1 L597.1,318.2" fill="none" stroke="#9364c2" stroke-width="1.1" stroke-linejoin="round"/>
<path d="M598,410.03 L598.78,411.93 L600.82,412.08 L599.26,413.41 L599.75,415.4 L598,414.32 L596.25,415.4 L596.74,413.41 L595.18,412.08 L597.22,411.93Z" fill="#fff" stroke="#9364c2" stroke-width="0.81"/>
<path d="M612,407.03 L612.78,408.93 L614.82,409.08 L613.26,410.41 L613.75,412.4 L612,411.32 L610.25,412.4 L610.74,410.41 L609.18,409.08 L611.22,408.93Z" fill="#fff" stroke="#9364c2" stroke-width="0.81"/>
<path d="M621.2,404.33 L621.98,406.23 L624.02,406.38 L622.46,407.71 L622.95,409.7 L621.2,408.62 L619.45,409.7 L619.94,407.71 L618.38,406.38 L620.42,406.23Z" fill="#fff" stroke="#9364c2" stroke-width="0.81"/>
<path d="M626,394.63 L626.78,396.53 L628.82,396.68 L627.26,398.01 L627.75,400 L626,398.92 L624.25,400 L624.74,398.01 L623.18,396.68 L625.22,396.53Z" fill="#fff" stroke="#9364c2" stroke-width="0.81"/>
<path d="M620,370.63 L620.78,372.53 L622.82,372.68 L621.26,374.01 L621.75,376 L620,374.92 L618.25,376 L618.74,374.01 L617.18,372.68 L619.22,372.53Z" fill="#fff" stroke="#9364c2" stroke-width="0.81"/>
<path d="M612.7,348.93 L613.48,350.83 L615.52,350.98 L613.96,352.31 L614.45,354.3 L612.7,353.22 L610.95,354.3 L611.44,352.31 L609.88,350.98 L611.92,350.83Z" fill="#fff" stroke="#9364c2" stroke-width="0.81"/>
<path d="M604.3,330.13 L605.08,332.03 L607.12,332.18 L605.56,333.51 L606.05,335.5 L604.3,334.42 L602.55,335.5 L603.04,333.51 L601.48,332.18 L603.52,332.03Z" fill="#fff" stroke="#9364c2" stroke-width="0.81"/>
<path d="M597.1,315.23 L597.88,317.13 L599.92,317.28 L598.36,318.61 L598.85,320.6 L597.1,319.52 L595.35,320.6 L595.84,318.61 L594.28,317.28 L596.32,317.13Z" fill="#fff" stroke="#9364c2" stroke-width="0.81"/>
<path d="M597,413 L620,408 L633.2,404.9 L646.4,398.9 L657.3,392.8 L652.5,373.6 L635.6,347.8 L612.7,321.8" fill="none" stroke="#fdd20e" stroke-width="1.1" stroke-linejoin="round"/>
<rect x="594.8" y="410.8" width="4.4" height="4.4" fill="#fff" stroke="#fdd20e" stroke-width="0.9"/>
<rect x="617.8" y="405.8" width="4.4" height="4.4" fill="#fff" stroke="#fdd20e" stroke-width="0.9"/>
<rect x="631" y="402.7" width="4.4" height="4.4" fill="#fff" stroke="#fdd20e" stroke-width="0.9"/>
<rect x="644.2" y="396.7" width="4.4" height="4.4" fill="#fff" stroke="#fdd20e" stroke-width="0.9"/>
<rect x="655.1" y="390.6" width="4.4" height="4.4" fill="#fff" stroke="#fdd20e" stroke-width="0.9"/>
<rect x="650.3" y="371.4" width="4.4" height="4.4" fill="#fff" stroke="#fdd20e" stroke-width="0.9"/>
<rect x="633.4" y="345.6" width="4.4" height="4.4" fill="#fff" stroke="#fdd20e" stroke-width="0.9"/>
<rect x="610.5" y="319.6" width="4.4" height="4.4" fill="#fff" stroke="#fdd20e" stroke-width="0.9"/>
<path d="M597,412.5 L615,410.5 L632,406 L645.2,400 L654.9,395.2 L663.3,389.7 L655.4,362 L639.2,339.1" fill="none" stroke="#f7901e" stroke-width="1.1" stroke-linejoin="round"/>
<rect x="594.8" y="410.3" width="4.4" height="4.4" fill="#fff" stroke="#f7901e" stroke-width="0.9"/>
<rect x="612.8" y="408.3" width="4.4" height="4.4" fill="#fff" stroke="#f7901e" stroke-width="0.9"/>
<rect x="629.8" y="403.8" width="4.4" height="4.4" fill="#fff" stroke="#f7901e" stroke-width="0.9"/>
<rect x="643" y="397.8" width="4.4" height="4.4" fill="#fff" stroke="#f7901e" stroke-width="0.9"/>
<rect x="652.7" y="393" width="4.4" height="4.4" fill="#fff" stroke="#f7901e" stroke-width="0.9"/>
<rect x="661.1" y="387.5" width="4.4" height="4.4" fill="#fff" stroke="#f7901e" stroke-width="0.9"/>
<rect x="653.2" y="359.8" width="4.4" height="4.4" fill="#fff" stroke="#f7901e" stroke-width="0.9"/>
<rect x="637" y="336.9" width="4.4" height="4.4" fill="#fff" stroke="#f7901e" stroke-width="0.9"/>
<path d="M599.5,412.1 L611.5,410.9 L626,409.7 L638,407.3 L650,400 L660,392.5 L667.4,387.5 L680.2,378.4 L654.4,349" fill="none" stroke="#d6263b" stroke-width="1.1" stroke-linejoin="round"/>
<circle cx="599.5" cy="412.1" r="2.2" fill="#fff" stroke="#d6263b" stroke-width="0.9"/>
<circle cx="611.5" cy="410.9" r="2.2" fill="#fff" stroke="#d6263b" stroke-width="0.9"/>
<circle cx="626" cy="409.7" r="2.2" fill="#fff" stroke="#d6263b" stroke-width="0.9"/>
<circle cx="638" cy="407.3" r="2.2" fill="#fff" stroke="#d6263b" stroke-width="0.9"/>
<circle cx="650" cy="400" r="2.2" fill="#fff" stroke="#d6263b" stroke-width="0.9"/>
<circle cx="660" cy="392.5" r="2.2" fill="#fff" stroke="#d6263b" stroke-width="0.9"/>
<circle cx="667.4" cy="387.5" r="2.2" fill="#fff" stroke="#d6263b" stroke-width="0.9"/>
<circle cx="680.2" cy="378.4" r="2.2" fill="#fff" stroke="#d6263b" stroke-width="0.9"/>
<circle cx="654.4" cy="349" r="2.2" fill="#fff" stroke="#d6263b" stroke-width="0.9"/>
<text x="651" y="345" font-family="Liberation Sans" font-size="7.5" fill="#d6263b" font-weight="bold" font-style="normal" text-anchor="start" >5</text>
<text x="668" y="396" font-family="Liberation Sans" font-size="7.5" fill="#d6263b" font-weight="bold" font-style="normal" text-anchor="start" >15</text>
<text x="611" y="320" font-family="Liberation Sans" font-size="7.5" fill="#fdd20e" font-weight="bold" font-style="normal" text-anchor="start" >5</text>
<text x="645" y="374" font-family="Liberation Sans" font-size="7.5" fill="#fdd20e" font-weight="bold" font-style="normal" text-anchor="start" >15</text>
<text x="648" y="404" font-family="Liberation Sans" font-size="7.5" fill="#fdd20e" font-weight="bold" font-style="normal" text-anchor="start" >25</text>
<text x="596" y="337" font-family="Liberation Sans" font-size="7.5" fill="#9364c2" font-weight="bold" font-style="normal" text-anchor="start" >15</text>
<text x="609" y="377.5" font-family="Liberation Sans" font-size="7.5" fill="#9364c2" font-weight="bold" font-style="normal" text-anchor="start" >25</text>
<text x="610" y="409" font-family="Liberation Sans" font-size="7.5" fill="#9364c2" font-weight="bold" font-style="normal" text-anchor="start" >35</text>
<text x="617" y="345" font-family="Liberation Sans" font-size="7.5" fill="#27b8d2" font-weight="bold" font-style="normal" text-anchor="start" >15</text>
<text x="624" y="349" font-family="Liberation Sans" font-size="7.5" fill="#3aa935" font-weight="bold" font-style="normal" text-anchor="start" >5</text>
<text x="639" y="396" font-family="Liberation Sans" font-size="7.5" fill="#3aa935" font-weight="bold" font-style="normal" text-anchor="start" >25</text>
<text x="618" y="418.5" font-family="Liberation Sans" font-size="7.5" fill="#2a8f5a" font-weight="bold" font-style="normal" text-anchor="start" >35</text>
<text x="643" y="391" font-family="Liberation Sans" font-size="7.5" fill="#27b8d2" font-weight="bold" font-style="normal" text-anchor="start" >25</text>
<path d="M94.6,628.3 L118,605 L140,591 L156.2,578.8 L180,575 L205,572 L233.7,579.9 L257,584 L280.4,586.9 L310.8,590.9" fill="none" stroke="#3aa935" stroke-width="1.1" stroke-linejoin="round"/>
<path d="M94.6,625.55 L97.35,628.3 L94.6,631.05 L91.85,628.3 Z" fill="#fff" stroke="#3aa935" stroke-width="0.9"/>
<path d="M118,602.25 L120.75,605 L118,607.75 L115.25,605 Z" fill="#fff" stroke="#3aa935" stroke-width="0.9"/>
<path d="M140,588.25 L142.75,591 L140,593.75 L137.25,591 Z" fill="#fff" stroke="#3aa935" stroke-width="0.9"/>
<path d="M156.2,576.05 L158.95,578.8 L156.2,581.55 L153.45,578.8 Z" fill="#fff" stroke="#3aa935" stroke-width="0.9"/>
<path d="M180,572.25 L182.75,575 L180,577.75 L177.25,575 Z" fill="#fff" stroke="#3aa935" stroke-width="0.9"/>
<path d="M205,569.25 L207.75,572 L205,574.75 L202.25,572 Z" fill="#fff" stroke="#3aa935" stroke-width="0.9"/>
<path d="M233.7,577.15 L236.45,579.9 L233.7,582.65 L230.95,579.9 Z" fill="#fff" stroke="#3aa935" stroke-width="0.9"/>
<path d="M257,581.25 L259.75,584 L257,586.75 L254.25,584 Z" fill="#fff" stroke="#3aa935" stroke-width="0.9"/>
<path d="M280.4,584.15 L283.15,586.9 L280.4,589.65 L277.65,586.9 Z" fill="#fff" stroke="#3aa935" stroke-width="0.9"/>
<path d="M310.8,588.15 L313.55,590.9 L310.8,593.65 L308.05,590.9 Z" fill="#fff" stroke="#3aa935" stroke-width="0.9"/>
<path d="M94.6,628.3 L120,602 L140,590 L165,575.9 L184.7,571.5 L199.9,566 L220,568 L245,575 L268.8,583.4 L299.1,589.3" fill="none" stroke="#27b8d2" stroke-width="1.1" stroke-linejoin="round"/>
<path d="M94.6,625.55 L97.35,628.3 L94.6,631.05 L91.85,628.3 Z" fill="#fff" stroke="#27b8d2" stroke-width="0.9"/>
<path d="M120,599.25 L122.75,602 L120,604.75 L117.25,602 Z" fill="#fff" stroke="#27b8d2" stroke-width="0.9"/>
<path d="M140,587.25 L142.75,590 L140,592.75 L137.25,590 Z" fill="#fff" stroke="#27b8d2" stroke-width="0.9"/>
<path d="M165,573.15 L167.75,575.9 L165,578.65 L162.25,575.9 Z" fill="#fff" stroke="#27b8d2" stroke-width="0.9"/>
<path d="M184.7,568.75 L187.45,571.5 L184.7,574.25 L181.95,571.5 Z" fill="#fff" stroke="#27b8d2" stroke-width="0.9"/>
<path d="M199.9,563.25 L202.65,566 L199.9,568.75 L197.15,566 Z" fill="#fff" stroke="#27b8d2" stroke-width="0.9"/>
<path d="M220,565.25 L222.75,568 L220,570.75 L217.25,568 Z" fill="#fff" stroke="#27b8d2" stroke-width="0.9"/>
<path d="M245,572.25 L247.75,575 L245,577.75 L242.25,575 Z" fill="#fff" stroke="#27b8d2" stroke-width="0.9"/>
<path d="M268.8,580.65 L271.55,583.4 L268.8,586.15 L266.05,583.4 Z" fill="#fff" stroke="#27b8d2" stroke-width="0.9"/>
<path d="M299.1,586.55 L301.85,589.3 L299.1,592.05 L296.35,589.3 Z" fill="#fff" stroke="#27b8d2" stroke-width="0.9"/>
<path d="M94.6,628.3 L118,604 L140.1,589 L170.8,573 L187.6,569.3 L216.2,569.4 L244.2,576.9" fill="none" stroke="#2e74b5" stroke-width="1.1" stroke-linejoin="round"/>
<path d="M94.6,625.44 L97.32,630.02 L91.88,630.02 Z" fill="#fff" stroke="#2e74b5" stroke-width="0.9"/>
<path d="M118,601.14 L120.72,605.72 L115.28,605.72 Z" fill="#fff" stroke="#2e74b5" stroke-width="0.9"/>
<path d="M140.1,586.14 L142.82,590.72 L137.38,590.72 Z" fill="#fff" stroke="#2e74b5" stroke-width="0.9"/>
<path d="M170.8,570.14 L173.52,574.72 L168.08,574.72 Z" fill="#fff" stroke="#2e74b5" stroke-width="0.9"/>
<path d="M187.6,566.44 L190.32,571.02 L184.88,571.02 Z" fill="#fff" stroke="#2e74b5" stroke-width="0.9"/>
<path d="M216.2,566.54 L218.92,571.12 L213.48,571.12 Z" fill="#fff" stroke="#2e74b5" stroke-width="0.9"/>
<path d="M244.2,574.04 L246.92,578.62 L241.48,578.62 Z" fill="#fff" stroke="#2e74b5" stroke-width="0.9"/>
<path d="M94.6,628.3 L115.6,607.3 L134.3,594.9 L154,584.7 L175.9,575.9 L192.8,571.8 L216,569 L233.7,572.9 L264.1,582.3" fill="none" stroke="#9364c2" stroke-width="1.1" stroke-linejoin="round"/>
<path d="M94.6,625.33 L95.38,627.23 L97.42,627.38 L95.86,628.71 L96.35,630.7 L94.6,629.62 L92.85,630.7 L93.34,628.71 L91.78,627.38 L93.82,627.23Z" fill="#fff" stroke="#9364c2" stroke-width="0.81"/>
<path d="M115.6,604.33 L116.38,606.23 L118.42,606.38 L116.86,607.71 L117.35,609.7 L115.6,608.62 L113.85,609.7 L114.34,607.71 L112.78,606.38 L114.82,606.23Z" fill="#fff" stroke="#9364c2" stroke-width="0.81"/>
<path d="M134.3,591.93 L135.08,593.83 L137.12,593.98 L135.56,595.31 L136.05,597.3 L134.3,596.22 L132.55,597.3 L133.04,595.31 L131.48,593.98 L133.52,593.83Z" fill="#fff" stroke="#9364c2" stroke-width="0.81"/>
<path d="M154,581.73 L154.78,583.63 L156.82,583.78 L155.26,585.11 L155.75,587.1 L154,586.02 L152.25,587.1 L152.74,585.11 L151.18,583.78 L153.22,583.63Z" fill="#fff" stroke="#9364c2" stroke-width="0.81"/>
<path d="M175.9,572.93 L176.68,574.83 L178.72,574.98 L177.16,576.31 L177.65,578.3 L175.9,577.22 L174.15,578.3 L174.64,576.31 L173.08,574.98 L175.12,574.83Z" fill="#fff" stroke="#9364c2" stroke-width="0.81"/>
<path d="M192.8,568.83 L193.58,570.73 L195.62,570.88 L194.06,572.21 L194.55,574.2 L192.8,573.12 L191.05,574.2 L191.54,572.21 L189.98,570.88 L192.02,570.73Z" fill="#fff" stroke="#9364c2" stroke-width="0.81"/>
<path d="M216,566.03 L216.78,567.93 L218.82,568.08 L217.26,569.41 L217.75,571.4 L216,570.32 L214.25,571.4 L214.74,569.41 L213.18,568.08 L215.22,567.93Z" fill="#fff" stroke="#9364c2" stroke-width="0.81"/>
<path d="M233.7,569.93 L234.48,571.83 L236.52,571.98 L234.96,573.31 L235.45,575.3 L233.7,574.22 L231.95,575.3 L232.44,573.31 L230.88,571.98 L232.92,571.83Z" fill="#fff" stroke="#9364c2" stroke-width="0.81"/>
<path d="M264.1,579.33 L264.88,581.23 L266.92,581.38 L265.36,582.71 L265.85,584.7 L264.1,583.62 L262.35,584.7 L262.84,582.71 L261.28,581.38 L263.32,581.23Z" fill="#fff" stroke="#9364c2" stroke-width="0.81"/>
<path d="M170,582.5 L190.5,578.8 L210.4,582.3 L237.2,590.9 L265,593 L296.8,594.4 L310,594.8 L320.2,595.1 L330,595.5" fill="none" stroke="#fdd20e" stroke-width="1.1" stroke-linejoin="round"/>
<rect x="167.8" y="580.3" width="4.4" height="4.4" fill="#fff" stroke="#fdd20e" stroke-width="0.9"/>
<rect x="188.3" y="576.6" width="4.4" height="4.4" fill="#fff" stroke="#fdd20e" stroke-width="0.9"/>
<rect x="208.2" y="580.1" width="4.4" height="4.4" fill="#fff" stroke="#fdd20e" stroke-width="0.9"/>
<rect x="235" y="588.7" width="4.4" height="4.4" fill="#fff" stroke="#fdd20e" stroke-width="0.9"/>
<rect x="262.8" y="590.8" width="4.4" height="4.4" fill="#fff" stroke="#fdd20e" stroke-width="0.9"/>
<rect x="294.6" y="592.2" width="4.4" height="4.4" fill="#fff" stroke="#fdd20e" stroke-width="0.9"/>
<rect x="307.8" y="592.6" width="4.4" height="4.4" fill="#fff" stroke="#fdd20e" stroke-width="0.9"/>
<rect x="318" y="592.9" width="4.4" height="4.4" fill="#fff" stroke="#fdd20e" stroke-width="0.9"/>
<rect x="327.8" y="593.3" width="4.4" height="4.4" fill="#fff" stroke="#fdd20e" stroke-width="0.9"/>
<path d="M182.5,583.2 L204.5,585.8 L235.4,594 L272.3,599.1 L306.1,598.2 L320,598.4 L331.8,598.6" fill="none" stroke="#f7901e" stroke-width="1.1" stroke-linejoin="round"/>
<rect x="180.3" y="581" width="4.4" height="4.4" fill="#fff" stroke="#f7901e" stroke-width="0.9"/>
<rect x="202.3" y="583.6" width="4.4" height="4.4" fill="#fff" stroke="#f7901e" stroke-width="0.9"/>
<rect x="233.2" y="591.8" width="4.4" height="4.4" fill="#fff" stroke="#f7901e" stroke-width="0.9"/>
<rect x="270.1" y="596.9" width="4.4" height="4.4" fill="#fff" stroke="#f7901e" stroke-width="0.9"/>
<rect x="303.9" y="596" width="4.4" height="4.4" fill="#fff" stroke="#f7901e" stroke-width="0.9"/>
<rect x="317.8" y="596.2" width="4.4" height="4.4" fill="#fff" stroke="#f7901e" stroke-width="0.9"/>
<rect x="329.6" y="596.4" width="4.4" height="4.4" fill="#fff" stroke="#f7901e" stroke-width="0.9"/>
<path d="M210.4,597.5 L252.4,604.5 L299.6,608.4 L338.8,605.6" fill="none" stroke="#d6263b" stroke-width="1.1" stroke-linejoin="round"/>
<circle cx="210.4" cy="597.5" r="2.2" fill="#fff" stroke="#d6263b" stroke-width="0.9"/>
<circle cx="252.4" cy="604.5" r="2.2" fill="#fff" stroke="#d6263b" stroke-width="0.9"/>
<circle cx="299.6" cy="608.4" r="2.2" fill="#fff" stroke="#d6263b" stroke-width="0.9"/>
<circle cx="338.8" cy="605.6" r="2.2" fill="#fff" stroke="#d6263b" stroke-width="0.9"/>
<text x="88" y="625" font-family="Liberation Sans" font-size="7.5" fill="#231f20" font-weight="bold" font-style="normal" text-anchor="start" >5</text>
<text x="136.5" y="587" font-family="Liberation Sans" font-size="7.5" fill="#2e74b5" font-weight="bold" font-style="normal" text-anchor="start" >15</text>
<text x="134" y="603" font-family="Liberation Sans" font-size="7.5" fill="#9364c2" font-weight="bold" font-style="normal" text-anchor="start" >15</text>
<text x="163" y="571" font-family="Liberation Sans" font-size="7.5" fill="#27b8d2" font-weight="bold" font-style="normal" text-anchor="start" >15</text>
<text x="183.5" y="566" font-family="Liberation Sans" font-size="7.5" fill="#2e74b5" font-weight="bold" font-style="normal" text-anchor="start" >25</text>
<text x="194" y="565" font-family="Liberation Sans" font-size="7.5" fill="#27b8d2" font-weight="bold" font-style="normal" text-anchor="start" >25</text>
<text x="212" y="565" font-family="Liberation Sans" font-size="7.5" fill="#2e74b5" font-weight="bold" font-style="normal" text-anchor="start" >35</text>
<text x="241" y="573" font-family="Liberation Sans" font-size="7.5" fill="#2e74b5" font-weight="bold" font-style="normal" text-anchor="start" >45</text>
<text x="246.5" y="577" font-family="Liberation Sans" font-size="7.5" fill="#9364c2" font-weight="bold" font-style="normal" text-anchor="start" >45</text>
<text x="270" y="581" font-family="Liberation Sans" font-size="7.5" fill="#27b8d2" font-weight="bold" font-style="normal" text-anchor="start" >45</text>
<text x="254" y="591.5" font-family="Liberation Sans" font-size="7.5" fill="#3aa935" font-weight="bold" font-style="normal" text-anchor="start" >35</text>
<text x="168" y="590" font-family="Liberation Sans" font-size="7.5" fill="#fdd20e" font-weight="bold" font-style="normal" text-anchor="start" >5</text>
<text x="180" y="592" font-family="Liberation Sans" font-size="7.5" fill="#f7901e" font-weight="bold" font-style="normal" text-anchor="start" >5</text>
<text x="206" y="605" font-family="Liberation Sans" font-size="7.5" fill="#d6263b" font-weight="bold" font-style="normal" text-anchor="start" >5</text>
<text x="248" y="612" font-family="Liberation Sans" font-size="7.5" fill="#d6263b" font-weight="bold" font-style="normal" text-anchor="start" >10</text>
<text x="271" y="590.5" font-family="Liberation Sans" font-size="7.5" fill="#fdd20e" font-weight="bold" font-style="normal" text-anchor="start" >25</text>
<text x="231" y="601.5" font-family="Liberation Sans" font-size="7.5" fill="#f7901e" font-weight="bold" font-style="normal" text-anchor="start" >15</text>
<text x="302" y="603" font-family="Liberation Sans" font-size="7.5" fill="#f7901e" font-weight="bold" font-style="normal" text-anchor="start" >25</text>
<path d="M452.3,598.7 L466,582 L482.3,557.8 L501.3,538.4 L508.5,534.3 L511.5,536.3 L517.7,546.6 L529.9,553.7 L540.1,562.9 L552.4,570.1 L567.7,578.2" fill="none" stroke="#3aa935" stroke-width="0.9" stroke-linejoin="round"/>
<path d="M452.3,596.51 L454.49,598.7 L452.3,600.89 L450.11,598.7 Z" fill="#fff" stroke="#3aa935" stroke-width="0.9"/>
<path d="M466,579.81 L468.19,582 L466,584.19 L463.81,582 Z" fill="#fff" stroke="#3aa935" stroke-width="0.9"/>
<path d="M482.3,555.61 L484.49,557.8 L482.3,559.99 L480.11,557.8 Z" fill="#fff" stroke="#3aa935" stroke-width="0.9"/>
<path d="M501.3,536.21 L503.49,538.4 L501.3,540.59 L499.11,538.4 Z" fill="#fff" stroke="#3aa935" stroke-width="0.9"/>
<path d="M508.5,532.11 L510.69,534.3 L508.5,536.49 L506.31,534.3 Z" fill="#fff" stroke="#3aa935" stroke-width="0.9"/>
<path d="M511.5,534.11 L513.69,536.3 L511.5,538.49 L509.31,536.3 Z" fill="#fff" stroke="#3aa935" stroke-width="0.9"/>
<path d="M517.7,544.41 L519.89,546.6 L517.7,548.79 L515.51,546.6 Z" fill="#fff" stroke="#3aa935" stroke-width="0.9"/>
<path d="M529.9,551.51 L532.09,553.7 L529.9,555.89 L527.71,553.7 Z" fill="#fff" stroke="#3aa935" stroke-width="0.9"/>
<path d="M540.1,560.71 L542.29,562.9 L540.1,565.09 L537.91,562.9 Z" fill="#fff" stroke="#3aa935" stroke-width="0.9"/>
<path d="M552.4,567.91 L554.59,570.1 L552.4,572.29 L550.21,570.1 Z" fill="#fff" stroke="#3aa935" stroke-width="0.9"/>
<path d="M567.7,576.01 L569.89,578.2 L567.7,580.39 L565.51,578.2 Z" fill="#fff" stroke="#3aa935" stroke-width="0.9"/>
<path d="M452.3,598.7 L466.6,580.9 L485,562.9 L494.2,549.6 L507.4,540 L512.6,540 L517.7,546.6 L538.1,561.9 L553.4,571.1 L567.7,578.7" fill="none" stroke="#27b8d2" stroke-width="0.9" stroke-linejoin="round"/>
<path d="M452.3,596.51 L454.49,598.7 L452.3,600.89 L450.11,598.7 Z" fill="#fff" stroke="#27b8d2" stroke-width="0.9"/>
<path d="M466.6,578.71 L468.79,580.9 L466.6,583.09 L464.41,580.9 Z" fill="#fff" stroke="#27b8d2" stroke-width="0.9"/>
<path d="M485,560.71 L487.19,562.9 L485,565.09 L482.81,562.9 Z" fill="#fff" stroke="#27b8d2" stroke-width="0.9"/>
<path d="M494.2,547.41 L496.39,549.6 L494.2,551.79 L492.01,549.6 Z" fill="#fff" stroke="#27b8d2" stroke-width="0.9"/>
<path d="M507.4,537.81 L509.59,540 L507.4,542.19 L505.21,540 Z" fill="#fff" stroke="#27b8d2" stroke-width="0.9"/>
<path d="M512.6,537.81 L514.79,540 L512.6,542.19 L510.41,540 Z" fill="#fff" stroke="#27b8d2" stroke-width="0.9"/>
<path d="M517.7,544.41 L519.89,546.6 L517.7,548.79 L515.51,546.6 Z" fill="#fff" stroke="#27b8d2" stroke-width="0.9"/>
<path d="M538.1,559.71 L540.29,561.9 L538.1,564.09 L535.91,561.9 Z" fill="#fff" stroke="#27b8d2" stroke-width="0.9"/>
<path d="M553.4,568.91 L555.59,571.1 L553.4,573.29 L551.21,571.1 Z" fill="#fff" stroke="#27b8d2" stroke-width="0.9"/>
<path d="M567.7,576.51 L569.89,578.7 L567.7,580.89 L565.51,578.7 Z" fill="#fff" stroke="#27b8d2" stroke-width="0.9"/>
<path d="M452.3,598.7 L462.5,589.5 L485,562.9 L503.4,546.6 L512.6,543.5 L521.8,550.7 L538.1,562 L552,570 L566,578" fill="none" stroke="#2e74b5" stroke-width="0.9" stroke-linejoin="round"/>
<path d="M452.3,596.43 L454.46,600.07 L450.14,600.07 Z" fill="#fff" stroke="#2e74b5" stroke-width="0.9"/>
<path d="M462.5,587.23 L464.66,590.87 L460.34,590.87 Z" fill="#fff" stroke="#2e74b5" stroke-width="0.9"/>
<path d="M485,560.62 L487.16,564.26 L482.84,564.26 Z" fill="#fff" stroke="#2e74b5" stroke-width="0.9"/>
<path d="M503.4,544.33 L505.56,547.97 L501.24,547.97 Z" fill="#fff" stroke="#2e74b5" stroke-width="0.9"/>
<path d="M512.6,541.23 L514.76,544.87 L510.44,544.87 Z" fill="#fff" stroke="#2e74b5" stroke-width="0.9"/>
<path d="M521.8,548.43 L523.96,552.07 L519.64,552.07 Z" fill="#fff" stroke="#2e74b5" stroke-width="0.9"/>
<path d="M538.1,559.73 L540.26,563.37 L535.94,563.37 Z" fill="#fff" stroke="#2e74b5" stroke-width="0.9"/>
<path d="M552,567.73 L554.16,571.37 L549.84,571.37 Z" fill="#fff" stroke="#2e74b5" stroke-width="0.9"/>
<path d="M566,575.73 L568.16,579.37 L563.84,579.37 Z" fill="#fff" stroke="#2e74b5" stroke-width="0.9"/>
<path d="M452.3,598.7 L463.5,585.4 L476.8,574.2 L483.9,563.9 L499.3,554.7 L507,549 L516.6,545.5 L527.9,555.8 L539.1,562.9 L553,571 L567.7,578.7" fill="none" stroke="#9364c2" stroke-width="0.9" stroke-linejoin="round"/>
<path d="M452.3,596.34 L452.92,597.85 L454.55,597.97 L453.3,599.02 L453.69,600.61 L452.3,599.75 L450.91,600.61 L451.3,599.02 L450.05,597.97 L451.68,597.85Z" fill="#fff" stroke="#9364c2" stroke-width="0.81"/>
<path d="M463.5,583.04 L464.12,584.55 L465.75,584.67 L464.5,585.72 L464.89,587.31 L463.5,586.45 L462.11,587.31 L462.5,585.72 L461.25,584.67 L462.88,584.55Z" fill="#fff" stroke="#9364c2" stroke-width="0.81"/>
<path d="M476.8,571.84 L477.42,573.35 L479.05,573.47 L477.8,574.52 L478.19,576.11 L476.8,575.25 L475.41,576.11 L475.8,574.52 L474.55,573.47 L476.18,573.35Z" fill="#fff" stroke="#9364c2" stroke-width="0.81"/>
<path d="M483.9,561.54 L484.52,563.05 L486.15,563.17 L484.9,564.22 L485.29,565.81 L483.9,564.95 L482.51,565.81 L482.9,564.22 L481.65,563.17 L483.28,563.05Z" fill="#fff" stroke="#9364c2" stroke-width="0.81"/>
<path d="M499.3,552.34 L499.92,553.85 L501.55,553.97 L500.3,555.02 L500.69,556.61 L499.3,555.75 L497.91,556.61 L498.3,555.02 L497.05,553.97 L498.68,553.85Z" fill="#fff" stroke="#9364c2" stroke-width="0.81"/>
<path d="M507,546.64 L507.62,548.15 L509.25,548.27 L508,549.32 L508.39,550.91 L507,550.05 L505.61,550.91 L506,549.32 L504.75,548.27 L506.38,548.15Z" fill="#fff" stroke="#9364c2" stroke-width="0.81"/>
<path d="M516.6,543.14 L517.22,544.65 L518.85,544.77 L517.6,545.82 L517.99,547.41 L516.6,546.55 L515.21,547.41 L515.6,545.82 L514.35,544.77 L515.98,544.65Z" fill="#fff" stroke="#9364c2" stroke-width="0.81"/>
<path d="M527.9,553.44 L528.52,554.95 L530.15,555.07 L528.9,556.12 L529.29,557.71 L527.9,556.85 L526.51,557.71 L526.9,556.12 L525.65,555.07 L527.28,554.95Z" fill="#fff" stroke="#9364c2" stroke-width="0.81"/>
<path d="M539.1,560.54 L539.72,562.05 L541.35,562.17 L540.1,563.22 L540.49,564.81 L539.1,563.95 L537.71,564.81 L538.1,563.22 L536.85,562.17 L538.48,562.05Z" fill="#fff" stroke="#9364c2" stroke-width="0.81"/>
<path d="M553,568.64 L553.62,570.15 L555.25,570.27 L554,571.32 L554.39,572.91 L553,572.05 L551.61,572.91 L552,571.32 L550.75,570.27 L552.38,570.15Z" fill="#fff" stroke="#9364c2" stroke-width="0.81"/>
<path d="M567.7,576.34 L568.32,577.85 L569.95,577.97 L568.7,579.02 L569.09,580.61 L567.7,579.75 L566.31,580.61 L566.7,579.02 L565.45,577.97 L567.08,577.85Z" fill="#fff" stroke="#9364c2" stroke-width="0.81"/>
<path d="M473.7,562.9 L477.8,562.9 L490,560 L505.4,555.8 L511,553 L521.8,548.6 L535,556 L550,568" fill="none" stroke="#fdd20e" stroke-width="0.9" stroke-linejoin="round"/>
<rect x="471.95" y="561.15" width="3.5" height="3.5" fill="#fff" stroke="#fdd20e" stroke-width="0.9"/>
<rect x="476.05" y="561.15" width="3.5" height="3.5" fill="#fff" stroke="#fdd20e" stroke-width="0.9"/>
<rect x="488.25" y="558.25" width="3.5" height="3.5" fill="#fff" stroke="#fdd20e" stroke-width="0.9"/>
<rect x="503.65" y="554.05" width="3.5" height="3.5" fill="#fff" stroke="#fdd20e" stroke-width="0.9"/>
<rect x="509.25" y="551.25" width="3.5" height="3.5" fill="#fff" stroke="#fdd20e" stroke-width="0.9"/>
<rect x="520.05" y="546.85" width="3.5" height="3.5" fill="#fff" stroke="#fdd20e" stroke-width="0.9"/>
<rect x="533.25" y="554.25" width="3.5" height="3.5" fill="#fff" stroke="#fdd20e" stroke-width="0.9"/>
<rect x="548.25" y="566.25" width="3.5" height="3.5" fill="#fff" stroke="#fdd20e" stroke-width="0.9"/>
<path d="M476.8,562.9 L498.2,562.9 L504.4,561.9 L510.5,559.9 L516.6,557.8 L521.8,552.7 L535,558 L550,568" fill="none" stroke="#f7901e" stroke-width="0.9" stroke-linejoin="round"/>
<rect x="475.05" y="561.15" width="3.5" height="3.5" fill="#fff" stroke="#f7901e" stroke-width="0.9"/>
<rect x="496.45" y="561.15" width="3.5" height="3.5" fill="#fff" stroke="#f7901e" stroke-width="0.9"/>
<rect x="502.65" y="560.15" width="3.5" height="3.5" fill="#fff" stroke="#f7901e" stroke-width="0.9"/>
<rect x="508.75" y="558.15" width="3.5" height="3.5" fill="#fff" stroke="#f7901e" stroke-width="0.9"/>
<rect x="514.85" y="556.05" width="3.5" height="3.5" fill="#fff" stroke="#f7901e" stroke-width="0.9"/>
<rect x="520.05" y="550.95" width="3.5" height="3.5" fill="#fff" stroke="#f7901e" stroke-width="0.9"/>
<rect x="533.25" y="556.25" width="3.5" height="3.5" fill="#fff" stroke="#f7901e" stroke-width="0.9"/>
<rect x="548.25" y="566.25" width="3.5" height="3.5" fill="#fff" stroke="#f7901e" stroke-width="0.9"/>
<path d="M491.1,573.1 L495.2,575.2 L498.2,578.2 L505.4,575.2 L512.6,572.7 L519.7,570.7 L527.9,568.4 L536.1,568 L543.2,567 L551.4,569" fill="none" stroke="#d6263b" stroke-width="0.9" stroke-linejoin="round"/>
<circle cx="491.1" cy="573.1" r="1.75" fill="#fff" stroke="#d6263b" stroke-width="0.9"/>
<circle cx="495.2" cy="575.2" r="1.75" fill="#fff" stroke="#d6263b" stroke-width="0.9"/>
<circle cx="498.2" cy="578.2" r="1.75" fill="#fff" stroke="#d6263b" stroke-width="0.9"/>
<circle cx="505.4" cy="575.2" r="1.75" fill="#fff" stroke="#d6263b" stroke-width="0.9"/>
<circle cx="512.6" cy="572.7" r="1.75" fill="#fff" stroke="#d6263b" stroke-width="0.9"/>
<circle cx="519.7" cy="570.7" r="1.75" fill="#fff" stroke="#d6263b" stroke-width="0.9"/>
<circle cx="527.9" cy="568.4" r="1.75" fill="#fff" stroke="#d6263b" stroke-width="0.9"/>
<circle cx="536.1" cy="568" r="1.75" fill="#fff" stroke="#d6263b" stroke-width="0.9"/>
<circle cx="543.2" cy="567" r="1.75" fill="#fff" stroke="#d6263b" stroke-width="0.9"/>
<circle cx="551.4" cy="569" r="1.75" fill="#fff" stroke="#d6263b" stroke-width="0.9"/>
<text x="455" y="605.5" font-family="Liberation Sans" font-size="7.5" fill="#231f20" font-weight="bold" font-style="normal" text-anchor="start" >5</text>
<text x="475" y="582" font-family="Liberation Sans" font-size="7.5" fill="#9364c2" font-weight="bold" font-style="normal" text-anchor="start" >15</text>
<text x="472" y="553" font-family="Liberation Sans" font-size="7.5" fill="#27b8d2" font-weight="bold" font-style="normal" text-anchor="start" >15</text>
<text x="494" y="536" font-family="Liberation Sans" font-size="7.5" fill="#3aa935" font-weight="bold" font-style="normal" text-anchor="start" >15</text>
<text x="511" y="533" font-family="Liberation Sans" font-size="7.5" fill="#3aa935" font-weight="bold" font-style="normal" text-anchor="start" >25</text>
<text x="514" y="541" font-family="Liberation Sans" font-size="7.5" fill="#27b8d2" font-weight="bold" font-style="normal" text-anchor="start" >25</text>
<text x="469" y="566" font-family="Liberation Sans" font-size="7.5" fill="#fdd20e" font-weight="bold" font-style="normal" text-anchor="start" >5</text>
<text x="485" y="571" font-family="Liberation Sans" font-size="7.5" fill="#d6263b" font-weight="bold" font-style="normal" text-anchor="start" >5</text>
<text x="493" y="585" font-family="Liberation Sans" font-size="7.5" fill="#d6263b" font-weight="bold" font-style="normal" text-anchor="start" >10</text>
<text x="500" y="569" font-family="Liberation Sans" font-size="7.5" fill="#f7901e" font-weight="bold" font-style="normal" text-anchor="start" >15</text>
<text x="512" y="564" font-family="Liberation Sans" font-size="7.5" fill="#f7901e" font-weight="bold" font-style="normal" text-anchor="start" >25</text>
<text x="525" y="562" font-family="Liberation Sans" font-size="7.5" fill="#9364c2" font-weight="bold" font-style="normal" text-anchor="start" >35</text>
<text x="530" y="554" font-family="Liberation Sans" font-size="7.5" fill="#3aa935" font-weight="bold" font-style="normal" text-anchor="start" >35</text>
<text x="505" y="553" font-family="Liberation Sans" font-size="7.5" fill="#fdd20e" font-weight="bold" font-style="normal" text-anchor="start" >25</text>
<path d="M180.5,831 L186,822 L191.5,814 L197,806 L202,799 L206,793" fill="none" stroke="#d6263b" stroke-width="0.9" stroke-linejoin="round"/>
<circle cx="180.5" cy="831" r="1.6" fill="#fff" stroke="#d6263b" stroke-width="0.9"/>
<circle cx="186" cy="822" r="1.6" fill="#fff" stroke="#d6263b" stroke-width="0.9"/>
<circle cx="191.5" cy="814" r="1.6" fill="#fff" stroke="#d6263b" stroke-width="0.9"/>
<circle cx="197" cy="806" r="1.6" fill="#fff" stroke="#d6263b" stroke-width="0.9"/>
<circle cx="202" cy="799" r="1.6" fill="#fff" stroke="#d6263b" stroke-width="0.9"/>
<circle cx="206" cy="793" r="1.6" fill="#fff" stroke="#d6263b" stroke-width="0.9"/>
<path d="M179.6,826.4 L190,814 L197,806 L204.5,800.8 L209,792 L213.9,783.7" fill="none" stroke="#fdd20e" stroke-width="0.9" stroke-linejoin="round"/>
<rect x="178" y="824.8" width="3.2" height="3.2" fill="#fff" stroke="#fdd20e" stroke-width="0.9"/>
<rect x="188.4" y="812.4" width="3.2" height="3.2" fill="#fff" stroke="#fdd20e" stroke-width="0.9"/>
<rect x="195.4" y="804.4" width="3.2" height="3.2" fill="#fff" stroke="#fdd20e" stroke-width="0.9"/>
<rect x="202.9" y="799.2" width="3.2" height="3.2" fill="#fff" stroke="#fdd20e" stroke-width="0.9"/>
<rect x="207.4" y="790.4" width="3.2" height="3.2" fill="#fff" stroke="#fdd20e" stroke-width="0.9"/>
<rect x="212.3" y="782.1" width="3.2" height="3.2" fill="#fff" stroke="#fdd20e" stroke-width="0.9"/>
<path d="M178.7,835.9 L183.5,826.5 L189,818.5 L194.5,810.5 L199.5,802.5 L204.5,794.5 L209.2,786.6" fill="none" stroke="#3aa935" stroke-width="0.9" stroke-linejoin="round"/>
<path d="M178.7,833.9 L180.7,835.9 L178.7,837.9 L176.7,835.9 Z" fill="#fff" stroke="#3aa935" stroke-width="0.9"/>
<path d="M183.5,824.5 L185.5,826.5 L183.5,828.5 L181.5,826.5 Z" fill="#fff" stroke="#3aa935" stroke-width="0.9"/>
<path d="M189,816.5 L191,818.5 L189,820.5 L187,818.5 Z" fill="#fff" stroke="#3aa935" stroke-width="0.9"/>
<path d="M194.5,808.5 L196.5,810.5 L194.5,812.5 L192.5,810.5 Z" fill="#fff" stroke="#3aa935" stroke-width="0.9"/>
<path d="M199.5,800.5 L201.5,802.5 L199.5,804.5 L197.5,802.5 Z" fill="#fff" stroke="#3aa935" stroke-width="0.9"/>
<path d="M204.5,792.5 L206.5,794.5 L204.5,796.5 L202.5,794.5 Z" fill="#fff" stroke="#3aa935" stroke-width="0.9"/>
<path d="M209.2,784.6 L211.2,786.6 L209.2,788.6 L207.2,786.6 Z" fill="#fff" stroke="#3aa935" stroke-width="0.9"/>
<path d="M180.8,822.6 L185.5,815 L189,810.5 L192.2,807.4 L196,802.5 L199.8,797.9 L203.6,794.2 L206.5,791.3" fill="none" stroke="#27b8d2" stroke-width="0.9" stroke-linejoin="round"/>
<path d="M180.8,820.6 L182.8,822.6 L180.8,824.6 L178.8,822.6 Z" fill="#fff" stroke="#27b8d2" stroke-width="0.9"/>
<path d="M185.5,813 L187.5,815 L185.5,817 L183.5,815 Z" fill="#fff" stroke="#27b8d2" stroke-width="0.9"/>
<path d="M189,808.5 L191,810.5 L189,812.5 L187,810.5 Z" fill="#fff" stroke="#27b8d2" stroke-width="0.9"/>
<path d="M192.2,805.4 L194.2,807.4 L192.2,809.4 L190.2,807.4 Z" fill="#fff" stroke="#27b8d2" stroke-width="0.9"/>
<path d="M196,800.5 L198,802.5 L196,804.5 L194,802.5 Z" fill="#fff" stroke="#27b8d2" stroke-width="0.9"/>
<path d="M199.8,795.9 L201.8,797.9 L199.8,799.9 L197.8,797.9 Z" fill="#fff" stroke="#27b8d2" stroke-width="0.9"/>
<path d="M203.6,792.2 L205.6,794.2 L203.6,796.2 L201.6,794.2 Z" fill="#fff" stroke="#27b8d2" stroke-width="0.9"/>
<path d="M206.5,789.3 L208.5,791.3 L206.5,793.3 L204.5,791.3 Z" fill="#fff" stroke="#27b8d2" stroke-width="0.9"/>
<path d="M182,824 L186.5,817.5 L191,811 L195.5,805 L200,799.5 L204.5,795" fill="none" stroke="#2e74b5" stroke-width="0.9" stroke-linejoin="round"/>
<path d="M182,821.92 L183.98,825.25 L180.02,825.25 Z" fill="#fff" stroke="#2e74b5" stroke-width="0.9"/>
<path d="M186.5,815.42 L188.48,818.75 L184.52,818.75 Z" fill="#fff" stroke="#2e74b5" stroke-width="0.9"/>
<path d="M191,808.92 L192.98,812.25 L189.02,812.25 Z" fill="#fff" stroke="#2e74b5" stroke-width="0.9"/>
<path d="M195.5,802.92 L197.48,806.25 L193.52,806.25 Z" fill="#fff" stroke="#2e74b5" stroke-width="0.9"/>
<path d="M200,797.42 L201.98,800.75 L198.02,800.75 Z" fill="#fff" stroke="#2e74b5" stroke-width="0.9"/>
<path d="M204.5,792.92 L206.48,796.25 L202.52,796.25 Z" fill="#fff" stroke="#2e74b5" stroke-width="0.9"/>
<path d="M178.7,835.9 L184.6,827.4 L189.3,820.8 L192.2,815 L195,808.4 L197,803.7 L199.5,812 L197.9,809.3" fill="none" stroke="#9364c2" stroke-width="0.9" stroke-linejoin="round"/>
<path d="M178.7,833.74 L179.26,835.12 L180.75,835.23 L179.61,836.2 L179.97,837.65 L178.7,836.86 L177.43,837.65 L177.79,836.2 L176.65,835.23 L178.14,835.12Z" fill="#fff" stroke="#9364c2" stroke-width="0.81"/>
<path d="M184.6,825.24 L185.16,826.62 L186.65,826.73 L185.51,827.7 L185.87,829.15 L184.6,828.36 L183.33,829.15 L183.69,827.7 L182.55,826.73 L184.04,826.62Z" fill="#fff" stroke="#9364c2" stroke-width="0.81"/>
<path d="M189.3,818.64 L189.86,820.02 L191.35,820.13 L190.21,821.1 L190.57,822.55 L189.3,821.76 L188.03,822.55 L188.39,821.1 L187.25,820.13 L188.74,820.02Z" fill="#fff" stroke="#9364c2" stroke-width="0.81"/>
<path d="M192.2,812.84 L192.76,814.22 L194.25,814.33 L193.11,815.3 L193.47,816.75 L192.2,815.96 L190.93,816.75 L191.29,815.3 L190.15,814.33 L191.64,814.22Z" fill="#fff" stroke="#9364c2" stroke-width="0.81"/>
<path d="M195,806.24 L195.56,807.62 L197.05,807.73 L195.91,808.7 L196.27,810.15 L195,809.36 L193.73,810.15 L194.09,808.7 L192.95,807.73 L194.44,807.62Z" fill="#fff" stroke="#9364c2" stroke-width="0.81"/>
<path d="M197,801.54 L197.56,802.92 L199.05,803.03 L197.91,804 L198.27,805.45 L197,804.66 L195.73,805.45 L196.09,804 L194.95,803.03 L196.44,802.92Z" fill="#fff" stroke="#9364c2" stroke-width="0.81"/>
<path d="M199.5,809.84 L200.06,811.22 L201.55,811.33 L200.41,812.3 L200.77,813.75 L199.5,812.96 L198.23,813.75 L198.59,812.3 L197.45,811.33 L198.94,811.22Z" fill="#fff" stroke="#9364c2" stroke-width="0.81"/>
<path d="M197.9,807.14 L198.46,808.52 L199.95,808.63 L198.81,809.6 L199.17,811.05 L197.9,810.26 L196.63,811.05 L196.99,809.6 L195.85,808.63 L197.34,808.52Z" fill="#fff" stroke="#9364c2" stroke-width="0.81"/>
<text x="167.7" y="830.6" font-family="Liberation Sans" font-size="7" fill="#231f20" font-weight="bold" font-style="normal" text-anchor="start" >50</text>
<text x="183.5" y="841" font-family="Liberation Sans" font-size="7" fill="#231f20" font-weight="bold" font-style="normal" text-anchor="start" >5</text>
<line x1="534" y1="764.8" x2="497.5" y2="804.2" stroke="#777" stroke-width="0.9"/>
<path d="M534,762.67 L536.12,764.8 L534,766.92 L531.88,764.8 Z" fill="#fff" stroke="#9364c2" stroke-width="0.9"/>
<path d="M507.8,790.5 L503,795 L499,799 L495,803" fill="none" stroke="#3aa935" stroke-width="0.8" stroke-linejoin="round"/>
<path d="M507.8,788.62 L509.68,790.5 L507.8,792.38 L505.93,790.5 Z" fill="#fff" stroke="#3aa935" stroke-width="0.9"/>
<path d="M503,793.12 L504.88,795 L503,796.88 L501.12,795 Z" fill="#fff" stroke="#3aa935" stroke-width="0.9"/>
<path d="M499,797.12 L500.88,799 L499,800.88 L497.12,799 Z" fill="#fff" stroke="#3aa935" stroke-width="0.9"/>
<path d="M495,801.12 L496.88,803 L495,804.88 L493.12,803 Z" fill="#fff" stroke="#3aa935" stroke-width="0.9"/>
<path d="M509,793 L505,797 L501,801 L497,805" fill="none" stroke="#27b8d2" stroke-width="0.8" stroke-linejoin="round"/>
<path d="M509,791.12 L510.88,793 L509,794.88 L507.12,793 Z" fill="#fff" stroke="#27b8d2" stroke-width="0.9"/>
<path d="M505,795.12 L506.88,797 L505,798.88 L503.12,797 Z" fill="#fff" stroke="#27b8d2" stroke-width="0.9"/>
<path d="M501,799.12 L502.88,801 L501,802.88 L499.12,801 Z" fill="#fff" stroke="#27b8d2" stroke-width="0.9"/>
<path d="M497,803.12 L498.88,805 L497,806.88 L495.12,805 Z" fill="#fff" stroke="#27b8d2" stroke-width="0.9"/>
<path d="M506,796 L502,800 L498,804 L494,807" fill="none" stroke="#9364c2" stroke-width="0.8" stroke-linejoin="round"/>
<path d="M506,793.98 L506.53,795.27 L507.93,795.37 L506.86,796.28 L507.19,797.64 L506,796.9 L504.81,797.64 L505.14,796.28 L504.07,795.37 L505.47,795.27Z" fill="#fff" stroke="#9364c2" stroke-width="0.81"/>
<path d="M502,797.98 L502.53,799.27 L503.93,799.37 L502.86,800.28 L503.19,801.64 L502,800.9 L500.81,801.64 L501.14,800.28 L500.07,799.37 L501.47,799.27Z" fill="#fff" stroke="#9364c2" stroke-width="0.81"/>
<path d="M498,801.98 L498.53,803.27 L499.93,803.37 L498.86,804.28 L499.19,805.64 L498,804.9 L496.81,805.64 L497.14,804.28 L496.07,803.37 L497.47,803.27Z" fill="#fff" stroke="#9364c2" stroke-width="0.81"/>
<path d="M494,804.98 L494.53,806.27 L495.93,806.37 L494.86,807.28 L495.19,808.64 L494,807.9 L492.81,808.64 L493.14,807.28 L492.07,806.37 L493.47,806.27Z" fill="#fff" stroke="#9364c2" stroke-width="0.81"/>
<path d="M494,806 L492,808" fill="none" stroke="#fdd20e" stroke-width="0.8" stroke-linejoin="round"/>
<rect x="492.5" y="804.5" width="3" height="3" fill="#fff" stroke="#fdd20e" stroke-width="0.9"/>
<rect x="490.5" y="806.5" width="3" height="3" fill="#fff" stroke="#fdd20e" stroke-width="0.9"/>
<path d="M493,809 L495,807" fill="none" stroke="#d6263b" stroke-width="0.8" stroke-linejoin="round"/>
<circle cx="493" cy="809" r="1.5" fill="#fff" stroke="#d6263b" stroke-width="0.9"/>
<circle cx="495" cy="807" r="1.5" fill="#fff" stroke="#d6263b" stroke-width="0.9"/>
<text x="537.5" y="762" font-family="Liberation Sans" font-size="7" fill="#231f20" font-weight="bold" font-style="normal" text-anchor="start" >5</text>
<text x="504" y="789.5" font-family="Liberation Sans" font-size="7" fill="#3aa935" font-weight="bold" font-style="normal" text-anchor="start" >15</text>
<text x="484.5" y="806" font-family="Liberation Sans" font-size="7" fill="#fdd20e" font-weight="bold" font-style="normal" text-anchor="start" >20</text>
<text x="484.5" y="815" font-family="Liberation Sans" font-size="7" fill="#d6263b" font-weight="bold" font-style="normal" text-anchor="start" >10</text>
<text x="493.5" y="817.5" font-family="Liberation Sans" font-size="7" fill="#b08ad0" font-weight="bold" font-style="normal" text-anchor="start" >10</text>
<text x="504" y="813.5" font-family="Liberation Sans" font-size="7" fill="#27b8d2" font-weight="bold" font-style="normal" text-anchor="start" >10</text>
<line x1="29" y1="244" x2="338.4" y2="244" stroke="#9a9a9a" stroke-width="1.2"/>
<line x1="338.4" y1="244" x2="338.4" y2="451.4" stroke="#666" stroke-width="1"/>
<line x1="29" y1="244" x2="29" y2="451.4" stroke="#b0b0b0" stroke-width="1.3"/>
<line x1="24.5" y1="451.4" x2="338.4" y2="451.4" stroke="#444" stroke-width="1"/>
<line x1="24.5" y1="430.67" x2="29" y2="430.67" stroke="#444" stroke-width="0.9"/>
<text x="22.8" y="433.56" font-family="Liberation Sans" font-size="8.2" fill="#2b2b2b" font-weight="normal" font-style="normal" text-anchor="end" >-50</text>
<line x1="26.8" y1="409.83" x2="29" y2="409.83" stroke="#444" stroke-width="0.9"/>
<line x1="24.5" y1="389" x2="29" y2="389" stroke="#444" stroke-width="0.9"/>
<text x="22.8" y="391.9" font-family="Liberation Sans" font-size="8.2" fill="#2b2b2b" font-weight="normal" font-style="normal" text-anchor="end" >0</text>
<line x1="26.8" y1="368.17" x2="29" y2="368.17" stroke="#444" stroke-width="0.9"/>
<line x1="24.5" y1="347.33" x2="29" y2="347.33" stroke="#444" stroke-width="0.9"/>
<text x="22.8" y="350.23" font-family="Liberation Sans" font-size="8.2" fill="#2b2b2b" font-weight="normal" font-style="normal" text-anchor="end" >50</text>
<line x1="26.8" y1="326.5" x2="29" y2="326.5" stroke="#444" stroke-width="0.9"/>
<line x1="24.5" y1="305.67" x2="29" y2="305.67" stroke="#444" stroke-width="0.9"/>
<text x="22.8" y="308.57" font-family="Liberation Sans" font-size="8.2" fill="#2b2b2b" font-weight="normal" font-style="normal" text-anchor="end" >100</text>
<line x1="26.8" y1="284.84" x2="29" y2="284.84" stroke="#444" stroke-width="0.9"/>
<line x1="24.5" y1="264" x2="29" y2="264" stroke="#444" stroke-width="0.9"/>
<text x="22.8" y="266.9" font-family="Liberation Sans" font-size="8.2" fill="#2b2b2b" font-weight="normal" font-style="normal" text-anchor="end" >150</text>
<line x1="29" y1="451.4" x2="29" y2="455.4" stroke="#444" stroke-width="0.9"/>
<text x="29" y="462.8" font-family="Liberation Sans" font-size="8.2" fill="#2b2b2b" font-weight="normal" font-style="normal" text-anchor="middle" >-5</text>
<line x1="51.1" y1="451.4" x2="51.1" y2="453.4" stroke="#444" stroke-width="0.9"/>
<line x1="73.2" y1="451.4" x2="73.2" y2="455.4" stroke="#444" stroke-width="0.9"/>
<text x="73.2" y="462.8" font-family="Liberation Sans" font-size="8.2" fill="#2b2b2b" font-weight="normal" font-style="normal" text-anchor="middle" >0</text>
<line x1="95.3" y1="451.4" x2="95.3" y2="453.4" stroke="#444" stroke-width="0.9"/>
<line x1="117.4" y1="451.4" x2="117.4" y2="455.4" stroke="#444" stroke-width="0.9"/>
<text x="117.4" y="462.8" font-family="Liberation Sans" font-size="8.2" fill="#2b2b2b" font-weight="normal" font-style="normal" text-anchor="middle" >5</text>
<line x1="139.5" y1="451.4" x2="139.5" y2="453.4" stroke="#444" stroke-width="0.9"/>
<line x1="161.6" y1="451.4" x2="161.6" y2="455.4" stroke="#444" stroke-width="0.9"/>
<text x="161.6" y="462.8" font-family="Liberation Sans" font-size="8.2" fill="#2b2b2b" font-weight="normal" font-style="normal" text-anchor="middle" >10</text>
<line x1="183.7" y1="451.4" x2="183.7" y2="453.4" stroke="#444" stroke-width="0.9"/>
<line x1="205.8" y1="451.4" x2="205.8" y2="455.4" stroke="#444" stroke-width="0.9"/>
<text x="205.8" y="462.8" font-family="Liberation Sans" font-size="8.2" fill="#2b2b2b" font-weight="normal" font-style="normal" text-anchor="middle" >15</text>
<line x1="227.9" y1="451.4" x2="227.9" y2="453.4" stroke="#444" stroke-width="0.9"/>
<line x1="250" y1="451.4" x2="250" y2="455.4" stroke="#444" stroke-width="0.9"/>
<text x="250" y="462.8" font-family="Liberation Sans" font-size="8.2" fill="#2b2b2b" font-weight="normal" font-style="normal" text-anchor="middle" >20</text>
<line x1="272.1" y1="451.4" x2="272.1" y2="453.4" stroke="#444" stroke-width="0.9"/>
<line x1="294.2" y1="451.4" x2="294.2" y2="455.4" stroke="#444" stroke-width="0.9"/>
<text x="294.2" y="462.8" font-family="Liberation Sans" font-size="8.2" fill="#2b2b2b" font-weight="normal" font-style="normal" text-anchor="middle" >25</text>
<line x1="316.3" y1="451.4" x2="316.3" y2="453.4" stroke="#444" stroke-width="0.9"/>
<line x1="338.4" y1="451.4" x2="338.4" y2="455.4" stroke="#444" stroke-width="0.9"/>
<text x="338.4" y="462.8" font-family="Liberation Sans" font-size="8.2" fill="#2b2b2b" font-weight="normal" font-style="normal" text-anchor="middle" >30</text>
<text x="179.5" y="466.2" font-family="Liberation Sans" font-size="10" fill="#231f20" font-weight="bold" font-style="italic" text-anchor="start" >λ<tspan font-size="5.5" dy="1.2">1</tspan></text>
<g transform="translate(7.4,347.5) rotate(-90)"><text x="0" y="0" font-family="Liberation Sans" font-size="10" fill="#231f20" font-weight="bold" font-style="italic" text-anchor="middle" >λ<tspan font-size="5.5" dy="1.2">2</tspan></text></g>
<rect x="29.3" y="435.5" width="15.6" height="15.6" fill="#fff" stroke="#4a3f3f" stroke-width="0.7"/><text x="37.1" y="449.2" font-family="Liberation Sans" font-size="15.5" fill="#231f20" font-weight="normal" font-style="normal" text-anchor="middle" >b</text>
<line x1="372.5" y1="244" x2="681.9" y2="244" stroke="#9a9a9a" stroke-width="1.2"/>
<line x1="681.9" y1="244" x2="681.9" y2="451.4" stroke="#555" stroke-width="1"/>
<line x1="372.5" y1="244" x2="372.5" y2="451.4" stroke="#555" stroke-width="1.3"/>
<line x1="368" y1="451.4" x2="681.9" y2="451.4" stroke="#444" stroke-width="1"/>
<line x1="368" y1="430.67" x2="372.5" y2="430.67" stroke="#444" stroke-width="0.9"/>
<text x="366.3" y="433.56" font-family="Liberation Sans" font-size="8.2" fill="#2b2b2b" font-weight="normal" font-style="normal" text-anchor="end" >-50</text>
<line x1="370.3" y1="409.83" x2="372.5" y2="409.83" stroke="#444" stroke-width="0.9"/>
<line x1="368" y1="389" x2="372.5" y2="389" stroke="#444" stroke-width="0.9"/>
<text x="366.3" y="391.9" font-family="Liberation Sans" font-size="8.2" fill="#2b2b2b" font-weight="normal" font-style="normal" text-anchor="end" >0</text>
<line x1="370.3" y1="368.17" x2="372.5" y2="368.17" stroke="#444" stroke-width="0.9"/>
<line x1="368" y1="347.33" x2="372.5" y2="347.33" stroke="#444" stroke-width="0.9"/>
<text x="366.3" y="350.23" font-family="Liberation Sans" font-size="8.2" fill="#2b2b2b" font-weight="normal" font-style="normal" text-anchor="end" >50</text>
<line x1="370.3" y1="326.5" x2="372.5" y2="326.5" stroke="#444" stroke-width="0.9"/>
<line x1="368" y1="305.67" x2="372.5" y2="305.67" stroke="#444" stroke-width="0.9"/>
<text x="366.3" y="308.57" font-family="Liberation Sans" font-size="8.2" fill="#2b2b2b" font-weight="normal" font-style="normal" text-anchor="end" >100</text>
<line x1="370.3" y1="284.84" x2="372.5" y2="284.84" stroke="#444" stroke-width="0.9"/>
<line x1="368" y1="264" x2="372.5" y2="264" stroke="#444" stroke-width="0.9"/>
<text x="366.3" y="266.9" font-family="Liberation Sans" font-size="8.2" fill="#2b2b2b" font-weight="normal" font-style="normal" text-anchor="end" >150</text>
<line x1="372.5" y1="451.4" x2="372.5" y2="455.4" stroke="#444" stroke-width="0.9"/>
<text x="372.5" y="462.8" font-family="Liberation Sans" font-size="8.2" fill="#2b2b2b" font-weight="normal" font-style="normal" text-anchor="middle" >-5</text>
<line x1="394.6" y1="451.4" x2="394.6" y2="453.4" stroke="#444" stroke-width="0.9"/>
<line x1="416.7" y1="451.4" x2="416.7" y2="455.4" stroke="#444" stroke-width="0.9"/>
<text x="416.7" y="462.8" font-family="Liberation Sans" font-size="8.2" fill="#2b2b2b" font-weight="normal" font-style="normal" text-anchor="middle" >0</text>
<line x1="438.8" y1="451.4" x2="438.8" y2="453.4" stroke="#444" stroke-width="0.9"/>
<line x1="460.9" y1="451.4" x2="460.9" y2="455.4" stroke="#444" stroke-width="0.9"/>
<text x="460.9" y="462.8" font-family="Liberation Sans" font-size="8.2" fill="#2b2b2b" font-weight="normal" font-style="normal" text-anchor="middle" >5</text>
<line x1="483" y1="451.4" x2="483" y2="453.4" stroke="#444" stroke-width="0.9"/>
<line x1="505.1" y1="451.4" x2="505.1" y2="455.4" stroke="#444" stroke-width="0.9"/>
<text x="505.1" y="462.8" font-family="Liberation Sans" font-size="8.2" fill="#2b2b2b" font-weight="normal" font-style="normal" text-anchor="middle" >10</text>
<line x1="527.2" y1="451.4" x2="527.2" y2="453.4" stroke="#444" stroke-width="0.9"/>
<line x1="549.3" y1="451.4" x2="549.3" y2="455.4" stroke="#444" stroke-width="0.9"/>
<text x="549.3" y="462.8" font-family="Liberation Sans" font-size="8.2" fill="#2b2b2b" font-weight="normal" font-style="normal" text-anchor="middle" >15</text>
<line x1="571.4" y1="451.4" x2="571.4" y2="453.4" stroke="#444" stroke-width="0.9"/>
<line x1="593.5" y1="451.4" x2="593.5" y2="455.4" stroke="#444" stroke-width="0.9"/>
<text x="593.5" y="462.8" font-family="Liberation Sans" font-size="8.2" fill="#2b2b2b" font-weight="normal" font-style="normal" text-anchor="middle" >20</text>
<line x1="615.6" y1="451.4" x2="615.6" y2="453.4" stroke="#444" stroke-width="0.9"/>
<line x1="637.7" y1="451.4" x2="637.7" y2="455.4" stroke="#444" stroke-width="0.9"/>
<text x="637.7" y="462.8" font-family="Liberation Sans" font-size="8.2" fill="#2b2b2b" font-weight="normal" font-style="normal" text-anchor="middle" >25</text>
<line x1="659.8" y1="451.4" x2="659.8" y2="453.4" stroke="#444" stroke-width="0.9"/>
<line x1="681.9" y1="451.4" x2="681.9" y2="455.4" stroke="#444" stroke-width="0.9"/>
<text x="681.9" y="462.8" font-family="Liberation Sans" font-size="8.2" fill="#2b2b2b" font-weight="normal" font-style="normal" text-anchor="middle" >30</text>
<text x="523" y="466.2" font-family="Liberation Sans" font-size="10" fill="#231f20" font-weight="bold" font-style="italic" text-anchor="start" >λ<tspan font-size="5.5" dy="1.2">1</tspan></text>
<g transform="translate(350.9,347.5) rotate(-90)"><text x="0" y="0" font-family="Liberation Sans" font-size="10" fill="#231f20" font-weight="bold" font-style="italic" text-anchor="middle" >λ<tspan font-size="5.5" dy="1.2">2</tspan></text></g>
<rect x="372.8" y="435.5" width="15.6" height="15.6" fill="#fff" stroke="#4a3f3f" stroke-width="0.7"/><text x="380.6" y="449.2" font-family="Liberation Sans" font-size="15.5" fill="#231f20" font-weight="normal" font-style="normal" text-anchor="middle" >f</text>
<line x1="29.2" y1="472.4" x2="338.4" y2="472.4" stroke="#444" stroke-width="1.2"/>
<line x1="338.4" y1="472.4" x2="338.4" y2="696.5" stroke="#666" stroke-width="1"/>
<line x1="29.2" y1="472.4" x2="29.2" y2="696.5" stroke="#aaa" stroke-width="1.3"/>
<line x1="24.7" y1="696.5" x2="338.4" y2="696.5" stroke="#444" stroke-width="1"/>
<line x1="24.7" y1="696.5" x2="29.2" y2="696.5" stroke="#444" stroke-width="0.9"/>
<text x="23.7" y="699.4" font-family="Liberation Sans" font-size="8.2" fill="#2b2b2b" font-weight="normal" font-style="normal" text-anchor="end" >50</text>
<line x1="26.9" y1="684.19" x2="29.2" y2="684.19" stroke="#444" stroke-width="0.9"/>
<line x1="26.9" y1="673.78" x2="29.2" y2="673.78" stroke="#444" stroke-width="0.9"/>
<line x1="26.9" y1="664.76" x2="29.2" y2="664.76" stroke="#444" stroke-width="0.9"/>
<line x1="26.9" y1="656.81" x2="29.2" y2="656.81" stroke="#444" stroke-width="0.9"/>
<line x1="24.7" y1="649.69" x2="29.2" y2="649.69" stroke="#444" stroke-width="0.9"/>
<text x="23.7" y="652.59" font-family="Liberation Sans" font-size="8.2" fill="#2b2b2b" font-weight="normal" font-style="normal" text-anchor="end" >100</text>
<line x1="26.9" y1="602.88" x2="29.2" y2="602.88" stroke="#444" stroke-width="0.9"/>
<line x1="26.9" y1="575.5" x2="29.2" y2="575.5" stroke="#444" stroke-width="0.9"/>
<line x1="26.9" y1="556.07" x2="29.2" y2="556.07" stroke="#444" stroke-width="0.9"/>
<line x1="24.7" y1="541" x2="29.2" y2="541" stroke="#444" stroke-width="0.9"/>
<text x="23.7" y="543.9" font-family="Liberation Sans" font-size="8.2" fill="#2b2b2b" font-weight="normal" font-style="normal" text-anchor="end" >500</text>
<line x1="26.9" y1="528.69" x2="29.2" y2="528.69" stroke="#444" stroke-width="0.9"/>
<line x1="26.9" y1="518.28" x2="29.2" y2="518.28" stroke="#444" stroke-width="0.9"/>
<line x1="26.9" y1="509.26" x2="29.2" y2="509.26" stroke="#444" stroke-width="0.9"/>
<line x1="26.9" y1="501.31" x2="29.2" y2="501.31" stroke="#444" stroke-width="0.9"/>
<line x1="24.7" y1="494.19" x2="29.2" y2="494.19" stroke="#444" stroke-width="0.9"/>
<text x="23.7" y="497.09" font-family="Liberation Sans" font-size="8.2" fill="#2b2b2b" font-weight="normal" font-style="normal" text-anchor="end" >1000</text>
<line x1="29.2" y1="696.5" x2="29.2" y2="700" stroke="#444" stroke-width="0.9"/>
<text x="29.2" y="707.3" font-family="Liberation Sans" font-size="8.2" fill="#2b2b2b" font-weight="normal" font-style="normal" text-anchor="middle" >0.5</text>
<line x1="41.43" y1="696.5" x2="41.43" y2="698.5" stroke="#444" stroke-width="0.9"/>
<line x1="51.78" y1="696.5" x2="51.78" y2="698.5" stroke="#444" stroke-width="0.9"/>
<line x1="60.74" y1="696.5" x2="60.74" y2="698.5" stroke="#444" stroke-width="0.9"/>
<line x1="68.64" y1="696.5" x2="68.64" y2="698.5" stroke="#444" stroke-width="0.9"/>
<line x1="75.71" y1="696.5" x2="75.71" y2="700" stroke="#444" stroke-width="0.9"/>
<text x="75.71" y="707.3" font-family="Liberation Sans" font-size="8.2" fill="#2b2b2b" font-weight="normal" font-style="normal" text-anchor="middle" >1</text>
<line x1="122.22" y1="696.5" x2="122.22" y2="698.5" stroke="#444" stroke-width="0.9"/>
<line x1="149.42" y1="696.5" x2="149.42" y2="698.5" stroke="#444" stroke-width="0.9"/>
<line x1="168.73" y1="696.5" x2="168.73" y2="698.5" stroke="#444" stroke-width="0.9"/>
<line x1="183.7" y1="696.5" x2="183.7" y2="698.5" stroke="#444" stroke-width="0.9"/>
<line x1="195.93" y1="696.5" x2="195.93" y2="698.5" stroke="#444" stroke-width="0.9"/>
<line x1="206.28" y1="696.5" x2="206.28" y2="698.5" stroke="#444" stroke-width="0.9"/>
<line x1="215.24" y1="696.5" x2="215.24" y2="698.5" stroke="#444" stroke-width="0.9"/>
<line x1="223.14" y1="696.5" x2="223.14" y2="698.5" stroke="#444" stroke-width="0.9"/>
<line x1="230.21" y1="696.5" x2="230.21" y2="700" stroke="#444" stroke-width="0.9"/>
<text x="230.21" y="707.3" font-family="Liberation Sans" font-size="8.2" fill="#2b2b2b" font-weight="normal" font-style="normal" text-anchor="middle" >10</text>
<line x1="276.72" y1="696.5" x2="276.72" y2="698.5" stroke="#444" stroke-width="0.9"/>
<line x1="303.92" y1="696.5" x2="303.92" y2="698.5" stroke="#444" stroke-width="0.9"/>
<line x1="323.23" y1="696.5" x2="323.23" y2="698.5" stroke="#444" stroke-width="0.9"/>
<line x1="338.2" y1="696.5" x2="338.2" y2="700" stroke="#444" stroke-width="0.9"/>
<text x="338.2" y="707.3" font-family="Liberation Sans" font-size="8.2" fill="#2b2b2b" font-weight="normal" font-style="normal" text-anchor="middle" >50</text>
<text x="165.2" y="709.2" font-family="Liberation Sans" font-size="9.8" fill="#231f20" font-weight="bold" font-style="italic" text-anchor="start" textLength="35" lengthAdjust="spacingAndGlyphs" >Y (ppm)</text>
<g transform="translate(10.3,571.3) rotate(-90)"><text x="0" y="0" font-family="Liberation Sans" font-size="9.8" fill="#231f20" font-weight="bold" font-style="italic" text-anchor="middle" textLength="39.5" lengthAdjust="spacingAndGlyphs" >Sr (ppm)</text></g>
<rect x="29.5" y="680.6" width="15.6" height="15.6" fill="#fff" stroke="#4a3f3f" stroke-width="0.7"/><text x="37.3" y="694.3" font-family="Liberation Sans" font-size="15.5" fill="#231f20" font-weight="normal" font-style="normal" text-anchor="middle" >c</text>
<line x1="372.7" y1="472.4" x2="681.9" y2="472.4" stroke="#444" stroke-width="1.2"/>
<line x1="681.9" y1="472.4" x2="681.9" y2="696.5" stroke="#666" stroke-width="1"/>
<line x1="372.7" y1="472.4" x2="372.7" y2="696.5" stroke="#555" stroke-width="1.3"/>
<line x1="368.2" y1="696.5" x2="681.9" y2="696.5" stroke="#444" stroke-width="1"/>
<line x1="368.2" y1="696.5" x2="372.7" y2="696.5" stroke="#444" stroke-width="0.9"/>
<text x="367.2" y="699.4" font-family="Liberation Sans" font-size="8.2" fill="#2b2b2b" font-weight="normal" font-style="normal" text-anchor="end" >50</text>
<line x1="370.4" y1="684.19" x2="372.7" y2="684.19" stroke="#444" stroke-width="0.9"/>
<line x1="370.4" y1="673.78" x2="372.7" y2="673.78" stroke="#444" stroke-width="0.9"/>
<line x1="370.4" y1="664.76" x2="372.7" y2="664.76" stroke="#444" stroke-width="0.9"/>
<line x1="370.4" y1="656.81" x2="372.7" y2="656.81" stroke="#444" stroke-width="0.9"/>
<line x1="368.2" y1="649.69" x2="372.7" y2="649.69" stroke="#444" stroke-width="0.9"/>
<text x="367.2" y="652.59" font-family="Liberation Sans" font-size="8.2" fill="#2b2b2b" font-weight="normal" font-style="normal" text-anchor="end" >100</text>
<line x1="370.4" y1="602.88" x2="372.7" y2="602.88" stroke="#444" stroke-width="0.9"/>
<line x1="370.4" y1="575.5" x2="372.7" y2="575.5" stroke="#444" stroke-width="0.9"/>
<line x1="370.4" y1="556.07" x2="372.7" y2="556.07" stroke="#444" stroke-width="0.9"/>
<line x1="368.2" y1="541" x2="372.7" y2="541" stroke="#444" stroke-width="0.9"/>
<text x="367.2" y="543.9" font-family="Liberation Sans" font-size="8.2" fill="#2b2b2b" font-weight="normal" font-style="normal" text-anchor="end" >500</text>
<line x1="370.4" y1="528.69" x2="372.7" y2="528.69" stroke="#444" stroke-width="0.9"/>
<line x1="370.4" y1="518.28" x2="372.7" y2="518.28" stroke="#444" stroke-width="0.9"/>
<line x1="370.4" y1="509.26" x2="372.7" y2="509.26" stroke="#444" stroke-width="0.9"/>
<line x1="370.4" y1="501.31" x2="372.7" y2="501.31" stroke="#444" stroke-width="0.9"/>
<line x1="368.2" y1="494.19" x2="372.7" y2="494.19" stroke="#444" stroke-width="0.9"/>
<text x="367.2" y="497.09" font-family="Liberation Sans" font-size="8.2" fill="#2b2b2b" font-weight="normal" font-style="normal" text-anchor="end" >1000</text>
<line x1="372.7" y1="696.5" x2="372.7" y2="700" stroke="#444" stroke-width="0.9"/>
<text x="372.7" y="707.3" font-family="Liberation Sans" font-size="8.2" fill="#2b2b2b" font-weight="normal" font-style="normal" text-anchor="middle" >0.5</text>
<line x1="384.93" y1="696.5" x2="384.93" y2="698.5" stroke="#444" stroke-width="0.9"/>
<line x1="395.28" y1="696.5" x2="395.28" y2="698.5" stroke="#444" stroke-width="0.9"/>
<line x1="404.24" y1="696.5" x2="404.24" y2="698.5" stroke="#444" stroke-width="0.9"/>
<line x1="412.14" y1="696.5" x2="412.14" y2="698.5" stroke="#444" stroke-width="0.9"/>
<line x1="419.21" y1="696.5" x2="419.21" y2="700" stroke="#444" stroke-width="0.9"/>
<text x="419.21" y="707.3" font-family="Liberation Sans" font-size="8.2" fill="#2b2b2b" font-weight="normal" font-style="normal" text-anchor="middle" >1</text>
<line x1="465.72" y1="696.5" x2="465.72" y2="698.5" stroke="#444" stroke-width="0.9"/>
<line x1="492.92" y1="696.5" x2="492.92" y2="698.5" stroke="#444" stroke-width="0.9"/>
<line x1="512.23" y1="696.5" x2="512.23" y2="698.5" stroke="#444" stroke-width="0.9"/>
<line x1="527.2" y1="696.5" x2="527.2" y2="698.5" stroke="#444" stroke-width="0.9"/>
<line x1="539.43" y1="696.5" x2="539.43" y2="698.5" stroke="#444" stroke-width="0.9"/>
<line x1="549.78" y1="696.5" x2="549.78" y2="698.5" stroke="#444" stroke-width="0.9"/>
<line x1="558.74" y1="696.5" x2="558.74" y2="698.5" stroke="#444" stroke-width="0.9"/>
<line x1="566.64" y1="696.5" x2="566.64" y2="698.5" stroke="#444" stroke-width="0.9"/>
<line x1="573.71" y1="696.5" x2="573.71" y2="700" stroke="#444" stroke-width="0.9"/>
<text x="573.71" y="707.3" font-family="Liberation Sans" font-size="8.2" fill="#2b2b2b" font-weight="normal" font-style="normal" text-anchor="middle" >10</text>
<line x1="620.22" y1="696.5" x2="620.22" y2="698.5" stroke="#444" stroke-width="0.9"/>
<line x1="647.42" y1="696.5" x2="647.42" y2="698.5" stroke="#444" stroke-width="0.9"/>
<line x1="666.73" y1="696.5" x2="666.73" y2="698.5" stroke="#444" stroke-width="0.9"/>
<line x1="681.7" y1="696.5" x2="681.7" y2="700" stroke="#444" stroke-width="0.9"/>
<text x="681.7" y="707.3" font-family="Liberation Sans" font-size="8.2" fill="#2b2b2b" font-weight="normal" font-style="normal" text-anchor="middle" >50</text>
<text x="508.7" y="709.2" font-family="Liberation Sans" font-size="9.8" fill="#231f20" font-weight="bold" font-style="italic" text-anchor="start" textLength="35" lengthAdjust="spacingAndGlyphs" >Y (ppm)</text>
<g transform="translate(353.8,571.3) rotate(-90)"><text x="0" y="0" font-family="Liberation Sans" font-size="9.8" fill="#231f20" font-weight="bold" font-style="italic" text-anchor="middle" textLength="39.5" lengthAdjust="spacingAndGlyphs" >Sr (ppm)</text></g>
<rect x="373" y="680.6" width="15.6" height="15.6" fill="#fff" stroke="#4a3f3f" stroke-width="0.7"/><text x="380.8" y="694.3" font-family="Liberation Sans" font-size="15.5" fill="#231f20" font-weight="normal" font-style="normal" text-anchor="middle" >g</text>
<line x1="29.4" y1="717.6" x2="338.4" y2="717.6" stroke="#555" stroke-width="1.2"/>
<line x1="338.4" y1="717.6" x2="338.4" y2="919.5" stroke="#666" stroke-width="1"/>
<line x1="29.4" y1="717.6" x2="29.4" y2="919.5" stroke="#5a5a5a" stroke-width="1.3"/>
<line x1="24.9" y1="919.5" x2="338.4" y2="919.5" stroke="#444" stroke-width="1"/>
<line x1="25.4" y1="919.5" x2="29.4" y2="919.5" stroke="#444" stroke-width="0.9"/>
<text x="24.4" y="922.4" font-family="Liberation Sans" font-size="8.2" fill="#2b2b2b" font-weight="normal" font-style="normal" text-anchor="end" >1</text>
<line x1="25.4" y1="872.84" x2="29.4" y2="872.84" stroke="#444" stroke-width="0.9"/>
<text x="24.4" y="875.74" font-family="Liberation Sans" font-size="8.2" fill="#2b2b2b" font-weight="normal" font-style="normal" text-anchor="end" >2</text>
<line x1="27.2" y1="845.55" x2="29.4" y2="845.55" stroke="#444" stroke-width="0.9"/>
<line x1="27.2" y1="826.18" x2="29.4" y2="826.18" stroke="#444" stroke-width="0.9"/>
<line x1="25.4" y1="811.16" x2="29.4" y2="811.16" stroke="#444" stroke-width="0.9"/>
<text x="24.4" y="814.06" font-family="Liberation Sans" font-size="8.2" fill="#2b2b2b" font-weight="normal" font-style="normal" text-anchor="end" >5</text>
<line x1="27.2" y1="798.89" x2="29.4" y2="798.89" stroke="#444" stroke-width="0.9"/>
<line x1="27.2" y1="788.51" x2="29.4" y2="788.51" stroke="#444" stroke-width="0.9"/>
<line x1="27.2" y1="779.52" x2="29.4" y2="779.52" stroke="#444" stroke-width="0.9"/>
<line x1="27.2" y1="771.59" x2="29.4" y2="771.59" stroke="#444" stroke-width="0.9"/>
<line x1="25.4" y1="764.5" x2="29.4" y2="764.5" stroke="#444" stroke-width="0.9"/>
<text x="24.4" y="767.4" font-family="Liberation Sans" font-size="8.2" fill="#2b2b2b" font-weight="normal" font-style="normal" text-anchor="end" >10</text>
<line x1="25.4" y1="717.84" x2="29.4" y2="717.84" stroke="#444" stroke-width="0.9"/>
<text x="24.4" y="720.74" font-family="Liberation Sans" font-size="8.2" fill="#2b2b2b" font-weight="normal" font-style="normal" text-anchor="end" >20</text>
<line x1="29.4" y1="919.5" x2="29.4" y2="923" stroke="#444" stroke-width="0.9"/>
<text x="29.4" y="929.8" font-family="Liberation Sans" font-size="8.2" fill="#2b2b2b" font-weight="normal" font-style="normal" text-anchor="middle" >0.01</text>
<line x1="60.41" y1="919.5" x2="60.41" y2="921.5" stroke="#444" stroke-width="0.9"/>
<line x1="78.54" y1="919.5" x2="78.54" y2="921.5" stroke="#444" stroke-width="0.9"/>
<line x1="91.41" y1="919.5" x2="91.41" y2="921.5" stroke="#444" stroke-width="0.9"/>
<line x1="101.39" y1="919.5" x2="101.39" y2="921.5" stroke="#444" stroke-width="0.9"/>
<line x1="109.55" y1="919.5" x2="109.55" y2="921.5" stroke="#444" stroke-width="0.9"/>
<line x1="116.45" y1="919.5" x2="116.45" y2="921.5" stroke="#444" stroke-width="0.9"/>
<line x1="122.42" y1="919.5" x2="122.42" y2="921.5" stroke="#444" stroke-width="0.9"/>
<line x1="127.69" y1="919.5" x2="127.69" y2="921.5" stroke="#444" stroke-width="0.9"/>
<line x1="132.4" y1="919.5" x2="132.4" y2="923" stroke="#444" stroke-width="0.9"/>
<text x="132.4" y="929.8" font-family="Liberation Sans" font-size="8.2" fill="#2b2b2b" font-weight="normal" font-style="normal" text-anchor="middle" >0.1</text>
<line x1="163.41" y1="919.5" x2="163.41" y2="921.5" stroke="#444" stroke-width="0.9"/>
<line x1="181.54" y1="919.5" x2="181.54" y2="921.5" stroke="#444" stroke-width="0.9"/>
<line x1="194.41" y1="919.5" x2="194.41" y2="921.5" stroke="#444" stroke-width="0.9"/>
<line x1="204.39" y1="919.5" x2="204.39" y2="921.5" stroke="#444" stroke-width="0.9"/>
<line x1="212.55" y1="919.5" x2="212.55" y2="921.5" stroke="#444" stroke-width="0.9"/>
<line x1="219.45" y1="919.5" x2="219.45" y2="921.5" stroke="#444" stroke-width="0.9"/>
<line x1="225.42" y1="919.5" x2="225.42" y2="921.5" stroke="#444" stroke-width="0.9"/>
<line x1="230.69" y1="919.5" x2="230.69" y2="921.5" stroke="#444" stroke-width="0.9"/>
<line x1="235.4" y1="919.5" x2="235.4" y2="923" stroke="#444" stroke-width="0.9"/>
<text x="235.4" y="929.8" font-family="Liberation Sans" font-size="8.2" fill="#2b2b2b" font-weight="normal" font-style="normal" text-anchor="middle" >1</text>
<line x1="266.41" y1="919.5" x2="266.41" y2="921.5" stroke="#444" stroke-width="0.9"/>
<line x1="284.54" y1="919.5" x2="284.54" y2="921.5" stroke="#444" stroke-width="0.9"/>
<line x1="297.41" y1="919.5" x2="297.41" y2="921.5" stroke="#444" stroke-width="0.9"/>
<line x1="307.39" y1="919.5" x2="307.39" y2="921.5" stroke="#444" stroke-width="0.9"/>
<line x1="315.55" y1="919.5" x2="315.55" y2="921.5" stroke="#444" stroke-width="0.9"/>
<line x1="322.45" y1="919.5" x2="322.45" y2="921.5" stroke="#444" stroke-width="0.9"/>
<line x1="328.42" y1="919.5" x2="328.42" y2="921.5" stroke="#444" stroke-width="0.9"/>
<line x1="333.69" y1="919.5" x2="333.69" y2="921.5" stroke="#444" stroke-width="0.9"/>
<line x1="338.4" y1="919.5" x2="338.4" y2="923" stroke="#444" stroke-width="0.9"/>
<text x="338.4" y="929.8" font-family="Liberation Sans" font-size="8.2" fill="#2b2b2b" font-weight="normal" font-style="normal" text-anchor="middle" >10</text>
<text x="163.3" y="933" font-family="Liberation Sans" font-size="9.6" fill="#231f20" font-weight="bold" font-style="italic" text-anchor="start" textLength="40.5" lengthAdjust="spacingAndGlyphs" >Ta (ppm)</text>
<g transform="translate(15.1,818.7) rotate(-90)"><text x="0" y="0" font-family="Liberation Sans" font-size="9.6" fill="#231f20" font-weight="bold" font-style="italic" text-anchor="middle" textLength="42.6" lengthAdjust="spacingAndGlyphs" >Nb (ppm)</text></g>
<rect x="29.7" y="903.6" width="15.6" height="15.6" fill="#fff" stroke="#4a3f3f" stroke-width="0.7"/><text x="37.5" y="917.3" font-family="Liberation Sans" font-size="15.5" fill="#231f20" font-weight="normal" font-style="normal" text-anchor="middle" >d</text>
<line x1="372.9" y1="717.6" x2="681.9" y2="717.6" stroke="#555" stroke-width="1.2"/>
<line x1="681.9" y1="717.6" x2="681.9" y2="919.5" stroke="#666" stroke-width="1"/>
<line x1="372.9" y1="717.6" x2="372.9" y2="919.5" stroke="#5a5a5a" stroke-width="1.3"/>
<line x1="368.4" y1="919.5" x2="681.9" y2="919.5" stroke="#444" stroke-width="1"/>
<line x1="368.9" y1="919.5" x2="372.9" y2="919.5" stroke="#444" stroke-width="0.9"/>
<text x="367.9" y="922.4" font-family="Liberation Sans" font-size="8.2" fill="#2b2b2b" font-weight="normal" font-style="normal" text-anchor="end" >0.5</text>
<line x1="370.7" y1="907.23" x2="372.9" y2="907.23" stroke="#444" stroke-width="0.9"/>
<line x1="370.7" y1="896.85" x2="372.9" y2="896.85" stroke="#444" stroke-width="0.9"/>
<line x1="370.7" y1="887.86" x2="372.9" y2="887.86" stroke="#444" stroke-width="0.9"/>
<line x1="370.7" y1="879.93" x2="372.9" y2="879.93" stroke="#444" stroke-width="0.9"/>
<line x1="368.9" y1="872.84" x2="372.9" y2="872.84" stroke="#444" stroke-width="0.9"/>
<text x="367.9" y="875.74" font-family="Liberation Sans" font-size="8.2" fill="#2b2b2b" font-weight="normal" font-style="normal" text-anchor="end" >1</text>
<line x1="368.9" y1="826.18" x2="372.9" y2="826.18" stroke="#444" stroke-width="0.9"/>
<text x="367.9" y="829.08" font-family="Liberation Sans" font-size="8.2" fill="#2b2b2b" font-weight="normal" font-style="normal" text-anchor="end" >2</text>
<line x1="370.7" y1="798.89" x2="372.9" y2="798.89" stroke="#444" stroke-width="0.9"/>
<line x1="370.7" y1="779.52" x2="372.9" y2="779.52" stroke="#444" stroke-width="0.9"/>
<line x1="368.9" y1="764.5" x2="372.9" y2="764.5" stroke="#444" stroke-width="0.9"/>
<text x="367.9" y="767.4" font-family="Liberation Sans" font-size="8.2" fill="#2b2b2b" font-weight="normal" font-style="normal" text-anchor="end" >5</text>
<line x1="370.7" y1="752.23" x2="372.9" y2="752.23" stroke="#444" stroke-width="0.9"/>
<line x1="370.7" y1="741.85" x2="372.9" y2="741.85" stroke="#444" stroke-width="0.9"/>
<line x1="370.7" y1="732.86" x2="372.9" y2="732.86" stroke="#444" stroke-width="0.9"/>
<line x1="370.7" y1="724.93" x2="372.9" y2="724.93" stroke="#444" stroke-width="0.9"/>
<line x1="368.9" y1="717.84" x2="372.9" y2="717.84" stroke="#444" stroke-width="0.9"/>
<text x="367.9" y="720.74" font-family="Liberation Sans" font-size="8.2" fill="#2b2b2b" font-weight="normal" font-style="normal" text-anchor="end" >10</text>
<line x1="372.9" y1="919.5" x2="372.9" y2="923" stroke="#444" stroke-width="0.9"/>
<text x="372.9" y="929.8" font-family="Liberation Sans" font-size="8.2" fill="#2b2b2b" font-weight="normal" font-style="normal" text-anchor="middle" >0.01</text>
<line x1="403.91" y1="919.5" x2="403.91" y2="921.5" stroke="#444" stroke-width="0.9"/>
<line x1="422.04" y1="919.5" x2="422.04" y2="921.5" stroke="#444" stroke-width="0.9"/>
<line x1="434.91" y1="919.5" x2="434.91" y2="921.5" stroke="#444" stroke-width="0.9"/>
<line x1="444.89" y1="919.5" x2="444.89" y2="921.5" stroke="#444" stroke-width="0.9"/>
<line x1="453.05" y1="919.5" x2="453.05" y2="921.5" stroke="#444" stroke-width="0.9"/>
<line x1="459.95" y1="919.5" x2="459.95" y2="921.5" stroke="#444" stroke-width="0.9"/>
<line x1="465.92" y1="919.5" x2="465.92" y2="921.5" stroke="#444" stroke-width="0.9"/>
<line x1="471.19" y1="919.5" x2="471.19" y2="921.5" stroke="#444" stroke-width="0.9"/>
<line x1="475.9" y1="919.5" x2="475.9" y2="923" stroke="#444" stroke-width="0.9"/>
<text x="475.9" y="929.8" font-family="Liberation Sans" font-size="8.2" fill="#2b2b2b" font-weight="normal" font-style="normal" text-anchor="middle" >0.1</text>
<line x1="506.91" y1="919.5" x2="506.91" y2="921.5" stroke="#444" stroke-width="0.9"/>
<line x1="525.04" y1="919.5" x2="525.04" y2="921.5" stroke="#444" stroke-width="0.9"/>
<line x1="537.91" y1="919.5" x2="537.91" y2="921.5" stroke="#444" stroke-width="0.9"/>
<line x1="547.89" y1="919.5" x2="547.89" y2="921.5" stroke="#444" stroke-width="0.9"/>
<line x1="556.05" y1="919.5" x2="556.05" y2="921.5" stroke="#444" stroke-width="0.9"/>
<line x1="562.95" y1="919.5" x2="562.95" y2="921.5" stroke="#444" stroke-width="0.9"/>
<line x1="568.92" y1="919.5" x2="568.92" y2="921.5" stroke="#444" stroke-width="0.9"/>
<line x1="574.19" y1="919.5" x2="574.19" y2="921.5" stroke="#444" stroke-width="0.9"/>
<line x1="578.9" y1="919.5" x2="578.9" y2="923" stroke="#444" stroke-width="0.9"/>
<text x="578.9" y="929.8" font-family="Liberation Sans" font-size="8.2" fill="#2b2b2b" font-weight="normal" font-style="normal" text-anchor="middle" >1</text>
<line x1="609.91" y1="919.5" x2="609.91" y2="921.5" stroke="#444" stroke-width="0.9"/>
<line x1="628.04" y1="919.5" x2="628.04" y2="921.5" stroke="#444" stroke-width="0.9"/>
<line x1="640.91" y1="919.5" x2="640.91" y2="921.5" stroke="#444" stroke-width="0.9"/>
<line x1="650.89" y1="919.5" x2="650.89" y2="921.5" stroke="#444" stroke-width="0.9"/>
<line x1="659.05" y1="919.5" x2="659.05" y2="921.5" stroke="#444" stroke-width="0.9"/>
<line x1="665.95" y1="919.5" x2="665.95" y2="921.5" stroke="#444" stroke-width="0.9"/>
<line x1="671.92" y1="919.5" x2="671.92" y2="921.5" stroke="#444" stroke-width="0.9"/>
<line x1="677.19" y1="919.5" x2="677.19" y2="921.5" stroke="#444" stroke-width="0.9"/>
<line x1="681.9" y1="919.5" x2="681.9" y2="923" stroke="#444" stroke-width="0.9"/>
<text x="681.9" y="929.8" font-family="Liberation Sans" font-size="8.2" fill="#2b2b2b" font-weight="normal" font-style="normal" text-anchor="middle" >10</text>
<text x="506.8" y="933" font-family="Liberation Sans" font-size="9.6" fill="#231f20" font-weight="bold" font-style="italic" text-anchor="start" textLength="40.5" lengthAdjust="spacingAndGlyphs" >Ta (ppm)</text>
<g transform="translate(358.6,818.7) rotate(-90)"><text x="0" y="0" font-family="Liberation Sans" font-size="9.6" fill="#231f20" font-weight="bold" font-style="italic" text-anchor="middle" textLength="42.6" lengthAdjust="spacingAndGlyphs" >Nb (ppm)</text></g>
<rect x="373.2" y="903.6" width="15.6" height="15.6" fill="#fff" stroke="#4a3f3f" stroke-width="0.7"/><text x="381" y="917.3" font-family="Liberation Sans" font-size="15.5" fill="#231f20" font-weight="normal" font-style="normal" text-anchor="middle" >h</text>
<text x="38.2" y="254.6" font-family="Liberation Sans" font-size="8.8" fill="#d6263b" font-weight="bold" font-style="italic" text-anchor="start" textLength="24.8" lengthAdjust="spacingAndGlyphs" >1 H2O</text>
<text x="73.9" y="254.6" font-family="Liberation Sans" font-size="8.8" fill="#f7901e" font-weight="bold" font-style="italic" text-anchor="start" textLength="33.9" lengthAdjust="spacingAndGlyphs" >1.5 H2O</text>
<text x="118.2" y="254.6" font-family="Liberation Sans" font-size="8.8" fill="#fdd20e" font-weight="bold" font-style="italic" text-anchor="start" textLength="34" lengthAdjust="spacingAndGlyphs" >1.8 H2O</text>
<text x="164.4" y="254.6" font-family="Liberation Sans" font-size="8.8" fill="#3aa935" font-weight="bold" font-style="italic" text-anchor="start" textLength="33.9" lengthAdjust="spacingAndGlyphs" >2.5 H2O</text>
<text x="210.1" y="254.6" font-family="Liberation Sans" font-size="8.8" fill="#27b8d2" font-weight="bold" font-style="italic" text-anchor="start" textLength="33.5" lengthAdjust="spacingAndGlyphs" >3.0 H2O</text>
<text x="255.3" y="254.6" font-family="Liberation Sans" font-size="8.8" fill="#2e74b5" font-weight="bold" font-style="italic" text-anchor="start" textLength="34" lengthAdjust="spacingAndGlyphs" >3.5 H2O</text>
<text x="299.2" y="254.6" font-family="Liberation Sans" font-size="8.8" fill="#9364c2" font-weight="bold" font-style="italic" text-anchor="start" textLength="25.8" lengthAdjust="spacingAndGlyphs" >4 H2O</text>
<text x="381.7" y="254.6" font-family="Liberation Sans" font-size="8.8" fill="#d6263b" font-weight="bold" font-style="italic" text-anchor="start" textLength="24.8" lengthAdjust="spacingAndGlyphs" >1 H2O</text>
<text x="417.4" y="254.6" font-family="Liberation Sans" font-size="8.8" fill="#f7901e" font-weight="bold" font-style="italic" text-anchor="start" textLength="33.9" lengthAdjust="spacingAndGlyphs" >1.5 H2O</text>
<text x="461.7" y="254.6" font-family="Liberation Sans" font-size="8.8" fill="#fdd20e" font-weight="bold" font-style="italic" text-anchor="start" textLength="34" lengthAdjust="spacingAndGlyphs" >1.8 H2O</text>
<text x="507.9" y="254.6" font-family="Liberation Sans" font-size="8.8" fill="#3aa935" font-weight="bold" font-style="italic" text-anchor="start" textLength="33.9" lengthAdjust="spacingAndGlyphs" >2.5 H2O</text>
<text x="553.6" y="254.6" font-family="Liberation Sans" font-size="8.8" fill="#27b8d2" font-weight="bold" font-style="italic" text-anchor="start" textLength="33.5" lengthAdjust="spacingAndGlyphs" >3.0 H2O</text>
<text x="598.8" y="254.6" font-family="Liberation Sans" font-size="8.8" fill="#2e74b5" font-weight="bold" font-style="italic" text-anchor="start" textLength="34" lengthAdjust="spacingAndGlyphs" >3.5 H2O</text>
<text x="642.7" y="254.6" font-family="Liberation Sans" font-size="8.8" fill="#9364c2" font-weight="bold" font-style="italic" text-anchor="start" textLength="25.8" lengthAdjust="spacingAndGlyphs" >4 H2O</text>
<text x="38.2" y="482.5" font-family="Liberation Sans" font-size="8.8" fill="#d6263b" font-weight="bold" font-style="italic" text-anchor="start" textLength="24.8" lengthAdjust="spacingAndGlyphs" >1 H2O</text>
<text x="73.9" y="482.5" font-family="Liberation Sans" font-size="8.8" fill="#f7901e" font-weight="bold" font-style="italic" text-anchor="start" textLength="33.9" lengthAdjust="spacingAndGlyphs" >1.5 H2O</text>
<text x="118.2" y="482.5" font-family="Liberation Sans" font-size="8.8" fill="#fdd20e" font-weight="bold" font-style="italic" text-anchor="start" textLength="34" lengthAdjust="spacingAndGlyphs" >1.8 H2O</text>
<text x="164.4" y="482.5" font-family="Liberation Sans" font-size="8.8" fill="#3aa935" font-weight="bold" font-style="italic" text-anchor="start" textLength="33.9" lengthAdjust="spacingAndGlyphs" >2.5 H2O</text>
<text x="210.1" y="482.5" font-family="Liberation Sans" font-size="8.8" fill="#27b8d2" font-weight="bold" font-style="italic" text-anchor="start" textLength="33.5" lengthAdjust="spacingAndGlyphs" >3.0 H2O</text>
<text x="255.3" y="482.5" font-family="Liberation Sans" font-size="8.8" fill="#2e74b5" font-weight="bold" font-style="italic" text-anchor="start" textLength="34" lengthAdjust="spacingAndGlyphs" >3.5 H2O</text>
<text x="299.2" y="482.5" font-family="Liberation Sans" font-size="8.8" fill="#9364c2" font-weight="bold" font-style="italic" text-anchor="start" textLength="25.8" lengthAdjust="spacingAndGlyphs" >4 H2O</text>
<text x="381.7" y="482.5" font-family="Liberation Sans" font-size="8.8" fill="#d6263b" font-weight="bold" font-style="italic" text-anchor="start" textLength="24.8" lengthAdjust="spacingAndGlyphs" >1 H2O</text>
<text x="417.4" y="482.5" font-family="Liberation Sans" font-size="8.8" fill="#f7901e" font-weight="bold" font-style="italic" text-anchor="start" textLength="33.9" lengthAdjust="spacingAndGlyphs" >1.5 H2O</text>
<text x="461.7" y="482.5" font-family="Liberation Sans" font-size="8.8" fill="#fdd20e" font-weight="bold" font-style="italic" text-anchor="start" textLength="34" lengthAdjust="spacingAndGlyphs" >1.8 H2O</text>
<text x="507.9" y="482.5" font-family="Liberation Sans" font-size="8.8" fill="#3aa935" font-weight="bold" font-style="italic" text-anchor="start" textLength="33.9" lengthAdjust="spacingAndGlyphs" >2.5 H2O</text>
<text x="553.6" y="482.5" font-family="Liberation Sans" font-size="8.8" fill="#27b8d2" font-weight="bold" font-style="italic" text-anchor="start" textLength="33.5" lengthAdjust="spacingAndGlyphs" >3.0 H2O</text>
<text x="598.8" y="482.5" font-family="Liberation Sans" font-size="8.8" fill="#2e74b5" font-weight="bold" font-style="italic" text-anchor="start" textLength="34" lengthAdjust="spacingAndGlyphs" >3.5 H2O</text>
<text x="642.7" y="482.5" font-family="Liberation Sans" font-size="8.8" fill="#9364c2" font-weight="bold" font-style="italic" text-anchor="start" textLength="25.8" lengthAdjust="spacingAndGlyphs" >4 H2O</text>
<text x="38.2" y="732.9" font-family="Liberation Sans" font-size="8.8" fill="#d6263b" font-weight="bold" font-style="italic" text-anchor="start" textLength="24.8" lengthAdjust="spacingAndGlyphs" >1 H2O</text>
<text x="73.9" y="732.9" font-family="Liberation Sans" font-size="8.8" fill="#f7901e" font-weight="bold" font-style="italic" text-anchor="start" textLength="33.9" lengthAdjust="spacingAndGlyphs" >1.5 H2O</text>
<text x="118.2" y="732.9" font-family="Liberation Sans" font-size="8.8" fill="#fdd20e" font-weight="bold" font-style="italic" text-anchor="start" textLength="34" lengthAdjust="spacingAndGlyphs" >1.8 H2O</text>
<text x="164.4" y="732.9" font-family="Liberation Sans" font-size="8.8" fill="#3aa935" font-weight="bold" font-style="italic" text-anchor="start" textLength="33.9" lengthAdjust="spacingAndGlyphs" >2.5 H2O</text>
<text x="210.1" y="732.9" font-family="Liberation Sans" font-size="8.8" fill="#27b8d2" font-weight="bold" font-style="italic" text-anchor="start" textLength="33.5" lengthAdjust="spacingAndGlyphs" >3.0 H2O</text>
<text x="255.3" y="732.9" font-family="Liberation Sans" font-size="8.8" fill="#2e74b5" font-weight="bold" font-style="italic" text-anchor="start" textLength="34" lengthAdjust="spacingAndGlyphs" >3.5 H2O</text>
<text x="299.2" y="732.9" font-family="Liberation Sans" font-size="8.8" fill="#9364c2" font-weight="bold" font-style="italic" text-anchor="start" textLength="25.8" lengthAdjust="spacingAndGlyphs" >4 H2O</text>
<text x="381.7" y="732.9" font-family="Liberation Sans" font-size="8.8" fill="#d6263b" font-weight="bold" font-style="italic" text-anchor="start" textLength="24.8" lengthAdjust="spacingAndGlyphs" >1 H2O</text>
<text x="417.4" y="732.9" font-family="Liberation Sans" font-size="8.8" fill="#f7901e" font-weight="bold" font-style="italic" text-anchor="start" textLength="33.9" lengthAdjust="spacingAndGlyphs" >1.5 H2O</text>
<text x="461.7" y="732.9" font-family="Liberation Sans" font-size="8.8" fill="#fdd20e" font-weight="bold" font-style="italic" text-anchor="start" textLength="34" lengthAdjust="spacingAndGlyphs" >1.8 H2O</text>
<text x="507.9" y="732.9" font-family="Liberation Sans" font-size="8.8" fill="#3aa935" font-weight="bold" font-style="italic" text-anchor="start" textLength="33.9" lengthAdjust="spacingAndGlyphs" >2.5 H2O</text>
<text x="553.6" y="732.9" font-family="Liberation Sans" font-size="8.8" fill="#27b8d2" font-weight="bold" font-style="italic" text-anchor="start" textLength="33.5" lengthAdjust="spacingAndGlyphs" >3.0 H2O</text>
<text x="598.8" y="732.9" font-family="Liberation Sans" font-size="8.8" fill="#2e74b5" font-weight="bold" font-style="italic" text-anchor="start" textLength="34" lengthAdjust="spacingAndGlyphs" >3.5 H2O</text>
<text x="642.7" y="732.9" font-family="Liberation Sans" font-size="8.8" fill="#9364c2" font-weight="bold" font-style="italic" text-anchor="start" textLength="25.8" lengthAdjust="spacingAndGlyphs" >4 H2O</text>
</svg>
</body></html>
